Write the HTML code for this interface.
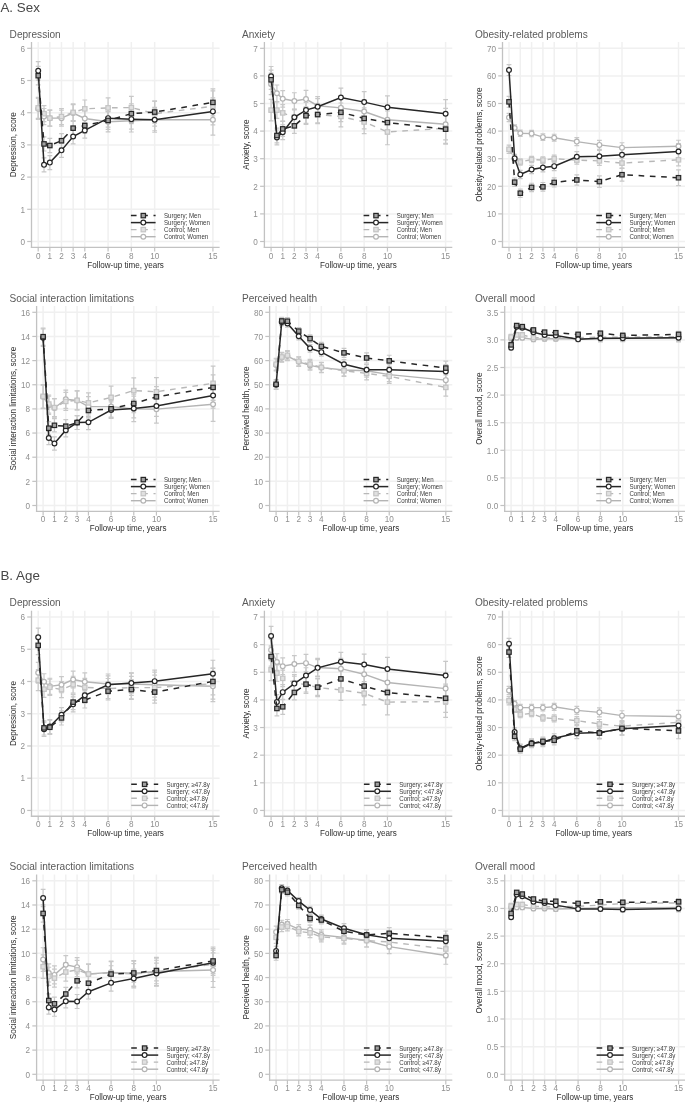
<!DOCTYPE html>
<html><head><meta charset="utf-8"><title>Figure</title>
<style>
html,body{margin:0;padding:0;background:#fff;}
body{width:685px;height:1104px;overflow:hidden;}
svg{display:block;font-family:"Liberation Sans", sans-serif;filter:grayscale(1);}
</style></head>
<body>
<svg width="685" height="1104" viewBox="0 0 685 1104">
<rect width="685" height="1104" fill="#fff"/>
<text transform="translate(0.4 11.7) scale(0.985 1)" fill="#474747" font-size="13.6">A. Sex</text>
<text transform="translate(0.4 580.3) scale(0.985 1)" fill="#474747" font-size="13.6">B. Age</text>
<line x1="31.5" y1="241.5" x2="219.6" y2="241.5" stroke="#eef0f0" stroke-width="1.5"/>
<line x1="31.5" y1="209.3" x2="219.6" y2="209.3" stroke="#eef0f0" stroke-width="1.5"/>
<line x1="31.5" y1="177.1" x2="219.6" y2="177.1" stroke="#eef0f0" stroke-width="1.5"/>
<line x1="31.5" y1="144.9" x2="219.6" y2="144.9" stroke="#eef0f0" stroke-width="1.5"/>
<line x1="31.5" y1="112.7" x2="219.6" y2="112.7" stroke="#eef0f0" stroke-width="1.5"/>
<line x1="31.5" y1="80.5" x2="219.6" y2="80.5" stroke="#eef0f0" stroke-width="1.5"/>
<line x1="31.5" y1="48.3" x2="219.6" y2="48.3" stroke="#eef0f0" stroke-width="1.5"/>
<line x1="38.2" y1="42" x2="38.2" y2="247.3" stroke="#eef0f0" stroke-width="1.5"/>
<line x1="49.84" y1="42" x2="49.84" y2="247.3" stroke="#eef0f0" stroke-width="1.5"/>
<line x1="61.49" y1="42" x2="61.49" y2="247.3" stroke="#eef0f0" stroke-width="1.5"/>
<line x1="73.14" y1="42" x2="73.14" y2="247.3" stroke="#eef0f0" stroke-width="1.5"/>
<line x1="84.79" y1="42" x2="84.79" y2="247.3" stroke="#eef0f0" stroke-width="1.5"/>
<line x1="108.08" y1="42" x2="108.08" y2="247.3" stroke="#eef0f0" stroke-width="1.5"/>
<line x1="131.37" y1="42" x2="131.37" y2="247.3" stroke="#eef0f0" stroke-width="1.5"/>
<line x1="154.67" y1="42" x2="154.67" y2="247.3" stroke="#eef0f0" stroke-width="1.5"/>
<line x1="212.9" y1="42" x2="212.9" y2="247.3" stroke="#eef0f0" stroke-width="1.5"/>
<line x1="31.5" y1="42" x2="31.5" y2="247.95" stroke="#c2c2c2" stroke-width="1.3"/>
<line x1="30.85" y1="247.3" x2="219.6" y2="247.3" stroke="#c2c2c2" stroke-width="1.3"/>
<line x1="27.2" y1="241.5" x2="31.5" y2="241.5" stroke="#c2c2c2" stroke-width="1.2"/>
<text transform="translate(25 244.7) scale(0.87 1)" text-anchor="end" fill="#8f8f8f" font-size="9.4">0</text>
<line x1="27.2" y1="209.3" x2="31.5" y2="209.3" stroke="#c2c2c2" stroke-width="1.2"/>
<text transform="translate(25 212.5) scale(0.87 1)" text-anchor="end" fill="#8f8f8f" font-size="9.4">1</text>
<line x1="27.2" y1="177.1" x2="31.5" y2="177.1" stroke="#c2c2c2" stroke-width="1.2"/>
<text transform="translate(25 180.3) scale(0.87 1)" text-anchor="end" fill="#8f8f8f" font-size="9.4">2</text>
<line x1="27.2" y1="144.9" x2="31.5" y2="144.9" stroke="#c2c2c2" stroke-width="1.2"/>
<text transform="translate(25 148.1) scale(0.87 1)" text-anchor="end" fill="#8f8f8f" font-size="9.4">3</text>
<line x1="27.2" y1="112.7" x2="31.5" y2="112.7" stroke="#c2c2c2" stroke-width="1.2"/>
<text transform="translate(25 115.9) scale(0.87 1)" text-anchor="end" fill="#8f8f8f" font-size="9.4">4</text>
<line x1="27.2" y1="80.5" x2="31.5" y2="80.5" stroke="#c2c2c2" stroke-width="1.2"/>
<text transform="translate(25 83.7) scale(0.87 1)" text-anchor="end" fill="#8f8f8f" font-size="9.4">5</text>
<line x1="27.2" y1="48.3" x2="31.5" y2="48.3" stroke="#c2c2c2" stroke-width="1.2"/>
<text transform="translate(25 51.5) scale(0.87 1)" text-anchor="end" fill="#8f8f8f" font-size="9.4">6</text>
<line x1="38.2" y1="247.3" x2="38.2" y2="251.6" stroke="#c2c2c2" stroke-width="1.2"/>
<text transform="translate(38.2 258.5) scale(0.87 1)" text-anchor="middle" fill="#8f8f8f" font-size="9.4">0</text>
<line x1="49.84" y1="247.3" x2="49.84" y2="251.6" stroke="#c2c2c2" stroke-width="1.2"/>
<text transform="translate(49.84 258.5) scale(0.87 1)" text-anchor="middle" fill="#8f8f8f" font-size="9.4">1</text>
<line x1="61.49" y1="247.3" x2="61.49" y2="251.6" stroke="#c2c2c2" stroke-width="1.2"/>
<text transform="translate(61.49 258.5) scale(0.87 1)" text-anchor="middle" fill="#8f8f8f" font-size="9.4">2</text>
<line x1="73.14" y1="247.3" x2="73.14" y2="251.6" stroke="#c2c2c2" stroke-width="1.2"/>
<text transform="translate(73.14 258.5) scale(0.87 1)" text-anchor="middle" fill="#8f8f8f" font-size="9.4">3</text>
<line x1="84.79" y1="247.3" x2="84.79" y2="251.6" stroke="#c2c2c2" stroke-width="1.2"/>
<text transform="translate(84.79 258.5) scale(0.87 1)" text-anchor="middle" fill="#8f8f8f" font-size="9.4">4</text>
<line x1="108.08" y1="247.3" x2="108.08" y2="251.6" stroke="#c2c2c2" stroke-width="1.2"/>
<text transform="translate(108.08 258.5) scale(0.87 1)" text-anchor="middle" fill="#8f8f8f" font-size="9.4">6</text>
<line x1="131.37" y1="247.3" x2="131.37" y2="251.6" stroke="#c2c2c2" stroke-width="1.2"/>
<text transform="translate(131.37 258.5) scale(0.87 1)" text-anchor="middle" fill="#8f8f8f" font-size="9.4">8</text>
<line x1="154.67" y1="247.3" x2="154.67" y2="251.6" stroke="#c2c2c2" stroke-width="1.2"/>
<text transform="translate(154.67 258.5) scale(0.87 1)" text-anchor="middle" fill="#8f8f8f" font-size="9.4">10</text>
<line x1="212.9" y1="247.3" x2="212.9" y2="251.6" stroke="#c2c2c2" stroke-width="1.2"/>
<text transform="translate(212.9 258.5) scale(0.87 1)" text-anchor="middle" fill="#8f8f8f" font-size="9.4">15</text>
<text transform="translate(9.6 37.6)" fill="#5a5a5a" font-size="10.1">Depression</text>
<text transform="translate(125.55 267.7) scale(0.94 1)" text-anchor="middle" fill="#2e2e2e" font-size="8.6">Follow-up time, years</text>
<text transform="translate(16.1 144.65) rotate(-90) scale(0.94 1)" text-anchor="middle" fill="#2e2e2e" font-size="8.6">Depression, score</text>
<path d="M38.2 98.37V119.3M35.8 98.37h4.8M35.8 119.3h4.8" stroke="#c8c8c8" stroke-width="1.2" fill="none"/>
<path d="M44.02 108.51V124.61M41.62 108.51h4.8M41.62 124.61h4.8" stroke="#c8c8c8" stroke-width="1.2" fill="none"/>
<path d="M49.84 110.12V126.22M47.44 110.12h4.8M47.44 126.22h4.8" stroke="#c8c8c8" stroke-width="1.2" fill="none"/>
<path d="M61.49 110.12V126.22M59.09 110.12h4.8M59.09 126.22h4.8" stroke="#c8c8c8" stroke-width="1.2" fill="none"/>
<path d="M73.14 104.57V121.47M70.74 104.57h4.8M70.74 121.47h4.8" stroke="#c8c8c8" stroke-width="1.2" fill="none"/>
<path d="M84.79 109.64V127.35M82.39 109.64h4.8M82.39 127.35h4.8" stroke="#c8c8c8" stroke-width="1.2" fill="none"/>
<path d="M108.08 111.65V131.78M105.68 111.65h4.8M105.68 131.78h4.8" stroke="#c8c8c8" stroke-width="1.2" fill="none"/>
<path d="M131.37 109.48V132.02M128.97 109.48h4.8M128.97 132.02h4.8" stroke="#c8c8c8" stroke-width="1.2" fill="none"/>
<path d="M154.67 107.31V132.26M152.27 107.31h4.8M152.27 132.26h4.8" stroke="#c8c8c8" stroke-width="1.2" fill="none"/>
<path d="M212.9 104.49V135.08M210.5 104.49h4.8M210.5 135.08h4.8" stroke="#c8c8c8" stroke-width="1.2" fill="none"/>
<path d="M38.2 97.41V118.34M35.8 97.41h4.8M35.8 118.34h4.8" stroke="#c8c8c8" stroke-width="1.2" fill="none"/>
<path d="M44.02 105.62V121.72M41.62 105.62h4.8M41.62 121.72h4.8" stroke="#c8c8c8" stroke-width="1.2" fill="none"/>
<path d="M49.84 110.12V126.22M47.44 110.12h4.8M47.44 126.22h4.8" stroke="#c8c8c8" stroke-width="1.2" fill="none"/>
<path d="M61.49 108.51V124.61M59.09 108.51h4.8M59.09 124.61h4.8" stroke="#c8c8c8" stroke-width="1.2" fill="none"/>
<path d="M73.14 103.93V120.83M70.74 103.93h4.8M70.74 120.83h4.8" stroke="#c8c8c8" stroke-width="1.2" fill="none"/>
<path d="M84.79 99.98V117.69M82.39 99.98h4.8M82.39 117.69h4.8" stroke="#c8c8c8" stroke-width="1.2" fill="none"/>
<path d="M108.08 97.81V117.93M105.68 97.81h4.8M105.68 117.93h4.8" stroke="#c8c8c8" stroke-width="1.2" fill="none"/>
<path d="M131.37 96.28V118.82M128.97 96.28h4.8M128.97 118.82h4.8" stroke="#c8c8c8" stroke-width="1.2" fill="none"/>
<path d="M154.67 101.19V126.14M152.27 101.19h4.8M152.27 126.14h4.8" stroke="#c8c8c8" stroke-width="1.2" fill="none"/>
<path d="M212.9 90.97V121.56M210.5 90.97h4.8M210.5 121.56h4.8" stroke="#c8c8c8" stroke-width="1.2" fill="none"/>
<path d="M38.2 61.63V80.05M35.8 61.63h4.8M35.8 80.05h4.8" stroke="#c8c8c8" stroke-width="1.2" fill="none"/>
<path d="M44.02 157.78V171.95M41.62 157.78h4.8M41.62 171.95h4.8" stroke="#c8c8c8" stroke-width="1.2" fill="none"/>
<path d="M49.84 155.53V169.69M47.44 155.53h4.8M47.44 169.69h4.8" stroke="#c8c8c8" stroke-width="1.2" fill="none"/>
<path d="M61.49 143.29V157.46M59.09 143.29h4.8M59.09 157.46h4.8" stroke="#c8c8c8" stroke-width="1.2" fill="none"/>
<path d="M73.14 129.09V143.97M70.74 129.09h4.8M70.74 143.97h4.8" stroke="#c8c8c8" stroke-width="1.2" fill="none"/>
<path d="M84.79 122.62V138.2M82.39 122.62h4.8M82.39 138.2h4.8" stroke="#c8c8c8" stroke-width="1.2" fill="none"/>
<path d="M108.08 109.32V127.03M105.68 109.32h4.8M105.68 127.03h4.8" stroke="#c8c8c8" stroke-width="1.2" fill="none"/>
<path d="M131.37 109.22V129.06M128.97 109.22h4.8M128.97 129.06h4.8" stroke="#c8c8c8" stroke-width="1.2" fill="none"/>
<path d="M154.67 108.8V130.76M152.27 108.8h4.8M152.27 130.76h4.8" stroke="#c8c8c8" stroke-width="1.2" fill="none"/>
<path d="M212.9 97.95V124.87M210.5 97.95h4.8M210.5 124.87h4.8" stroke="#c8c8c8" stroke-width="1.2" fill="none"/>
<path d="M38.2 66.46V84.88M35.8 66.46h4.8M35.8 84.88h4.8" stroke="#c8c8c8" stroke-width="1.2" fill="none"/>
<path d="M44.02 136.85V151.02M41.62 136.85h4.8M41.62 151.02h4.8" stroke="#c8c8c8" stroke-width="1.2" fill="none"/>
<path d="M49.84 138.46V152.63M47.44 138.46h4.8M47.44 152.63h4.8" stroke="#c8c8c8" stroke-width="1.2" fill="none"/>
<path d="M61.49 133.63V147.8M59.09 133.63h4.8M59.09 147.8h4.8" stroke="#c8c8c8" stroke-width="1.2" fill="none"/>
<path d="M73.14 120.72V135.59M70.74 120.72h4.8M70.74 135.59h4.8" stroke="#c8c8c8" stroke-width="1.2" fill="none"/>
<path d="M84.79 117.79V133.37M82.39 117.79h4.8M82.39 133.37h4.8" stroke="#c8c8c8" stroke-width="1.2" fill="none"/>
<path d="M108.08 111.57V129.28M105.68 111.57h4.8M105.68 129.28h4.8" stroke="#c8c8c8" stroke-width="1.2" fill="none"/>
<path d="M131.37 103.75V123.58M128.97 103.75h4.8M128.97 123.58h4.8" stroke="#c8c8c8" stroke-width="1.2" fill="none"/>
<path d="M154.67 101.08V123.04M152.27 101.08h4.8M152.27 123.04h4.8" stroke="#c8c8c8" stroke-width="1.2" fill="none"/>
<path d="M212.9 88.94V115.86M210.5 88.94h4.8M210.5 115.86h4.8" stroke="#c8c8c8" stroke-width="1.2" fill="none"/>
<polyline points="38.2,108.84 44.02,116.56 49.84,118.17 61.49,118.17 73.14,113.02 84.79,118.5 108.08,121.72 131.37,120.75 154.67,119.78 212.9,119.78" fill="none" stroke="#b4b4b4" stroke-width="1.4"/>
<circle cx="38.2" cy="108.84" r="2.4" fill="#ffffff" stroke="#b4b4b4" stroke-width="1.2"/>
<circle cx="44.02" cy="116.56" r="2.4" fill="#ffffff" stroke="#b4b4b4" stroke-width="1.2"/>
<circle cx="49.84" cy="118.17" r="2.4" fill="#ffffff" stroke="#b4b4b4" stroke-width="1.2"/>
<circle cx="61.49" cy="118.17" r="2.4" fill="#ffffff" stroke="#b4b4b4" stroke-width="1.2"/>
<circle cx="73.14" cy="113.02" r="2.4" fill="#ffffff" stroke="#b4b4b4" stroke-width="1.2"/>
<circle cx="84.79" cy="118.5" r="2.4" fill="#ffffff" stroke="#b4b4b4" stroke-width="1.2"/>
<circle cx="108.08" cy="121.72" r="2.4" fill="#ffffff" stroke="#b4b4b4" stroke-width="1.2"/>
<circle cx="131.37" cy="120.75" r="2.4" fill="#ffffff" stroke="#b4b4b4" stroke-width="1.2"/>
<circle cx="154.67" cy="119.78" r="2.4" fill="#ffffff" stroke="#b4b4b4" stroke-width="1.2"/>
<circle cx="212.9" cy="119.78" r="2.4" fill="#ffffff" stroke="#b4b4b4" stroke-width="1.2"/>
<polyline points="38.2,107.87 44.02,113.67 49.84,118.17 61.49,116.56 73.14,112.38 84.79,108.84 108.08,107.87 131.37,107.55 154.67,113.67 212.9,106.26" fill="none" stroke="#b8b8b8" stroke-width="1.4" stroke-dasharray="5.65 5.65"/>
<rect x="36" y="105.67" width="4.4" height="4.4" fill="#e0e0e0" stroke="#c4c4c4" stroke-width="1.2"/>
<rect x="41.82" y="111.47" width="4.4" height="4.4" fill="#e0e0e0" stroke="#c4c4c4" stroke-width="1.2"/>
<rect x="47.64" y="115.97" width="4.4" height="4.4" fill="#e0e0e0" stroke="#c4c4c4" stroke-width="1.2"/>
<rect x="59.29" y="114.36" width="4.4" height="4.4" fill="#e0e0e0" stroke="#c4c4c4" stroke-width="1.2"/>
<rect x="70.94" y="110.18" width="4.4" height="4.4" fill="#e0e0e0" stroke="#c4c4c4" stroke-width="1.2"/>
<rect x="82.59" y="106.64" width="4.4" height="4.4" fill="#e0e0e0" stroke="#c4c4c4" stroke-width="1.2"/>
<rect x="105.88" y="105.67" width="4.4" height="4.4" fill="#e0e0e0" stroke="#c4c4c4" stroke-width="1.2"/>
<rect x="129.17" y="105.35" width="4.4" height="4.4" fill="#e0e0e0" stroke="#c4c4c4" stroke-width="1.2"/>
<rect x="152.47" y="111.47" width="4.4" height="4.4" fill="#e0e0e0" stroke="#c4c4c4" stroke-width="1.2"/>
<rect x="210.7" y="104.06" width="4.4" height="4.4" fill="#e0e0e0" stroke="#c4c4c4" stroke-width="1.2"/>
<polyline points="38.2,70.84 44.02,164.86 49.84,162.61 61.49,150.37 73.14,136.53 84.79,130.41 108.08,118.17 131.37,119.14 154.67,119.78 212.9,111.41" fill="none" stroke="#262626" stroke-width="1.5"/>
<circle cx="38.2" cy="70.84" r="2.4" fill="#ffffff" stroke="#262626" stroke-width="1.2"/>
<circle cx="44.02" cy="164.86" r="2.4" fill="#ffffff" stroke="#262626" stroke-width="1.2"/>
<circle cx="49.84" cy="162.61" r="2.4" fill="#ffffff" stroke="#262626" stroke-width="1.2"/>
<circle cx="61.49" cy="150.37" r="2.4" fill="#ffffff" stroke="#262626" stroke-width="1.2"/>
<circle cx="73.14" cy="136.53" r="2.4" fill="#ffffff" stroke="#262626" stroke-width="1.2"/>
<circle cx="84.79" cy="130.41" r="2.4" fill="#ffffff" stroke="#262626" stroke-width="1.2"/>
<circle cx="108.08" cy="118.17" r="2.4" fill="#ffffff" stroke="#262626" stroke-width="1.2"/>
<circle cx="131.37" cy="119.14" r="2.4" fill="#ffffff" stroke="#262626" stroke-width="1.2"/>
<circle cx="154.67" cy="119.78" r="2.4" fill="#ffffff" stroke="#262626" stroke-width="1.2"/>
<circle cx="212.9" cy="111.41" r="2.4" fill="#ffffff" stroke="#262626" stroke-width="1.2"/>
<polyline points="38.2,75.67 44.02,143.93 49.84,145.54 61.49,140.71 73.14,128.16 84.79,125.58 108.08,120.43 131.37,113.67 154.67,112.06 212.9,102.4" fill="none" stroke="#262626" stroke-width="1.5" stroke-dasharray="5.65 5.65"/>
<rect x="36" y="73.47" width="4.4" height="4.4" fill="#a0a0a0" stroke="#262626" stroke-width="1.2"/>
<rect x="41.82" y="141.73" width="4.4" height="4.4" fill="#a0a0a0" stroke="#262626" stroke-width="1.2"/>
<rect x="47.64" y="143.34" width="4.4" height="4.4" fill="#a0a0a0" stroke="#262626" stroke-width="1.2"/>
<rect x="59.29" y="138.51" width="4.4" height="4.4" fill="#a0a0a0" stroke="#262626" stroke-width="1.2"/>
<rect x="70.94" y="125.96" width="4.4" height="4.4" fill="#a0a0a0" stroke="#262626" stroke-width="1.2"/>
<rect x="82.59" y="123.38" width="4.4" height="4.4" fill="#a0a0a0" stroke="#262626" stroke-width="1.2"/>
<rect x="105.88" y="118.23" width="4.4" height="4.4" fill="#a0a0a0" stroke="#262626" stroke-width="1.2"/>
<rect x="129.17" y="111.47" width="4.4" height="4.4" fill="#a0a0a0" stroke="#262626" stroke-width="1.2"/>
<rect x="152.47" y="109.86" width="4.4" height="4.4" fill="#a0a0a0" stroke="#262626" stroke-width="1.2"/>
<rect x="210.7" y="100.2" width="4.4" height="4.4" fill="#a0a0a0" stroke="#262626" stroke-width="1.2"/>
<line x1="130.9" y1="215.6" x2="155.6" y2="215.6" stroke="#262626" stroke-width="1.5" stroke-dasharray="5.65 5.65"/>
<rect x="141.1" y="213.4" width="4.4" height="4.4" fill="#a0a0a0" stroke="#262626" stroke-width="1.2"/>
<text transform="translate(164 218) scale(0.905 1)" fill="#3a3a3a" font-size="6.8">Surgery; Men</text>
<line x1="130.9" y1="222.6" x2="155.6" y2="222.6" stroke="#262626" stroke-width="1.5"/>
<circle cx="143.3" cy="222.6" r="2.4" fill="#ffffff" stroke="#262626" stroke-width="1.2"/>
<text transform="translate(164 225) scale(0.905 1)" fill="#3a3a3a" font-size="6.8">Surgery; Women</text>
<line x1="130.9" y1="229.6" x2="155.6" y2="229.6" stroke="#b8b8b8" stroke-width="1.4" stroke-dasharray="5.65 5.65"/>
<rect x="141.1" y="227.4" width="4.4" height="4.4" fill="#e0e0e0" stroke="#c4c4c4" stroke-width="1.2"/>
<text transform="translate(164 232) scale(0.905 1)" fill="#3a3a3a" font-size="6.8">Control; Men</text>
<line x1="130.9" y1="236.7" x2="155.6" y2="236.7" stroke="#b4b4b4" stroke-width="1.4"/>
<circle cx="143.3" cy="236.7" r="2.4" fill="#ffffff" stroke="#b4b4b4" stroke-width="1.2"/>
<text transform="translate(164 239.1) scale(0.905 1)" fill="#3a3a3a" font-size="6.8">Control; Women</text>
<line x1="264.4" y1="241.5" x2="452.3" y2="241.5" stroke="#eef0f0" stroke-width="1.5"/>
<line x1="264.4" y1="213.9" x2="452.3" y2="213.9" stroke="#eef0f0" stroke-width="1.5"/>
<line x1="264.4" y1="186.3" x2="452.3" y2="186.3" stroke="#eef0f0" stroke-width="1.5"/>
<line x1="264.4" y1="158.7" x2="452.3" y2="158.7" stroke="#eef0f0" stroke-width="1.5"/>
<line x1="264.4" y1="131.1" x2="452.3" y2="131.1" stroke="#eef0f0" stroke-width="1.5"/>
<line x1="264.4" y1="103.5" x2="452.3" y2="103.5" stroke="#eef0f0" stroke-width="1.5"/>
<line x1="264.4" y1="75.9" x2="452.3" y2="75.9" stroke="#eef0f0" stroke-width="1.5"/>
<line x1="264.4" y1="48.3" x2="452.3" y2="48.3" stroke="#eef0f0" stroke-width="1.5"/>
<line x1="271.09" y1="42" x2="271.09" y2="247.3" stroke="#eef0f0" stroke-width="1.5"/>
<line x1="282.72" y1="42" x2="282.72" y2="247.3" stroke="#eef0f0" stroke-width="1.5"/>
<line x1="294.36" y1="42" x2="294.36" y2="247.3" stroke="#eef0f0" stroke-width="1.5"/>
<line x1="305.99" y1="42" x2="305.99" y2="247.3" stroke="#eef0f0" stroke-width="1.5"/>
<line x1="317.63" y1="42" x2="317.63" y2="247.3" stroke="#eef0f0" stroke-width="1.5"/>
<line x1="340.9" y1="42" x2="340.9" y2="247.3" stroke="#eef0f0" stroke-width="1.5"/>
<line x1="364.17" y1="42" x2="364.17" y2="247.3" stroke="#eef0f0" stroke-width="1.5"/>
<line x1="387.44" y1="42" x2="387.44" y2="247.3" stroke="#eef0f0" stroke-width="1.5"/>
<line x1="445.61" y1="42" x2="445.61" y2="247.3" stroke="#eef0f0" stroke-width="1.5"/>
<line x1="264.4" y1="42" x2="264.4" y2="247.95" stroke="#c2c2c2" stroke-width="1.3"/>
<line x1="263.75" y1="247.3" x2="452.3" y2="247.3" stroke="#c2c2c2" stroke-width="1.3"/>
<line x1="260.1" y1="241.5" x2="264.4" y2="241.5" stroke="#c2c2c2" stroke-width="1.2"/>
<text transform="translate(257.9 244.7) scale(0.87 1)" text-anchor="end" fill="#8f8f8f" font-size="9.4">0</text>
<line x1="260.1" y1="213.9" x2="264.4" y2="213.9" stroke="#c2c2c2" stroke-width="1.2"/>
<text transform="translate(257.9 217.1) scale(0.87 1)" text-anchor="end" fill="#8f8f8f" font-size="9.4">1</text>
<line x1="260.1" y1="186.3" x2="264.4" y2="186.3" stroke="#c2c2c2" stroke-width="1.2"/>
<text transform="translate(257.9 189.5) scale(0.87 1)" text-anchor="end" fill="#8f8f8f" font-size="9.4">2</text>
<line x1="260.1" y1="158.7" x2="264.4" y2="158.7" stroke="#c2c2c2" stroke-width="1.2"/>
<text transform="translate(257.9 161.9) scale(0.87 1)" text-anchor="end" fill="#8f8f8f" font-size="9.4">3</text>
<line x1="260.1" y1="131.1" x2="264.4" y2="131.1" stroke="#c2c2c2" stroke-width="1.2"/>
<text transform="translate(257.9 134.3) scale(0.87 1)" text-anchor="end" fill="#8f8f8f" font-size="9.4">4</text>
<line x1="260.1" y1="103.5" x2="264.4" y2="103.5" stroke="#c2c2c2" stroke-width="1.2"/>
<text transform="translate(257.9 106.7) scale(0.87 1)" text-anchor="end" fill="#8f8f8f" font-size="9.4">5</text>
<line x1="260.1" y1="75.9" x2="264.4" y2="75.9" stroke="#c2c2c2" stroke-width="1.2"/>
<text transform="translate(257.9 79.1) scale(0.87 1)" text-anchor="end" fill="#8f8f8f" font-size="9.4">6</text>
<line x1="260.1" y1="48.3" x2="264.4" y2="48.3" stroke="#c2c2c2" stroke-width="1.2"/>
<text transform="translate(257.9 51.5) scale(0.87 1)" text-anchor="end" fill="#8f8f8f" font-size="9.4">7</text>
<line x1="271.09" y1="247.3" x2="271.09" y2="251.6" stroke="#c2c2c2" stroke-width="1.2"/>
<text transform="translate(271.09 258.5) scale(0.87 1)" text-anchor="middle" fill="#8f8f8f" font-size="9.4">0</text>
<line x1="282.72" y1="247.3" x2="282.72" y2="251.6" stroke="#c2c2c2" stroke-width="1.2"/>
<text transform="translate(282.72 258.5) scale(0.87 1)" text-anchor="middle" fill="#8f8f8f" font-size="9.4">1</text>
<line x1="294.36" y1="247.3" x2="294.36" y2="251.6" stroke="#c2c2c2" stroke-width="1.2"/>
<text transform="translate(294.36 258.5) scale(0.87 1)" text-anchor="middle" fill="#8f8f8f" font-size="9.4">2</text>
<line x1="305.99" y1="247.3" x2="305.99" y2="251.6" stroke="#c2c2c2" stroke-width="1.2"/>
<text transform="translate(305.99 258.5) scale(0.87 1)" text-anchor="middle" fill="#8f8f8f" font-size="9.4">3</text>
<line x1="317.63" y1="247.3" x2="317.63" y2="251.6" stroke="#c2c2c2" stroke-width="1.2"/>
<text transform="translate(317.63 258.5) scale(0.87 1)" text-anchor="middle" fill="#8f8f8f" font-size="9.4">4</text>
<line x1="340.9" y1="247.3" x2="340.9" y2="251.6" stroke="#c2c2c2" stroke-width="1.2"/>
<text transform="translate(340.9 258.5) scale(0.87 1)" text-anchor="middle" fill="#8f8f8f" font-size="9.4">6</text>
<line x1="364.17" y1="247.3" x2="364.17" y2="251.6" stroke="#c2c2c2" stroke-width="1.2"/>
<text transform="translate(364.17 258.5) scale(0.87 1)" text-anchor="middle" fill="#8f8f8f" font-size="9.4">8</text>
<line x1="387.44" y1="247.3" x2="387.44" y2="251.6" stroke="#c2c2c2" stroke-width="1.2"/>
<text transform="translate(387.44 258.5) scale(0.87 1)" text-anchor="middle" fill="#8f8f8f" font-size="9.4">10</text>
<line x1="445.61" y1="247.3" x2="445.61" y2="251.6" stroke="#c2c2c2" stroke-width="1.2"/>
<text transform="translate(445.61 258.5) scale(0.87 1)" text-anchor="middle" fill="#8f8f8f" font-size="9.4">15</text>
<text transform="translate(241.9 37.6)" fill="#5a5a5a" font-size="10.1">Anxiety</text>
<text transform="translate(358.35 267.7) scale(0.94 1)" text-anchor="middle" fill="#2e2e2e" font-size="8.6">Follow-up time, years</text>
<text transform="translate(248.8 144.65) rotate(-90) scale(0.94 1)" text-anchor="middle" fill="#2e2e2e" font-size="8.6">Anxiety, score</text>
<path d="M271.09 73.14V94.67M268.69 73.14h4.8M268.69 94.67h4.8" stroke="#c8c8c8" stroke-width="1.2" fill="none"/>
<path d="M276.91 85.01V101.57M274.51 85.01h4.8M274.51 101.57h4.8" stroke="#c8c8c8" stroke-width="1.2" fill="none"/>
<path d="M282.72 90.53V107.09M280.32 90.53h4.8M280.32 107.09h4.8" stroke="#c8c8c8" stroke-width="1.2" fill="none"/>
<path d="M294.36 92.74V109.3M291.96 92.74h4.8M291.96 109.3h4.8" stroke="#c8c8c8" stroke-width="1.2" fill="none"/>
<path d="M305.99 90.39V107.78M303.59 90.39h4.8M303.59 107.78h4.8" stroke="#c8c8c8" stroke-width="1.2" fill="none"/>
<path d="M317.63 96.6V114.82M315.23 96.6h4.8M315.23 114.82h4.8" stroke="#c8c8c8" stroke-width="1.2" fill="none"/>
<path d="M340.9 97.57V118.27M338.5 97.57h4.8M338.5 118.27h4.8" stroke="#c8c8c8" stroke-width="1.2" fill="none"/>
<path d="M364.17 99.91V123.1M361.77 99.91h4.8M361.77 123.1h4.8" stroke="#c8c8c8" stroke-width="1.2" fill="none"/>
<path d="M387.44 106.95V132.62M385.04 106.95h4.8M385.04 132.62h4.8" stroke="#c8c8c8" stroke-width="1.2" fill="none"/>
<path d="M445.61 108.47V139.93M443.21 108.47h4.8M443.21 139.93h4.8" stroke="#c8c8c8" stroke-width="1.2" fill="none"/>
<path d="M271.09 99.36V120.89M268.69 99.36h4.8M268.69 120.89h4.8" stroke="#c8c8c8" stroke-width="1.2" fill="none"/>
<path d="M276.91 101.84V118.4M274.51 101.84h4.8M274.51 118.4h4.8" stroke="#c8c8c8" stroke-width="1.2" fill="none"/>
<path d="M282.72 104.6V121.16M280.32 104.6h4.8M280.32 121.16h4.8" stroke="#c8c8c8" stroke-width="1.2" fill="none"/>
<path d="M294.36 109.02V125.58M291.96 109.02h4.8M291.96 125.58h4.8" stroke="#c8c8c8" stroke-width="1.2" fill="none"/>
<path d="M305.99 106.95V124.34M303.59 106.95h4.8M303.59 124.34h4.8" stroke="#c8c8c8" stroke-width="1.2" fill="none"/>
<path d="M317.63 105.43V123.65M315.23 105.43h4.8M315.23 123.65h4.8" stroke="#c8c8c8" stroke-width="1.2" fill="none"/>
<path d="M340.9 106.12V126.82M338.5 106.12h4.8M338.5 126.82h4.8" stroke="#c8c8c8" stroke-width="1.2" fill="none"/>
<path d="M364.17 110.4V133.58M361.77 110.4h4.8M361.77 133.58h4.8" stroke="#c8c8c8" stroke-width="1.2" fill="none"/>
<path d="M387.44 119.09V144.76M385.04 119.09h4.8M385.04 144.76h4.8" stroke="#c8c8c8" stroke-width="1.2" fill="none"/>
<path d="M445.61 112.61V144.07M443.21 112.61h4.8M443.21 144.07h4.8" stroke="#c8c8c8" stroke-width="1.2" fill="none"/>
<path d="M271.09 66.49V85.86M268.69 66.49h4.8M268.69 85.86h4.8" stroke="#c8c8c8" stroke-width="1.2" fill="none"/>
<path d="M276.91 130V144.9M274.51 130h4.8M274.51 144.9h4.8" stroke="#c8c8c8" stroke-width="1.2" fill="none"/>
<path d="M282.72 124.75V139.66M280.32 124.75h4.8M280.32 139.66h4.8" stroke="#c8c8c8" stroke-width="1.2" fill="none"/>
<path d="M294.36 109.85V124.75M291.96 109.85h4.8M291.96 124.75h4.8" stroke="#c8c8c8" stroke-width="1.2" fill="none"/>
<path d="M305.99 102.3V117.95M303.59 102.3h4.8M303.59 117.95h4.8" stroke="#c8c8c8" stroke-width="1.2" fill="none"/>
<path d="M317.63 98.61V115.01M315.23 98.61h4.8M315.23 115.01h4.8" stroke="#c8c8c8" stroke-width="1.2" fill="none"/>
<path d="M340.9 88.11V106.74M338.5 88.11h4.8M338.5 106.74h4.8" stroke="#c8c8c8" stroke-width="1.2" fill="none"/>
<path d="M364.17 91.69V112.55M361.77 91.69h4.8M361.77 112.55h4.8" stroke="#c8c8c8" stroke-width="1.2" fill="none"/>
<path d="M387.44 95.81V118.91M385.04 95.81h4.8M385.04 118.91h4.8" stroke="#c8c8c8" stroke-width="1.2" fill="none"/>
<path d="M445.61 99.55V127.87M443.21 99.55h4.8M443.21 127.87h4.8" stroke="#c8c8c8" stroke-width="1.2" fill="none"/>
<path d="M271.09 70.08V89.45M268.69 70.08h4.8M268.69 89.45h4.8" stroke="#c8c8c8" stroke-width="1.2" fill="none"/>
<path d="M276.91 128.06V142.97M274.51 128.06h4.8M274.51 142.97h4.8" stroke="#c8c8c8" stroke-width="1.2" fill="none"/>
<path d="M282.72 121.44V136.34M280.32 121.44h4.8M280.32 136.34h4.8" stroke="#c8c8c8" stroke-width="1.2" fill="none"/>
<path d="M294.36 118.4V133.31M291.96 118.4h4.8M291.96 133.31h4.8" stroke="#c8c8c8" stroke-width="1.2" fill="none"/>
<path d="M305.99 107.82V123.47M303.59 107.82h4.8M303.59 123.47h4.8" stroke="#c8c8c8" stroke-width="1.2" fill="none"/>
<path d="M317.63 106.34V122.74M315.23 106.34h4.8M315.23 122.74h4.8" stroke="#c8c8c8" stroke-width="1.2" fill="none"/>
<path d="M340.9 103.02V121.65M338.5 103.02h4.8M338.5 121.65h4.8" stroke="#c8c8c8" stroke-width="1.2" fill="none"/>
<path d="M364.17 107.97V128.84M361.77 107.97h4.8M361.77 128.84h4.8" stroke="#c8c8c8" stroke-width="1.2" fill="none"/>
<path d="M387.44 110.99V134.09M385.04 110.99h4.8M385.04 134.09h4.8" stroke="#c8c8c8" stroke-width="1.2" fill="none"/>
<path d="M445.61 115.01V143.33M443.21 115.01h4.8M443.21 143.33h4.8" stroke="#c8c8c8" stroke-width="1.2" fill="none"/>
<polyline points="271.09,83.9 276.91,93.29 282.72,98.81 294.36,101.02 305.99,99.08 317.63,105.71 340.9,107.92 364.17,111.5 387.44,119.78 445.61,124.2" fill="none" stroke="#b4b4b4" stroke-width="1.4"/>
<circle cx="271.09" cy="83.9" r="2.4" fill="#ffffff" stroke="#b4b4b4" stroke-width="1.2"/>
<circle cx="276.91" cy="93.29" r="2.4" fill="#ffffff" stroke="#b4b4b4" stroke-width="1.2"/>
<circle cx="282.72" cy="98.81" r="2.4" fill="#ffffff" stroke="#b4b4b4" stroke-width="1.2"/>
<circle cx="294.36" cy="101.02" r="2.4" fill="#ffffff" stroke="#b4b4b4" stroke-width="1.2"/>
<circle cx="305.99" cy="99.08" r="2.4" fill="#ffffff" stroke="#b4b4b4" stroke-width="1.2"/>
<circle cx="317.63" cy="105.71" r="2.4" fill="#ffffff" stroke="#b4b4b4" stroke-width="1.2"/>
<circle cx="340.9" cy="107.92" r="2.4" fill="#ffffff" stroke="#b4b4b4" stroke-width="1.2"/>
<circle cx="364.17" cy="111.5" r="2.4" fill="#ffffff" stroke="#b4b4b4" stroke-width="1.2"/>
<circle cx="387.44" cy="119.78" r="2.4" fill="#ffffff" stroke="#b4b4b4" stroke-width="1.2"/>
<circle cx="445.61" cy="124.2" r="2.4" fill="#ffffff" stroke="#b4b4b4" stroke-width="1.2"/>
<polyline points="271.09,110.12 276.91,110.12 282.72,112.88 294.36,117.3 305.99,115.64 317.63,114.54 340.9,116.47 364.17,121.99 387.44,131.93 445.61,128.34" fill="none" stroke="#b8b8b8" stroke-width="1.4" stroke-dasharray="5.65 5.65"/>
<rect x="268.89" y="107.92" width="4.4" height="4.4" fill="#e0e0e0" stroke="#c4c4c4" stroke-width="1.2"/>
<rect x="274.71" y="107.92" width="4.4" height="4.4" fill="#e0e0e0" stroke="#c4c4c4" stroke-width="1.2"/>
<rect x="280.52" y="110.68" width="4.4" height="4.4" fill="#e0e0e0" stroke="#c4c4c4" stroke-width="1.2"/>
<rect x="292.16" y="115.1" width="4.4" height="4.4" fill="#e0e0e0" stroke="#c4c4c4" stroke-width="1.2"/>
<rect x="303.79" y="113.44" width="4.4" height="4.4" fill="#e0e0e0" stroke="#c4c4c4" stroke-width="1.2"/>
<rect x="315.43" y="112.34" width="4.4" height="4.4" fill="#e0e0e0" stroke="#c4c4c4" stroke-width="1.2"/>
<rect x="338.7" y="114.27" width="4.4" height="4.4" fill="#e0e0e0" stroke="#c4c4c4" stroke-width="1.2"/>
<rect x="361.97" y="119.79" width="4.4" height="4.4" fill="#e0e0e0" stroke="#c4c4c4" stroke-width="1.2"/>
<rect x="385.24" y="129.73" width="4.4" height="4.4" fill="#e0e0e0" stroke="#c4c4c4" stroke-width="1.2"/>
<rect x="443.41" y="126.14" width="4.4" height="4.4" fill="#e0e0e0" stroke="#c4c4c4" stroke-width="1.2"/>
<polyline points="271.09,76.18 276.91,137.45 282.72,132.2 294.36,117.3 305.99,110.12 317.63,106.81 340.9,97.43 364.17,102.12 387.44,107.36 445.61,113.71" fill="none" stroke="#262626" stroke-width="1.5"/>
<circle cx="271.09" cy="76.18" r="2.4" fill="#ffffff" stroke="#262626" stroke-width="1.2"/>
<circle cx="276.91" cy="137.45" r="2.4" fill="#ffffff" stroke="#262626" stroke-width="1.2"/>
<circle cx="282.72" cy="132.2" r="2.4" fill="#ffffff" stroke="#262626" stroke-width="1.2"/>
<circle cx="294.36" cy="117.3" r="2.4" fill="#ffffff" stroke="#262626" stroke-width="1.2"/>
<circle cx="305.99" cy="110.12" r="2.4" fill="#ffffff" stroke="#262626" stroke-width="1.2"/>
<circle cx="317.63" cy="106.81" r="2.4" fill="#ffffff" stroke="#262626" stroke-width="1.2"/>
<circle cx="340.9" cy="97.43" r="2.4" fill="#ffffff" stroke="#262626" stroke-width="1.2"/>
<circle cx="364.17" cy="102.12" r="2.4" fill="#ffffff" stroke="#262626" stroke-width="1.2"/>
<circle cx="387.44" cy="107.36" r="2.4" fill="#ffffff" stroke="#262626" stroke-width="1.2"/>
<circle cx="445.61" cy="113.71" r="2.4" fill="#ffffff" stroke="#262626" stroke-width="1.2"/>
<polyline points="271.09,79.76 276.91,135.52 282.72,128.89 294.36,125.86 305.99,115.64 317.63,114.54 340.9,112.33 364.17,118.4 387.44,122.54 445.61,129.17" fill="none" stroke="#262626" stroke-width="1.5" stroke-dasharray="5.65 5.65"/>
<rect x="268.89" y="77.56" width="4.4" height="4.4" fill="#a0a0a0" stroke="#262626" stroke-width="1.2"/>
<rect x="274.71" y="133.32" width="4.4" height="4.4" fill="#a0a0a0" stroke="#262626" stroke-width="1.2"/>
<rect x="280.52" y="126.69" width="4.4" height="4.4" fill="#a0a0a0" stroke="#262626" stroke-width="1.2"/>
<rect x="292.16" y="123.66" width="4.4" height="4.4" fill="#a0a0a0" stroke="#262626" stroke-width="1.2"/>
<rect x="303.79" y="113.44" width="4.4" height="4.4" fill="#a0a0a0" stroke="#262626" stroke-width="1.2"/>
<rect x="315.43" y="112.34" width="4.4" height="4.4" fill="#a0a0a0" stroke="#262626" stroke-width="1.2"/>
<rect x="338.7" y="110.13" width="4.4" height="4.4" fill="#a0a0a0" stroke="#262626" stroke-width="1.2"/>
<rect x="361.97" y="116.2" width="4.4" height="4.4" fill="#a0a0a0" stroke="#262626" stroke-width="1.2"/>
<rect x="385.24" y="120.34" width="4.4" height="4.4" fill="#a0a0a0" stroke="#262626" stroke-width="1.2"/>
<rect x="443.41" y="126.97" width="4.4" height="4.4" fill="#a0a0a0" stroke="#262626" stroke-width="1.2"/>
<line x1="363.6" y1="215.6" x2="388.3" y2="215.6" stroke="#262626" stroke-width="1.5" stroke-dasharray="5.65 5.65"/>
<rect x="373.8" y="213.4" width="4.4" height="4.4" fill="#a0a0a0" stroke="#262626" stroke-width="1.2"/>
<text transform="translate(396.7 218) scale(0.905 1)" fill="#3a3a3a" font-size="6.8">Surgery; Men</text>
<line x1="363.6" y1="222.6" x2="388.3" y2="222.6" stroke="#262626" stroke-width="1.5"/>
<circle cx="376" cy="222.6" r="2.4" fill="#ffffff" stroke="#262626" stroke-width="1.2"/>
<text transform="translate(396.7 225) scale(0.905 1)" fill="#3a3a3a" font-size="6.8">Surgery; Women</text>
<line x1="363.6" y1="229.6" x2="388.3" y2="229.6" stroke="#b8b8b8" stroke-width="1.4" stroke-dasharray="5.65 5.65"/>
<rect x="373.8" y="227.4" width="4.4" height="4.4" fill="#e0e0e0" stroke="#c4c4c4" stroke-width="1.2"/>
<text transform="translate(396.7 232) scale(0.905 1)" fill="#3a3a3a" font-size="6.8">Control; Men</text>
<line x1="363.6" y1="236.7" x2="388.3" y2="236.7" stroke="#b4b4b4" stroke-width="1.4"/>
<circle cx="376" cy="236.7" r="2.4" fill="#ffffff" stroke="#b4b4b4" stroke-width="1.2"/>
<text transform="translate(396.7 239.1) scale(0.905 1)" fill="#3a3a3a" font-size="6.8">Control; Women</text>
<line x1="502.5" y1="241.5" x2="685" y2="241.5" stroke="#eef0f0" stroke-width="1.5"/>
<line x1="502.5" y1="213.9" x2="685" y2="213.9" stroke="#eef0f0" stroke-width="1.5"/>
<line x1="502.5" y1="186.3" x2="685" y2="186.3" stroke="#eef0f0" stroke-width="1.5"/>
<line x1="502.5" y1="158.7" x2="685" y2="158.7" stroke="#eef0f0" stroke-width="1.5"/>
<line x1="502.5" y1="131.1" x2="685" y2="131.1" stroke="#eef0f0" stroke-width="1.5"/>
<line x1="502.5" y1="103.5" x2="685" y2="103.5" stroke="#eef0f0" stroke-width="1.5"/>
<line x1="502.5" y1="75.9" x2="685" y2="75.9" stroke="#eef0f0" stroke-width="1.5"/>
<line x1="502.5" y1="48.3" x2="685" y2="48.3" stroke="#eef0f0" stroke-width="1.5"/>
<line x1="509" y1="42" x2="509" y2="247.3" stroke="#eef0f0" stroke-width="1.5"/>
<line x1="520.3" y1="42" x2="520.3" y2="247.3" stroke="#eef0f0" stroke-width="1.5"/>
<line x1="531.6" y1="42" x2="531.6" y2="247.3" stroke="#eef0f0" stroke-width="1.5"/>
<line x1="542.9" y1="42" x2="542.9" y2="247.3" stroke="#eef0f0" stroke-width="1.5"/>
<line x1="554.2" y1="42" x2="554.2" y2="247.3" stroke="#eef0f0" stroke-width="1.5"/>
<line x1="576.8" y1="42" x2="576.8" y2="247.3" stroke="#eef0f0" stroke-width="1.5"/>
<line x1="599.4" y1="42" x2="599.4" y2="247.3" stroke="#eef0f0" stroke-width="1.5"/>
<line x1="622" y1="42" x2="622" y2="247.3" stroke="#eef0f0" stroke-width="1.5"/>
<line x1="678.5" y1="42" x2="678.5" y2="247.3" stroke="#eef0f0" stroke-width="1.5"/>
<line x1="502.5" y1="42" x2="502.5" y2="247.95" stroke="#c2c2c2" stroke-width="1.3"/>
<line x1="501.85" y1="247.3" x2="685" y2="247.3" stroke="#c2c2c2" stroke-width="1.3"/>
<line x1="498.2" y1="241.5" x2="502.5" y2="241.5" stroke="#c2c2c2" stroke-width="1.2"/>
<text transform="translate(496 244.7) scale(0.87 1)" text-anchor="end" fill="#8f8f8f" font-size="9.4">0</text>
<line x1="498.2" y1="213.9" x2="502.5" y2="213.9" stroke="#c2c2c2" stroke-width="1.2"/>
<text transform="translate(496 217.1) scale(0.87 1)" text-anchor="end" fill="#8f8f8f" font-size="9.4">10</text>
<line x1="498.2" y1="186.3" x2="502.5" y2="186.3" stroke="#c2c2c2" stroke-width="1.2"/>
<text transform="translate(496 189.5) scale(0.87 1)" text-anchor="end" fill="#8f8f8f" font-size="9.4">20</text>
<line x1="498.2" y1="158.7" x2="502.5" y2="158.7" stroke="#c2c2c2" stroke-width="1.2"/>
<text transform="translate(496 161.9) scale(0.87 1)" text-anchor="end" fill="#8f8f8f" font-size="9.4">30</text>
<line x1="498.2" y1="131.1" x2="502.5" y2="131.1" stroke="#c2c2c2" stroke-width="1.2"/>
<text transform="translate(496 134.3) scale(0.87 1)" text-anchor="end" fill="#8f8f8f" font-size="9.4">40</text>
<line x1="498.2" y1="103.5" x2="502.5" y2="103.5" stroke="#c2c2c2" stroke-width="1.2"/>
<text transform="translate(496 106.7) scale(0.87 1)" text-anchor="end" fill="#8f8f8f" font-size="9.4">50</text>
<line x1="498.2" y1="75.9" x2="502.5" y2="75.9" stroke="#c2c2c2" stroke-width="1.2"/>
<text transform="translate(496 79.1) scale(0.87 1)" text-anchor="end" fill="#8f8f8f" font-size="9.4">60</text>
<line x1="498.2" y1="48.3" x2="502.5" y2="48.3" stroke="#c2c2c2" stroke-width="1.2"/>
<text transform="translate(496 51.5) scale(0.87 1)" text-anchor="end" fill="#8f8f8f" font-size="9.4">70</text>
<line x1="509" y1="247.3" x2="509" y2="251.6" stroke="#c2c2c2" stroke-width="1.2"/>
<text transform="translate(509 258.5) scale(0.87 1)" text-anchor="middle" fill="#8f8f8f" font-size="9.4">0</text>
<line x1="520.3" y1="247.3" x2="520.3" y2="251.6" stroke="#c2c2c2" stroke-width="1.2"/>
<text transform="translate(520.3 258.5) scale(0.87 1)" text-anchor="middle" fill="#8f8f8f" font-size="9.4">1</text>
<line x1="531.6" y1="247.3" x2="531.6" y2="251.6" stroke="#c2c2c2" stroke-width="1.2"/>
<text transform="translate(531.6 258.5) scale(0.87 1)" text-anchor="middle" fill="#8f8f8f" font-size="9.4">2</text>
<line x1="542.9" y1="247.3" x2="542.9" y2="251.6" stroke="#c2c2c2" stroke-width="1.2"/>
<text transform="translate(542.9 258.5) scale(0.87 1)" text-anchor="middle" fill="#8f8f8f" font-size="9.4">3</text>
<line x1="554.2" y1="247.3" x2="554.2" y2="251.6" stroke="#c2c2c2" stroke-width="1.2"/>
<text transform="translate(554.2 258.5) scale(0.87 1)" text-anchor="middle" fill="#8f8f8f" font-size="9.4">4</text>
<line x1="576.8" y1="247.3" x2="576.8" y2="251.6" stroke="#c2c2c2" stroke-width="1.2"/>
<text transform="translate(576.8 258.5) scale(0.87 1)" text-anchor="middle" fill="#8f8f8f" font-size="9.4">6</text>
<line x1="599.4" y1="247.3" x2="599.4" y2="251.6" stroke="#c2c2c2" stroke-width="1.2"/>
<text transform="translate(599.4 258.5) scale(0.87 1)" text-anchor="middle" fill="#8f8f8f" font-size="9.4">8</text>
<line x1="622" y1="247.3" x2="622" y2="251.6" stroke="#c2c2c2" stroke-width="1.2"/>
<text transform="translate(622 258.5) scale(0.87 1)" text-anchor="middle" fill="#8f8f8f" font-size="9.4">10</text>
<line x1="678.5" y1="247.3" x2="678.5" y2="251.6" stroke="#c2c2c2" stroke-width="1.2"/>
<text transform="translate(678.5 258.5) scale(0.87 1)" text-anchor="middle" fill="#8f8f8f" font-size="9.4">15</text>
<text transform="translate(475 37.6)" fill="#5a5a5a" font-size="10.1">Obesity-related problems</text>
<text transform="translate(593.75 267.7) scale(0.94 1)" text-anchor="middle" fill="#2e2e2e" font-size="8.6">Follow-up time, years</text>
<text transform="translate(481.5 144.65) rotate(-90) scale(0.94 1)" text-anchor="middle" fill="#2e2e2e" font-size="8.6">Obesity-related problems, score</text>
<path d="M509 113.45V121.7M506.6 113.45h4.8M506.6 121.7h4.8" stroke="#c8c8c8" stroke-width="1.2" fill="none"/>
<path d="M514.65 124.89V131.24M512.25 124.89h4.8M512.25 131.24h4.8" stroke="#c8c8c8" stroke-width="1.2" fill="none"/>
<path d="M520.3 130.13V136.48M517.9 130.13h4.8M517.9 136.48h4.8" stroke="#c8c8c8" stroke-width="1.2" fill="none"/>
<path d="M531.6 130.41V136.76M529.2 130.41h4.8M529.2 136.76h4.8" stroke="#c8c8c8" stroke-width="1.2" fill="none"/>
<path d="M542.9 133.84V140.5M540.5 133.84h4.8M540.5 140.5h4.8" stroke="#c8c8c8" stroke-width="1.2" fill="none"/>
<path d="M554.2 134.23V141.22M551.8 134.23h4.8M551.8 141.22h4.8" stroke="#c8c8c8" stroke-width="1.2" fill="none"/>
<path d="M576.8 137.62V145.56M574.4 137.62h4.8M574.4 145.56h4.8" stroke="#c8c8c8" stroke-width="1.2" fill="none"/>
<path d="M599.4 140.46V149.34M597 140.46h4.8M597 149.34h4.8" stroke="#c8c8c8" stroke-width="1.2" fill="none"/>
<path d="M622 142.74V152.58M619.6 142.74h4.8M619.6 152.58h4.8" stroke="#c8c8c8" stroke-width="1.2" fill="none"/>
<path d="M678.5 140.25V152.31M676.1 140.25h4.8M676.1 152.31h4.8" stroke="#c8c8c8" stroke-width="1.2" fill="none"/>
<path d="M509 145.19V153.44M506.6 145.19h4.8M506.6 153.44h4.8" stroke="#c8c8c8" stroke-width="1.2" fill="none"/>
<path d="M514.65 155.53V161.87M512.25 155.53h4.8M512.25 161.87h4.8" stroke="#c8c8c8" stroke-width="1.2" fill="none"/>
<path d="M520.3 158.84V165.19M517.9 158.84h4.8M517.9 165.19h4.8" stroke="#c8c8c8" stroke-width="1.2" fill="none"/>
<path d="M531.6 156.35V162.7M529.2 156.35h4.8M529.2 162.7h4.8" stroke="#c8c8c8" stroke-width="1.2" fill="none"/>
<path d="M542.9 156.75V163.41M540.5 156.75h4.8M540.5 163.41h4.8" stroke="#c8c8c8" stroke-width="1.2" fill="none"/>
<path d="M554.2 155.21V162.19M551.8 155.21h4.8M551.8 162.19h4.8" stroke="#c8c8c8" stroke-width="1.2" fill="none"/>
<path d="M576.8 156.11V164.05M574.4 156.11h4.8M574.4 164.05h4.8" stroke="#c8c8c8" stroke-width="1.2" fill="none"/>
<path d="M599.4 156.46V165.35M597 156.46h4.8M597 165.35h4.8" stroke="#c8c8c8" stroke-width="1.2" fill="none"/>
<path d="M622 158.2V168.04M619.6 158.2h4.8M619.6 168.04h4.8" stroke="#c8c8c8" stroke-width="1.2" fill="none"/>
<path d="M678.5 153.77V165.83M676.1 153.77h4.8M676.1 165.83h4.8" stroke="#c8c8c8" stroke-width="1.2" fill="none"/>
<path d="M509 64.72V75.49M506.6 64.72h4.8M506.6 75.49h4.8" stroke="#c8c8c8" stroke-width="1.2" fill="none"/>
<path d="M514.65 154.28V162.56M512.25 154.28h4.8M512.25 162.56h4.8" stroke="#c8c8c8" stroke-width="1.2" fill="none"/>
<path d="M520.3 170.29V178.57M517.9 170.29h4.8M517.9 178.57h4.8" stroke="#c8c8c8" stroke-width="1.2" fill="none"/>
<path d="M531.6 165.32V173.6M529.2 165.32h4.8M529.2 173.6h4.8" stroke="#c8c8c8" stroke-width="1.2" fill="none"/>
<path d="M542.9 163.19V171.88M540.5 163.19h4.8M540.5 171.88h4.8" stroke="#c8c8c8" stroke-width="1.2" fill="none"/>
<path d="M554.2 161.6V170.71M551.8 161.6h4.8M551.8 170.71h4.8" stroke="#c8c8c8" stroke-width="1.2" fill="none"/>
<path d="M576.8 151.59V161.94M574.4 151.59h4.8M574.4 161.94h4.8" stroke="#c8c8c8" stroke-width="1.2" fill="none"/>
<path d="M599.4 150.42V162.01M597 150.42h4.8M597 162.01h4.8" stroke="#c8c8c8" stroke-width="1.2" fill="none"/>
<path d="M622 148.42V161.25M619.6 148.42h4.8M619.6 161.25h4.8" stroke="#c8c8c8" stroke-width="1.2" fill="none"/>
<path d="M678.5 143.66V159.39M676.1 143.66h4.8M676.1 159.39h4.8" stroke="#c8c8c8" stroke-width="1.2" fill="none"/>
<path d="M509 96.46V107.23M506.6 96.46h4.8M506.6 107.23h4.8" stroke="#c8c8c8" stroke-width="1.2" fill="none"/>
<path d="M514.65 178.02V186.3M512.25 178.02h4.8M512.25 186.3h4.8" stroke="#c8c8c8" stroke-width="1.2" fill="none"/>
<path d="M520.3 189.06V197.34M517.9 189.06h4.8M517.9 197.34h4.8" stroke="#c8c8c8" stroke-width="1.2" fill="none"/>
<path d="M531.6 183.26V191.54M529.2 183.26h4.8M529.2 191.54h4.8" stroke="#c8c8c8" stroke-width="1.2" fill="none"/>
<path d="M542.9 182.5V191.2M540.5 182.5h4.8M540.5 191.2h4.8" stroke="#c8c8c8" stroke-width="1.2" fill="none"/>
<path d="M554.2 177.88V186.99M551.8 177.88h4.8M551.8 186.99h4.8" stroke="#c8c8c8" stroke-width="1.2" fill="none"/>
<path d="M576.8 174.78V185.13M574.4 174.78h4.8M574.4 185.13h4.8" stroke="#c8c8c8" stroke-width="1.2" fill="none"/>
<path d="M599.4 175.81V187.4M597 175.81h4.8M597 187.4h4.8" stroke="#c8c8c8" stroke-width="1.2" fill="none"/>
<path d="M622 168.29V181.12M619.6 168.29h4.8M619.6 181.12h4.8" stroke="#c8c8c8" stroke-width="1.2" fill="none"/>
<path d="M678.5 169.88V185.61M676.1 169.88h4.8M676.1 185.61h4.8" stroke="#c8c8c8" stroke-width="1.2" fill="none"/>
<polyline points="509,117.58 514.65,128.06 520.3,133.31 531.6,133.58 542.9,137.17 554.2,137.72 576.8,141.59 599.4,144.9 622,147.66 678.5,146.28" fill="none" stroke="#b4b4b4" stroke-width="1.4"/>
<circle cx="509" cy="117.58" r="2.4" fill="#ffffff" stroke="#b4b4b4" stroke-width="1.2"/>
<circle cx="514.65" cy="128.06" r="2.4" fill="#ffffff" stroke="#b4b4b4" stroke-width="1.2"/>
<circle cx="520.3" cy="133.31" r="2.4" fill="#ffffff" stroke="#b4b4b4" stroke-width="1.2"/>
<circle cx="531.6" cy="133.58" r="2.4" fill="#ffffff" stroke="#b4b4b4" stroke-width="1.2"/>
<circle cx="542.9" cy="137.17" r="2.4" fill="#ffffff" stroke="#b4b4b4" stroke-width="1.2"/>
<circle cx="554.2" cy="137.72" r="2.4" fill="#ffffff" stroke="#b4b4b4" stroke-width="1.2"/>
<circle cx="576.8" cy="141.59" r="2.4" fill="#ffffff" stroke="#b4b4b4" stroke-width="1.2"/>
<circle cx="599.4" cy="144.9" r="2.4" fill="#ffffff" stroke="#b4b4b4" stroke-width="1.2"/>
<circle cx="622" cy="147.66" r="2.4" fill="#ffffff" stroke="#b4b4b4" stroke-width="1.2"/>
<circle cx="678.5" cy="146.28" r="2.4" fill="#ffffff" stroke="#b4b4b4" stroke-width="1.2"/>
<polyline points="509,149.32 514.65,158.7 520.3,162.01 531.6,159.53 542.9,160.08 554.2,158.7 576.8,160.08 599.4,160.91 622,163.12 678.5,159.8" fill="none" stroke="#b8b8b8" stroke-width="1.4" stroke-dasharray="5.65 5.65"/>
<rect x="506.8" y="147.12" width="4.4" height="4.4" fill="#e0e0e0" stroke="#c4c4c4" stroke-width="1.2"/>
<rect x="512.45" y="156.5" width="4.4" height="4.4" fill="#e0e0e0" stroke="#c4c4c4" stroke-width="1.2"/>
<rect x="518.1" y="159.81" width="4.4" height="4.4" fill="#e0e0e0" stroke="#c4c4c4" stroke-width="1.2"/>
<rect x="529.4" y="157.33" width="4.4" height="4.4" fill="#e0e0e0" stroke="#c4c4c4" stroke-width="1.2"/>
<rect x="540.7" y="157.88" width="4.4" height="4.4" fill="#e0e0e0" stroke="#c4c4c4" stroke-width="1.2"/>
<rect x="552" y="156.5" width="4.4" height="4.4" fill="#e0e0e0" stroke="#c4c4c4" stroke-width="1.2"/>
<rect x="574.6" y="157.88" width="4.4" height="4.4" fill="#e0e0e0" stroke="#c4c4c4" stroke-width="1.2"/>
<rect x="597.2" y="158.71" width="4.4" height="4.4" fill="#e0e0e0" stroke="#c4c4c4" stroke-width="1.2"/>
<rect x="619.8" y="160.92" width="4.4" height="4.4" fill="#e0e0e0" stroke="#c4c4c4" stroke-width="1.2"/>
<rect x="676.3" y="157.6" width="4.4" height="4.4" fill="#e0e0e0" stroke="#c4c4c4" stroke-width="1.2"/>
<polyline points="509,70.1 514.65,158.42 520.3,174.43 531.6,169.46 542.9,167.53 554.2,166.15 576.8,156.77 599.4,156.22 622,154.84 678.5,151.52" fill="none" stroke="#262626" stroke-width="1.5"/>
<circle cx="509" cy="70.1" r="2.4" fill="#ffffff" stroke="#262626" stroke-width="1.2"/>
<circle cx="514.65" cy="158.42" r="2.4" fill="#ffffff" stroke="#262626" stroke-width="1.2"/>
<circle cx="520.3" cy="174.43" r="2.4" fill="#ffffff" stroke="#262626" stroke-width="1.2"/>
<circle cx="531.6" cy="169.46" r="2.4" fill="#ffffff" stroke="#262626" stroke-width="1.2"/>
<circle cx="542.9" cy="167.53" r="2.4" fill="#ffffff" stroke="#262626" stroke-width="1.2"/>
<circle cx="554.2" cy="166.15" r="2.4" fill="#ffffff" stroke="#262626" stroke-width="1.2"/>
<circle cx="576.8" cy="156.77" r="2.4" fill="#ffffff" stroke="#262626" stroke-width="1.2"/>
<circle cx="599.4" cy="156.22" r="2.4" fill="#ffffff" stroke="#262626" stroke-width="1.2"/>
<circle cx="622" cy="154.84" r="2.4" fill="#ffffff" stroke="#262626" stroke-width="1.2"/>
<circle cx="678.5" cy="151.52" r="2.4" fill="#ffffff" stroke="#262626" stroke-width="1.2"/>
<polyline points="509,101.84 514.65,182.16 520.3,193.2 531.6,187.4 542.9,186.85 554.2,182.44 576.8,179.95 599.4,181.61 622,174.71 678.5,177.74" fill="none" stroke="#262626" stroke-width="1.5" stroke-dasharray="5.65 5.65"/>
<rect x="506.8" y="99.64" width="4.4" height="4.4" fill="#a0a0a0" stroke="#262626" stroke-width="1.2"/>
<rect x="512.45" y="179.96" width="4.4" height="4.4" fill="#a0a0a0" stroke="#262626" stroke-width="1.2"/>
<rect x="518.1" y="191" width="4.4" height="4.4" fill="#a0a0a0" stroke="#262626" stroke-width="1.2"/>
<rect x="529.4" y="185.2" width="4.4" height="4.4" fill="#a0a0a0" stroke="#262626" stroke-width="1.2"/>
<rect x="540.7" y="184.65" width="4.4" height="4.4" fill="#a0a0a0" stroke="#262626" stroke-width="1.2"/>
<rect x="552" y="180.24" width="4.4" height="4.4" fill="#a0a0a0" stroke="#262626" stroke-width="1.2"/>
<rect x="574.6" y="177.75" width="4.4" height="4.4" fill="#a0a0a0" stroke="#262626" stroke-width="1.2"/>
<rect x="597.2" y="179.41" width="4.4" height="4.4" fill="#a0a0a0" stroke="#262626" stroke-width="1.2"/>
<rect x="619.8" y="172.51" width="4.4" height="4.4" fill="#a0a0a0" stroke="#262626" stroke-width="1.2"/>
<rect x="676.3" y="175.54" width="4.4" height="4.4" fill="#a0a0a0" stroke="#262626" stroke-width="1.2"/>
<line x1="596.3" y1="215.6" x2="621" y2="215.6" stroke="#262626" stroke-width="1.5" stroke-dasharray="5.65 5.65"/>
<rect x="606.5" y="213.4" width="4.4" height="4.4" fill="#a0a0a0" stroke="#262626" stroke-width="1.2"/>
<text transform="translate(629.4 218) scale(0.905 1)" fill="#3a3a3a" font-size="6.8">Surgery; Men</text>
<line x1="596.3" y1="222.6" x2="621" y2="222.6" stroke="#262626" stroke-width="1.5"/>
<circle cx="608.7" cy="222.6" r="2.4" fill="#ffffff" stroke="#262626" stroke-width="1.2"/>
<text transform="translate(629.4 225) scale(0.905 1)" fill="#3a3a3a" font-size="6.8">Surgery; Women</text>
<line x1="596.3" y1="229.6" x2="621" y2="229.6" stroke="#b8b8b8" stroke-width="1.4" stroke-dasharray="5.65 5.65"/>
<rect x="606.5" y="227.4" width="4.4" height="4.4" fill="#e0e0e0" stroke="#c4c4c4" stroke-width="1.2"/>
<text transform="translate(629.4 232) scale(0.905 1)" fill="#3a3a3a" font-size="6.8">Control; Men</text>
<line x1="596.3" y1="236.7" x2="621" y2="236.7" stroke="#b4b4b4" stroke-width="1.4"/>
<circle cx="608.7" cy="236.7" r="2.4" fill="#ffffff" stroke="#b4b4b4" stroke-width="1.2"/>
<text transform="translate(629.4 239.1) scale(0.905 1)" fill="#3a3a3a" font-size="6.8">Control; Women</text>
<line x1="36.6" y1="505.5" x2="219.6" y2="505.5" stroke="#eef0f0" stroke-width="1.5"/>
<line x1="36.6" y1="481.35" x2="219.6" y2="481.35" stroke="#eef0f0" stroke-width="1.5"/>
<line x1="36.6" y1="457.2" x2="219.6" y2="457.2" stroke="#eef0f0" stroke-width="1.5"/>
<line x1="36.6" y1="433.05" x2="219.6" y2="433.05" stroke="#eef0f0" stroke-width="1.5"/>
<line x1="36.6" y1="408.9" x2="219.6" y2="408.9" stroke="#eef0f0" stroke-width="1.5"/>
<line x1="36.6" y1="384.75" x2="219.6" y2="384.75" stroke="#eef0f0" stroke-width="1.5"/>
<line x1="36.6" y1="360.6" x2="219.6" y2="360.6" stroke="#eef0f0" stroke-width="1.5"/>
<line x1="36.6" y1="336.45" x2="219.6" y2="336.45" stroke="#eef0f0" stroke-width="1.5"/>
<line x1="36.6" y1="312.3" x2="219.6" y2="312.3" stroke="#eef0f0" stroke-width="1.5"/>
<line x1="43.12" y1="306" x2="43.12" y2="511.3" stroke="#eef0f0" stroke-width="1.5"/>
<line x1="54.45" y1="306" x2="54.45" y2="511.3" stroke="#eef0f0" stroke-width="1.5"/>
<line x1="65.78" y1="306" x2="65.78" y2="511.3" stroke="#eef0f0" stroke-width="1.5"/>
<line x1="77.11" y1="306" x2="77.11" y2="511.3" stroke="#eef0f0" stroke-width="1.5"/>
<line x1="88.44" y1="306" x2="88.44" y2="511.3" stroke="#eef0f0" stroke-width="1.5"/>
<line x1="111.1" y1="306" x2="111.1" y2="511.3" stroke="#eef0f0" stroke-width="1.5"/>
<line x1="133.77" y1="306" x2="133.77" y2="511.3" stroke="#eef0f0" stroke-width="1.5"/>
<line x1="156.43" y1="306" x2="156.43" y2="511.3" stroke="#eef0f0" stroke-width="1.5"/>
<line x1="213.08" y1="306" x2="213.08" y2="511.3" stroke="#eef0f0" stroke-width="1.5"/>
<line x1="36.6" y1="306" x2="36.6" y2="511.95" stroke="#c2c2c2" stroke-width="1.3"/>
<line x1="35.95" y1="511.3" x2="219.6" y2="511.3" stroke="#c2c2c2" stroke-width="1.3"/>
<line x1="32.3" y1="505.5" x2="36.6" y2="505.5" stroke="#c2c2c2" stroke-width="1.2"/>
<text transform="translate(30.1 508.7) scale(0.87 1)" text-anchor="end" fill="#8f8f8f" font-size="9.4">0</text>
<line x1="32.3" y1="481.35" x2="36.6" y2="481.35" stroke="#c2c2c2" stroke-width="1.2"/>
<text transform="translate(30.1 484.55) scale(0.87 1)" text-anchor="end" fill="#8f8f8f" font-size="9.4">2</text>
<line x1="32.3" y1="457.2" x2="36.6" y2="457.2" stroke="#c2c2c2" stroke-width="1.2"/>
<text transform="translate(30.1 460.4) scale(0.87 1)" text-anchor="end" fill="#8f8f8f" font-size="9.4">4</text>
<line x1="32.3" y1="433.05" x2="36.6" y2="433.05" stroke="#c2c2c2" stroke-width="1.2"/>
<text transform="translate(30.1 436.25) scale(0.87 1)" text-anchor="end" fill="#8f8f8f" font-size="9.4">6</text>
<line x1="32.3" y1="408.9" x2="36.6" y2="408.9" stroke="#c2c2c2" stroke-width="1.2"/>
<text transform="translate(30.1 412.1) scale(0.87 1)" text-anchor="end" fill="#8f8f8f" font-size="9.4">8</text>
<line x1="32.3" y1="384.75" x2="36.6" y2="384.75" stroke="#c2c2c2" stroke-width="1.2"/>
<text transform="translate(30.1 387.95) scale(0.87 1)" text-anchor="end" fill="#8f8f8f" font-size="9.4">10</text>
<line x1="32.3" y1="360.6" x2="36.6" y2="360.6" stroke="#c2c2c2" stroke-width="1.2"/>
<text transform="translate(30.1 363.8) scale(0.87 1)" text-anchor="end" fill="#8f8f8f" font-size="9.4">12</text>
<line x1="32.3" y1="336.45" x2="36.6" y2="336.45" stroke="#c2c2c2" stroke-width="1.2"/>
<text transform="translate(30.1 339.65) scale(0.87 1)" text-anchor="end" fill="#8f8f8f" font-size="9.4">14</text>
<line x1="32.3" y1="312.3" x2="36.6" y2="312.3" stroke="#c2c2c2" stroke-width="1.2"/>
<text transform="translate(30.1 315.5) scale(0.87 1)" text-anchor="end" fill="#8f8f8f" font-size="9.4">16</text>
<line x1="43.12" y1="511.3" x2="43.12" y2="515.6" stroke="#c2c2c2" stroke-width="1.2"/>
<text transform="translate(43.12 521.7) scale(0.87 1)" text-anchor="middle" fill="#8f8f8f" font-size="9.4">0</text>
<line x1="54.45" y1="511.3" x2="54.45" y2="515.6" stroke="#c2c2c2" stroke-width="1.2"/>
<text transform="translate(54.45 521.7) scale(0.87 1)" text-anchor="middle" fill="#8f8f8f" font-size="9.4">1</text>
<line x1="65.78" y1="511.3" x2="65.78" y2="515.6" stroke="#c2c2c2" stroke-width="1.2"/>
<text transform="translate(65.78 521.7) scale(0.87 1)" text-anchor="middle" fill="#8f8f8f" font-size="9.4">2</text>
<line x1="77.11" y1="511.3" x2="77.11" y2="515.6" stroke="#c2c2c2" stroke-width="1.2"/>
<text transform="translate(77.11 521.7) scale(0.87 1)" text-anchor="middle" fill="#8f8f8f" font-size="9.4">3</text>
<line x1="88.44" y1="511.3" x2="88.44" y2="515.6" stroke="#c2c2c2" stroke-width="1.2"/>
<text transform="translate(88.44 521.7) scale(0.87 1)" text-anchor="middle" fill="#8f8f8f" font-size="9.4">4</text>
<line x1="111.1" y1="511.3" x2="111.1" y2="515.6" stroke="#c2c2c2" stroke-width="1.2"/>
<text transform="translate(111.1 521.7) scale(0.87 1)" text-anchor="middle" fill="#8f8f8f" font-size="9.4">6</text>
<line x1="133.77" y1="511.3" x2="133.77" y2="515.6" stroke="#c2c2c2" stroke-width="1.2"/>
<text transform="translate(133.77 521.7) scale(0.87 1)" text-anchor="middle" fill="#8f8f8f" font-size="9.4">8</text>
<line x1="156.43" y1="511.3" x2="156.43" y2="515.6" stroke="#c2c2c2" stroke-width="1.2"/>
<text transform="translate(156.43 521.7) scale(0.87 1)" text-anchor="middle" fill="#8f8f8f" font-size="9.4">10</text>
<line x1="213.08" y1="511.3" x2="213.08" y2="515.6" stroke="#c2c2c2" stroke-width="1.2"/>
<text transform="translate(213.08 521.7) scale(0.87 1)" text-anchor="middle" fill="#8f8f8f" font-size="9.4">15</text>
<text transform="translate(9.6 301.6)" fill="#5a5a5a" font-size="10.1">Social interaction limitations</text>
<text transform="translate(128.1 531.1) scale(0.94 1)" text-anchor="middle" fill="#2e2e2e" font-size="8.6">Follow-up time, years</text>
<text transform="translate(16.1 408.65) rotate(-90) scale(0.94 1)" text-anchor="middle" fill="#2e2e2e" font-size="8.6">Social interaction limitations, score</text>
<path d="M43.12 385.05V408.6M40.72 385.05h4.8M40.72 408.6h4.8" stroke="#c8c8c8" stroke-width="1.2" fill="none"/>
<path d="M48.78 396.22V414.33M46.38 396.22h4.8M46.38 414.33h4.8" stroke="#c8c8c8" stroke-width="1.2" fill="none"/>
<path d="M54.45 399V417.11M52.05 399h4.8M52.05 417.11h4.8" stroke="#c8c8c8" stroke-width="1.2" fill="none"/>
<path d="M65.78 390.18V408.3M63.38 390.18h4.8M63.38 408.3h4.8" stroke="#c8c8c8" stroke-width="1.2" fill="none"/>
<path d="M77.11 390.94V409.96M74.71 390.94h4.8M74.71 409.96h4.8" stroke="#c8c8c8" stroke-width="1.2" fill="none"/>
<path d="M88.44 396.64V416.57M86.04 396.64h4.8M86.04 416.57h4.8" stroke="#c8c8c8" stroke-width="1.2" fill="none"/>
<path d="M111.1 395.29V417.93M108.7 395.29h4.8M108.7 417.93h4.8" stroke="#c8c8c8" stroke-width="1.2" fill="none"/>
<path d="M133.77 396.22V421.58M131.37 396.22h4.8M131.37 421.58h4.8" stroke="#c8c8c8" stroke-width="1.2" fill="none"/>
<path d="M156.43 395.1V423.18M154.03 395.1h4.8M154.03 423.18h4.8" stroke="#c8c8c8" stroke-width="1.2" fill="none"/>
<path d="M213.08 386.98V421.4M210.68 386.98h4.8M210.68 421.4h4.8" stroke="#c8c8c8" stroke-width="1.2" fill="none"/>
<path d="M43.12 384.57V408.12M40.72 384.57h4.8M40.72 408.12h4.8" stroke="#c8c8c8" stroke-width="1.2" fill="none"/>
<path d="M48.78 395.01V413.13M46.38 395.01h4.8M46.38 413.13h4.8" stroke="#c8c8c8" stroke-width="1.2" fill="none"/>
<path d="M54.45 398.52V416.63M52.05 398.52h4.8M52.05 416.63h4.8" stroke="#c8c8c8" stroke-width="1.2" fill="none"/>
<path d="M65.78 392.36V410.47M63.38 392.36h4.8M63.38 410.47h4.8" stroke="#c8c8c8" stroke-width="1.2" fill="none"/>
<path d="M77.11 390.82V409.84M74.71 390.82h4.8M74.71 409.84h4.8" stroke="#c8c8c8" stroke-width="1.2" fill="none"/>
<path d="M88.44 392.9V412.82M86.04 392.9h4.8M86.04 412.82h4.8" stroke="#c8c8c8" stroke-width="1.2" fill="none"/>
<path d="M111.1 386.11V408.75M108.7 386.11h4.8M108.7 408.75h4.8" stroke="#c8c8c8" stroke-width="1.2" fill="none"/>
<path d="M133.77 377.87V403.22M131.37 377.87h4.8M131.37 403.22h4.8" stroke="#c8c8c8" stroke-width="1.2" fill="none"/>
<path d="M156.43 377.72V405.79M154.03 377.72h4.8M154.03 405.79h4.8" stroke="#c8c8c8" stroke-width="1.2" fill="none"/>
<path d="M213.08 366.09V400.51M210.68 366.09h4.8M210.68 400.51h4.8" stroke="#c8c8c8" stroke-width="1.2" fill="none"/>
<path d="M43.12 329.02V346.29M40.72 329.02h4.8M40.72 346.29h4.8" stroke="#c8c8c8" stroke-width="1.2" fill="none"/>
<path d="M48.78 431.36V444.64M46.38 431.36h4.8M46.38 444.64h4.8" stroke="#c8c8c8" stroke-width="1.2" fill="none"/>
<path d="M54.45 436.79V450.08M52.05 436.79h4.8M52.05 450.08h4.8" stroke="#c8c8c8" stroke-width="1.2" fill="none"/>
<path d="M65.78 423.51V436.79M63.38 423.51h4.8M63.38 436.79h4.8" stroke="#c8c8c8" stroke-width="1.2" fill="none"/>
<path d="M77.11 415.57V429.52M74.71 415.57h4.8M74.71 429.52h4.8" stroke="#c8c8c8" stroke-width="1.2" fill="none"/>
<path d="M88.44 415V429.61M86.04 415h4.8M86.04 429.61h4.8" stroke="#c8c8c8" stroke-width="1.2" fill="none"/>
<path d="M111.1 401.81V418.41M108.7 401.81h4.8M108.7 418.41h4.8" stroke="#c8c8c8" stroke-width="1.2" fill="none"/>
<path d="M133.77 399.24V417.84M131.37 399.24h4.8M131.37 417.84h4.8" stroke="#c8c8c8" stroke-width="1.2" fill="none"/>
<path d="M156.43 395.71V416.3M154.03 395.71h4.8M154.03 416.3h4.8" stroke="#c8c8c8" stroke-width="1.2" fill="none"/>
<path d="M213.08 382.88V408.12M210.68 382.88h4.8M210.68 408.12h4.8" stroke="#c8c8c8" stroke-width="1.2" fill="none"/>
<path d="M43.12 328.06V345.33M40.72 328.06h4.8M40.72 345.33h4.8" stroke="#c8c8c8" stroke-width="1.2" fill="none"/>
<path d="M48.78 421.58V434.86M46.38 421.58h4.8M46.38 434.86h4.8" stroke="#c8c8c8" stroke-width="1.2" fill="none"/>
<path d="M54.45 418.68V431.96M52.05 418.68h4.8M52.05 431.96h4.8" stroke="#c8c8c8" stroke-width="1.2" fill="none"/>
<path d="M65.78 419.65V432.93M63.38 419.65h4.8M63.38 432.93h4.8" stroke="#c8c8c8" stroke-width="1.2" fill="none"/>
<path d="M77.11 415.57V429.52M74.71 415.57h4.8M74.71 429.52h4.8" stroke="#c8c8c8" stroke-width="1.2" fill="none"/>
<path d="M88.44 403.16V417.78M86.04 403.16h4.8M86.04 417.78h4.8" stroke="#c8c8c8" stroke-width="1.2" fill="none"/>
<path d="M111.1 400.48V417.08M108.7 400.48h4.8M108.7 417.08h4.8" stroke="#c8c8c8" stroke-width="1.2" fill="none"/>
<path d="M133.77 394.17V412.76M131.37 394.17h4.8M131.37 412.76h4.8" stroke="#c8c8c8" stroke-width="1.2" fill="none"/>
<path d="M156.43 386.53V407.12M154.03 386.53h4.8M154.03 407.12h4.8" stroke="#c8c8c8" stroke-width="1.2" fill="none"/>
<path d="M213.08 374.79V400.02M210.68 374.79h4.8M210.68 400.02h4.8" stroke="#c8c8c8" stroke-width="1.2" fill="none"/>
<polyline points="43.12,396.82 48.78,405.28 54.45,408.05 65.78,399.24 77.11,400.45 88.44,406.61 111.1,406.61 133.77,408.9 156.43,409.14 213.08,404.19" fill="none" stroke="#b4b4b4" stroke-width="1.4"/>
<circle cx="43.12" cy="396.82" r="2.4" fill="#ffffff" stroke="#b4b4b4" stroke-width="1.2"/>
<circle cx="48.78" cy="405.28" r="2.4" fill="#ffffff" stroke="#b4b4b4" stroke-width="1.2"/>
<circle cx="54.45" cy="408.05" r="2.4" fill="#ffffff" stroke="#b4b4b4" stroke-width="1.2"/>
<circle cx="65.78" cy="399.24" r="2.4" fill="#ffffff" stroke="#b4b4b4" stroke-width="1.2"/>
<circle cx="77.11" cy="400.45" r="2.4" fill="#ffffff" stroke="#b4b4b4" stroke-width="1.2"/>
<circle cx="88.44" cy="406.61" r="2.4" fill="#ffffff" stroke="#b4b4b4" stroke-width="1.2"/>
<circle cx="111.1" cy="406.61" r="2.4" fill="#ffffff" stroke="#b4b4b4" stroke-width="1.2"/>
<circle cx="133.77" cy="408.9" r="2.4" fill="#ffffff" stroke="#b4b4b4" stroke-width="1.2"/>
<circle cx="156.43" cy="409.14" r="2.4" fill="#ffffff" stroke="#b4b4b4" stroke-width="1.2"/>
<circle cx="213.08" cy="404.19" r="2.4" fill="#ffffff" stroke="#b4b4b4" stroke-width="1.2"/>
<polyline points="43.12,396.34 48.78,404.07 54.45,407.57 65.78,401.41 77.11,400.33 88.44,402.86 111.1,397.43 133.77,390.55 156.43,391.75 213.08,383.3" fill="none" stroke="#b8b8b8" stroke-width="1.4" stroke-dasharray="5.65 5.65"/>
<rect x="40.92" y="394.14" width="4.4" height="4.4" fill="#e0e0e0" stroke="#c4c4c4" stroke-width="1.2"/>
<rect x="46.58" y="401.87" width="4.4" height="4.4" fill="#e0e0e0" stroke="#c4c4c4" stroke-width="1.2"/>
<rect x="52.25" y="405.37" width="4.4" height="4.4" fill="#e0e0e0" stroke="#c4c4c4" stroke-width="1.2"/>
<rect x="63.58" y="399.21" width="4.4" height="4.4" fill="#e0e0e0" stroke="#c4c4c4" stroke-width="1.2"/>
<rect x="74.91" y="398.13" width="4.4" height="4.4" fill="#e0e0e0" stroke="#c4c4c4" stroke-width="1.2"/>
<rect x="86.24" y="400.66" width="4.4" height="4.4" fill="#e0e0e0" stroke="#c4c4c4" stroke-width="1.2"/>
<rect x="108.9" y="395.23" width="4.4" height="4.4" fill="#e0e0e0" stroke="#c4c4c4" stroke-width="1.2"/>
<rect x="131.57" y="388.35" width="4.4" height="4.4" fill="#e0e0e0" stroke="#c4c4c4" stroke-width="1.2"/>
<rect x="154.23" y="389.55" width="4.4" height="4.4" fill="#e0e0e0" stroke="#c4c4c4" stroke-width="1.2"/>
<rect x="210.88" y="381.1" width="4.4" height="4.4" fill="#e0e0e0" stroke="#c4c4c4" stroke-width="1.2"/>
<polyline points="43.12,337.66 48.78,438 54.45,443.43 65.78,430.15 77.11,422.54 88.44,422.3 111.1,410.11 133.77,408.54 156.43,406 213.08,395.5" fill="none" stroke="#262626" stroke-width="1.5"/>
<circle cx="43.12" cy="337.66" r="2.4" fill="#ffffff" stroke="#262626" stroke-width="1.2"/>
<circle cx="48.78" cy="438" r="2.4" fill="#ffffff" stroke="#262626" stroke-width="1.2"/>
<circle cx="54.45" cy="443.43" r="2.4" fill="#ffffff" stroke="#262626" stroke-width="1.2"/>
<circle cx="65.78" cy="430.15" r="2.4" fill="#ffffff" stroke="#262626" stroke-width="1.2"/>
<circle cx="77.11" cy="422.54" r="2.4" fill="#ffffff" stroke="#262626" stroke-width="1.2"/>
<circle cx="88.44" cy="422.3" r="2.4" fill="#ffffff" stroke="#262626" stroke-width="1.2"/>
<circle cx="111.1" cy="410.11" r="2.4" fill="#ffffff" stroke="#262626" stroke-width="1.2"/>
<circle cx="133.77" cy="408.54" r="2.4" fill="#ffffff" stroke="#262626" stroke-width="1.2"/>
<circle cx="156.43" cy="406" r="2.4" fill="#ffffff" stroke="#262626" stroke-width="1.2"/>
<circle cx="213.08" cy="395.5" r="2.4" fill="#ffffff" stroke="#262626" stroke-width="1.2"/>
<polyline points="43.12,336.69 48.78,428.22 54.45,425.32 65.78,426.29 77.11,422.54 88.44,410.47 111.1,408.78 133.77,403.47 156.43,396.82 213.08,387.41" fill="none" stroke="#262626" stroke-width="1.5" stroke-dasharray="5.65 5.65"/>
<rect x="40.92" y="334.49" width="4.4" height="4.4" fill="#a0a0a0" stroke="#262626" stroke-width="1.2"/>
<rect x="46.58" y="426.02" width="4.4" height="4.4" fill="#a0a0a0" stroke="#262626" stroke-width="1.2"/>
<rect x="52.25" y="423.12" width="4.4" height="4.4" fill="#a0a0a0" stroke="#262626" stroke-width="1.2"/>
<rect x="63.58" y="424.09" width="4.4" height="4.4" fill="#a0a0a0" stroke="#262626" stroke-width="1.2"/>
<rect x="74.91" y="420.34" width="4.4" height="4.4" fill="#a0a0a0" stroke="#262626" stroke-width="1.2"/>
<rect x="86.24" y="408.27" width="4.4" height="4.4" fill="#a0a0a0" stroke="#262626" stroke-width="1.2"/>
<rect x="108.9" y="406.58" width="4.4" height="4.4" fill="#a0a0a0" stroke="#262626" stroke-width="1.2"/>
<rect x="131.57" y="401.27" width="4.4" height="4.4" fill="#a0a0a0" stroke="#262626" stroke-width="1.2"/>
<rect x="154.23" y="394.62" width="4.4" height="4.4" fill="#a0a0a0" stroke="#262626" stroke-width="1.2"/>
<rect x="210.88" y="385.21" width="4.4" height="4.4" fill="#a0a0a0" stroke="#262626" stroke-width="1.2"/>
<line x1="130.9" y1="479.6" x2="155.6" y2="479.6" stroke="#262626" stroke-width="1.5" stroke-dasharray="5.65 5.65"/>
<rect x="141.1" y="477.4" width="4.4" height="4.4" fill="#a0a0a0" stroke="#262626" stroke-width="1.2"/>
<text transform="translate(164 482) scale(0.905 1)" fill="#3a3a3a" font-size="6.8">Surgery; Men</text>
<line x1="130.9" y1="486.6" x2="155.6" y2="486.6" stroke="#262626" stroke-width="1.5"/>
<circle cx="143.3" cy="486.6" r="2.4" fill="#ffffff" stroke="#262626" stroke-width="1.2"/>
<text transform="translate(164 489) scale(0.905 1)" fill="#3a3a3a" font-size="6.8">Surgery; Women</text>
<line x1="130.9" y1="493.6" x2="155.6" y2="493.6" stroke="#b8b8b8" stroke-width="1.4" stroke-dasharray="5.65 5.65"/>
<rect x="141.1" y="491.4" width="4.4" height="4.4" fill="#e0e0e0" stroke="#c4c4c4" stroke-width="1.2"/>
<text transform="translate(164 496) scale(0.905 1)" fill="#3a3a3a" font-size="6.8">Control; Men</text>
<line x1="130.9" y1="500.7" x2="155.6" y2="500.7" stroke="#b4b4b4" stroke-width="1.4"/>
<circle cx="143.3" cy="500.7" r="2.4" fill="#ffffff" stroke="#b4b4b4" stroke-width="1.2"/>
<text transform="translate(164 503.1) scale(0.905 1)" fill="#3a3a3a" font-size="6.8">Control; Women</text>
<line x1="269.6" y1="505.5" x2="452.3" y2="505.5" stroke="#eef0f0" stroke-width="1.5"/>
<line x1="269.6" y1="481.35" x2="452.3" y2="481.35" stroke="#eef0f0" stroke-width="1.5"/>
<line x1="269.6" y1="457.2" x2="452.3" y2="457.2" stroke="#eef0f0" stroke-width="1.5"/>
<line x1="269.6" y1="433.05" x2="452.3" y2="433.05" stroke="#eef0f0" stroke-width="1.5"/>
<line x1="269.6" y1="408.9" x2="452.3" y2="408.9" stroke="#eef0f0" stroke-width="1.5"/>
<line x1="269.6" y1="384.75" x2="452.3" y2="384.75" stroke="#eef0f0" stroke-width="1.5"/>
<line x1="269.6" y1="360.6" x2="452.3" y2="360.6" stroke="#eef0f0" stroke-width="1.5"/>
<line x1="269.6" y1="336.45" x2="452.3" y2="336.45" stroke="#eef0f0" stroke-width="1.5"/>
<line x1="269.6" y1="312.3" x2="452.3" y2="312.3" stroke="#eef0f0" stroke-width="1.5"/>
<line x1="276.1" y1="306" x2="276.1" y2="511.3" stroke="#eef0f0" stroke-width="1.5"/>
<line x1="287.42" y1="306" x2="287.42" y2="511.3" stroke="#eef0f0" stroke-width="1.5"/>
<line x1="298.73" y1="306" x2="298.73" y2="511.3" stroke="#eef0f0" stroke-width="1.5"/>
<line x1="310.04" y1="306" x2="310.04" y2="511.3" stroke="#eef0f0" stroke-width="1.5"/>
<line x1="321.36" y1="306" x2="321.36" y2="511.3" stroke="#eef0f0" stroke-width="1.5"/>
<line x1="343.98" y1="306" x2="343.98" y2="511.3" stroke="#eef0f0" stroke-width="1.5"/>
<line x1="366.61" y1="306" x2="366.61" y2="511.3" stroke="#eef0f0" stroke-width="1.5"/>
<line x1="389.23" y1="306" x2="389.23" y2="511.3" stroke="#eef0f0" stroke-width="1.5"/>
<line x1="445.8" y1="306" x2="445.8" y2="511.3" stroke="#eef0f0" stroke-width="1.5"/>
<line x1="269.6" y1="306" x2="269.6" y2="511.95" stroke="#c2c2c2" stroke-width="1.3"/>
<line x1="268.95" y1="511.3" x2="452.3" y2="511.3" stroke="#c2c2c2" stroke-width="1.3"/>
<line x1="265.3" y1="505.5" x2="269.6" y2="505.5" stroke="#c2c2c2" stroke-width="1.2"/>
<text transform="translate(263.1 508.7) scale(0.87 1)" text-anchor="end" fill="#8f8f8f" font-size="9.4">0</text>
<line x1="265.3" y1="481.35" x2="269.6" y2="481.35" stroke="#c2c2c2" stroke-width="1.2"/>
<text transform="translate(263.1 484.55) scale(0.87 1)" text-anchor="end" fill="#8f8f8f" font-size="9.4">10</text>
<line x1="265.3" y1="457.2" x2="269.6" y2="457.2" stroke="#c2c2c2" stroke-width="1.2"/>
<text transform="translate(263.1 460.4) scale(0.87 1)" text-anchor="end" fill="#8f8f8f" font-size="9.4">20</text>
<line x1="265.3" y1="433.05" x2="269.6" y2="433.05" stroke="#c2c2c2" stroke-width="1.2"/>
<text transform="translate(263.1 436.25) scale(0.87 1)" text-anchor="end" fill="#8f8f8f" font-size="9.4">30</text>
<line x1="265.3" y1="408.9" x2="269.6" y2="408.9" stroke="#c2c2c2" stroke-width="1.2"/>
<text transform="translate(263.1 412.1) scale(0.87 1)" text-anchor="end" fill="#8f8f8f" font-size="9.4">40</text>
<line x1="265.3" y1="384.75" x2="269.6" y2="384.75" stroke="#c2c2c2" stroke-width="1.2"/>
<text transform="translate(263.1 387.95) scale(0.87 1)" text-anchor="end" fill="#8f8f8f" font-size="9.4">50</text>
<line x1="265.3" y1="360.6" x2="269.6" y2="360.6" stroke="#c2c2c2" stroke-width="1.2"/>
<text transform="translate(263.1 363.8) scale(0.87 1)" text-anchor="end" fill="#8f8f8f" font-size="9.4">60</text>
<line x1="265.3" y1="336.45" x2="269.6" y2="336.45" stroke="#c2c2c2" stroke-width="1.2"/>
<text transform="translate(263.1 339.65) scale(0.87 1)" text-anchor="end" fill="#8f8f8f" font-size="9.4">70</text>
<line x1="265.3" y1="312.3" x2="269.6" y2="312.3" stroke="#c2c2c2" stroke-width="1.2"/>
<text transform="translate(263.1 315.5) scale(0.87 1)" text-anchor="end" fill="#8f8f8f" font-size="9.4">80</text>
<line x1="276.1" y1="511.3" x2="276.1" y2="515.6" stroke="#c2c2c2" stroke-width="1.2"/>
<text transform="translate(276.1 521.7) scale(0.87 1)" text-anchor="middle" fill="#8f8f8f" font-size="9.4">0</text>
<line x1="287.42" y1="511.3" x2="287.42" y2="515.6" stroke="#c2c2c2" stroke-width="1.2"/>
<text transform="translate(287.42 521.7) scale(0.87 1)" text-anchor="middle" fill="#8f8f8f" font-size="9.4">1</text>
<line x1="298.73" y1="511.3" x2="298.73" y2="515.6" stroke="#c2c2c2" stroke-width="1.2"/>
<text transform="translate(298.73 521.7) scale(0.87 1)" text-anchor="middle" fill="#8f8f8f" font-size="9.4">2</text>
<line x1="310.04" y1="511.3" x2="310.04" y2="515.6" stroke="#c2c2c2" stroke-width="1.2"/>
<text transform="translate(310.04 521.7) scale(0.87 1)" text-anchor="middle" fill="#8f8f8f" font-size="9.4">3</text>
<line x1="321.36" y1="511.3" x2="321.36" y2="515.6" stroke="#c2c2c2" stroke-width="1.2"/>
<text transform="translate(321.36 521.7) scale(0.87 1)" text-anchor="middle" fill="#8f8f8f" font-size="9.4">4</text>
<line x1="343.98" y1="511.3" x2="343.98" y2="515.6" stroke="#c2c2c2" stroke-width="1.2"/>
<text transform="translate(343.98 521.7) scale(0.87 1)" text-anchor="middle" fill="#8f8f8f" font-size="9.4">6</text>
<line x1="366.61" y1="511.3" x2="366.61" y2="515.6" stroke="#c2c2c2" stroke-width="1.2"/>
<text transform="translate(366.61 521.7) scale(0.87 1)" text-anchor="middle" fill="#8f8f8f" font-size="9.4">8</text>
<line x1="389.23" y1="511.3" x2="389.23" y2="515.6" stroke="#c2c2c2" stroke-width="1.2"/>
<text transform="translate(389.23 521.7) scale(0.87 1)" text-anchor="middle" fill="#8f8f8f" font-size="9.4">10</text>
<line x1="445.8" y1="511.3" x2="445.8" y2="515.6" stroke="#c2c2c2" stroke-width="1.2"/>
<text transform="translate(445.8 521.7) scale(0.87 1)" text-anchor="middle" fill="#8f8f8f" font-size="9.4">15</text>
<text transform="translate(241.9 301.6)" fill="#5a5a5a" font-size="10.1">Perceived health</text>
<text transform="translate(360.95 531.1) scale(0.94 1)" text-anchor="middle" fill="#2e2e2e" font-size="8.6">Follow-up time, years</text>
<text transform="translate(248.8 408.65) rotate(-90) scale(0.94 1)" text-anchor="middle" fill="#2e2e2e" font-size="8.6">Perceived health, score</text>
<path d="M276.1 358.98V370.91M273.7 358.98h4.8M273.7 370.91h4.8" stroke="#c8c8c8" stroke-width="1.2" fill="none"/>
<path d="M281.76 352.87V362.05M279.36 352.87h4.8M279.36 362.05h4.8" stroke="#c8c8c8" stroke-width="1.2" fill="none"/>
<path d="M287.42 351.42V360.6M285.02 351.42h4.8M285.02 360.6h4.8" stroke="#c8c8c8" stroke-width="1.2" fill="none"/>
<path d="M298.73 357.22V366.4M296.33 357.22h4.8M296.33 366.4h4.8" stroke="#c8c8c8" stroke-width="1.2" fill="none"/>
<path d="M310.04 360.61V370.25M307.64 360.61h4.8M307.64 370.25h4.8" stroke="#c8c8c8" stroke-width="1.2" fill="none"/>
<path d="M321.36 362.56V372.65M318.96 362.56h4.8M318.96 372.65h4.8" stroke="#c8c8c8" stroke-width="1.2" fill="none"/>
<path d="M343.98 364.28V375.75M341.58 364.28h4.8M341.58 375.75h4.8" stroke="#c8c8c8" stroke-width="1.2" fill="none"/>
<path d="M366.61 364.32V377.17M364.21 364.32h4.8M364.21 377.17h4.8" stroke="#c8c8c8" stroke-width="1.2" fill="none"/>
<path d="M389.23 367.49V381.72M386.83 367.49h4.8M386.83 381.72h4.8" stroke="#c8c8c8" stroke-width="1.2" fill="none"/>
<path d="M445.8 371.44V388.88M443.4 371.44h4.8M443.4 388.88h4.8" stroke="#c8c8c8" stroke-width="1.2" fill="none"/>
<path d="M276.1 358.26V370.19M273.7 358.26h4.8M273.7 370.19h4.8" stroke="#c8c8c8" stroke-width="1.2" fill="none"/>
<path d="M281.76 352.39V361.57M279.36 352.39h4.8M279.36 361.57h4.8" stroke="#c8c8c8" stroke-width="1.2" fill="none"/>
<path d="M287.42 350.7V359.88M285.02 350.7h4.8M285.02 359.88h4.8" stroke="#c8c8c8" stroke-width="1.2" fill="none"/>
<path d="M298.73 356.74V365.91M296.33 356.74h4.8M296.33 365.91h4.8" stroke="#c8c8c8" stroke-width="1.2" fill="none"/>
<path d="M310.04 359.4V369.04M307.64 359.4h4.8M307.64 369.04h4.8" stroke="#c8c8c8" stroke-width="1.2" fill="none"/>
<path d="M321.36 362.31V372.41M318.96 362.31h4.8M318.96 372.41h4.8" stroke="#c8c8c8" stroke-width="1.2" fill="none"/>
<path d="M343.98 365.01V376.48M341.58 365.01h4.8M341.58 376.48h4.8" stroke="#c8c8c8" stroke-width="1.2" fill="none"/>
<path d="M366.61 366.98V379.82M364.21 366.98h4.8M364.21 379.82h4.8" stroke="#c8c8c8" stroke-width="1.2" fill="none"/>
<path d="M389.23 369.19V383.41M386.83 369.19h4.8M386.83 383.41h4.8" stroke="#c8c8c8" stroke-width="1.2" fill="none"/>
<path d="M445.8 378.69V396.12M443.4 378.69h4.8M443.4 396.12h4.8" stroke="#c8c8c8" stroke-width="1.2" fill="none"/>
<path d="M276.1 380.04V389.46M273.7 380.04h4.8M273.7 389.46h4.8" stroke="#c8c8c8" stroke-width="1.2" fill="none"/>
<path d="M281.76 318.34V325.58M279.36 318.34h4.8M279.36 325.58h4.8" stroke="#c8c8c8" stroke-width="1.2" fill="none"/>
<path d="M287.42 319.79V327.03M285.02 319.79h4.8M285.02 327.03h4.8" stroke="#c8c8c8" stroke-width="1.2" fill="none"/>
<path d="M298.73 332.59V339.83M296.33 332.59h4.8M296.33 339.83h4.8" stroke="#c8c8c8" stroke-width="1.2" fill="none"/>
<path d="M310.04 344.48V352.09M307.64 344.48h4.8M307.64 352.09h4.8" stroke="#c8c8c8" stroke-width="1.2" fill="none"/>
<path d="M321.36 348.16V356.13M318.96 348.16h4.8M318.96 356.13h4.8" stroke="#c8c8c8" stroke-width="1.2" fill="none"/>
<path d="M343.98 359.69V368.75M341.58 359.69h4.8M341.58 368.75h4.8" stroke="#c8c8c8" stroke-width="1.2" fill="none"/>
<path d="M366.61 364.71V374.85M364.21 364.71h4.8M364.21 374.85h4.8" stroke="#c8c8c8" stroke-width="1.2" fill="none"/>
<path d="M389.23 364.16V375.39M386.83 364.16h4.8M386.83 375.39h4.8" stroke="#c8c8c8" stroke-width="1.2" fill="none"/>
<path d="M445.8 364.58V378.35M443.4 364.58h4.8M443.4 378.35h4.8" stroke="#c8c8c8" stroke-width="1.2" fill="none"/>
<path d="M276.1 379.56V388.98M273.7 379.56h4.8M273.7 388.98h4.8" stroke="#c8c8c8" stroke-width="1.2" fill="none"/>
<path d="M281.76 317.37V324.62M279.36 317.37h4.8M279.36 324.62h4.8" stroke="#c8c8c8" stroke-width="1.2" fill="none"/>
<path d="M287.42 317.61V324.86M285.02 317.61h4.8M285.02 324.86h4.8" stroke="#c8c8c8" stroke-width="1.2" fill="none"/>
<path d="M298.73 327.51V334.76M296.33 327.51h4.8M296.33 334.76h4.8" stroke="#c8c8c8" stroke-width="1.2" fill="none"/>
<path d="M310.04 334.82V342.43M307.64 334.82h4.8M307.64 342.43h4.8" stroke="#c8c8c8" stroke-width="1.2" fill="none"/>
<path d="M321.36 342.37V350.34M318.96 342.37h4.8M318.96 350.34h4.8" stroke="#c8c8c8" stroke-width="1.2" fill="none"/>
<path d="M343.98 348.34V357.4M341.58 348.34h4.8M341.58 357.4h4.8" stroke="#c8c8c8" stroke-width="1.2" fill="none"/>
<path d="M366.61 352.87V363.01M364.21 352.87h4.8M364.21 363.01h4.8" stroke="#c8c8c8" stroke-width="1.2" fill="none"/>
<path d="M389.23 355.23V366.46M386.83 355.23h4.8M386.83 366.46h4.8" stroke="#c8c8c8" stroke-width="1.2" fill="none"/>
<path d="M445.8 361.2V374.97M443.4 361.2h4.8M443.4 374.97h4.8" stroke="#c8c8c8" stroke-width="1.2" fill="none"/>
<polyline points="276.1,364.95 281.76,357.46 287.42,356.01 298.73,361.81 310.04,365.43 321.36,367.6 343.98,370.02 366.61,370.74 389.23,374.61 445.8,380.16" fill="none" stroke="#b4b4b4" stroke-width="1.4"/>
<circle cx="276.1" cy="364.95" r="2.4" fill="#ffffff" stroke="#b4b4b4" stroke-width="1.2"/>
<circle cx="281.76" cy="357.46" r="2.4" fill="#ffffff" stroke="#b4b4b4" stroke-width="1.2"/>
<circle cx="287.42" cy="356.01" r="2.4" fill="#ffffff" stroke="#b4b4b4" stroke-width="1.2"/>
<circle cx="298.73" cy="361.81" r="2.4" fill="#ffffff" stroke="#b4b4b4" stroke-width="1.2"/>
<circle cx="310.04" cy="365.43" r="2.4" fill="#ffffff" stroke="#b4b4b4" stroke-width="1.2"/>
<circle cx="321.36" cy="367.6" r="2.4" fill="#ffffff" stroke="#b4b4b4" stroke-width="1.2"/>
<circle cx="343.98" cy="370.02" r="2.4" fill="#ffffff" stroke="#b4b4b4" stroke-width="1.2"/>
<circle cx="366.61" cy="370.74" r="2.4" fill="#ffffff" stroke="#b4b4b4" stroke-width="1.2"/>
<circle cx="389.23" cy="374.61" r="2.4" fill="#ffffff" stroke="#b4b4b4" stroke-width="1.2"/>
<circle cx="445.8" cy="380.16" r="2.4" fill="#ffffff" stroke="#b4b4b4" stroke-width="1.2"/>
<polyline points="276.1,364.22 281.76,356.98 287.42,355.29 298.73,361.32 310.04,364.22 321.36,367.36 343.98,370.74 366.61,373.4 389.23,376.3 445.8,387.41" fill="none" stroke="#b8b8b8" stroke-width="1.4" stroke-dasharray="5.65 5.65"/>
<rect x="273.9" y="362.02" width="4.4" height="4.4" fill="#e0e0e0" stroke="#c4c4c4" stroke-width="1.2"/>
<rect x="279.56" y="354.78" width="4.4" height="4.4" fill="#e0e0e0" stroke="#c4c4c4" stroke-width="1.2"/>
<rect x="285.22" y="353.09" width="4.4" height="4.4" fill="#e0e0e0" stroke="#c4c4c4" stroke-width="1.2"/>
<rect x="296.53" y="359.12" width="4.4" height="4.4" fill="#e0e0e0" stroke="#c4c4c4" stroke-width="1.2"/>
<rect x="307.84" y="362.02" width="4.4" height="4.4" fill="#e0e0e0" stroke="#c4c4c4" stroke-width="1.2"/>
<rect x="319.16" y="365.16" width="4.4" height="4.4" fill="#e0e0e0" stroke="#c4c4c4" stroke-width="1.2"/>
<rect x="341.78" y="368.54" width="4.4" height="4.4" fill="#e0e0e0" stroke="#c4c4c4" stroke-width="1.2"/>
<rect x="364.41" y="371.2" width="4.4" height="4.4" fill="#e0e0e0" stroke="#c4c4c4" stroke-width="1.2"/>
<rect x="387.03" y="374.1" width="4.4" height="4.4" fill="#e0e0e0" stroke="#c4c4c4" stroke-width="1.2"/>
<rect x="443.6" y="385.21" width="4.4" height="4.4" fill="#e0e0e0" stroke="#c4c4c4" stroke-width="1.2"/>
<polyline points="276.1,384.75 281.76,321.96 287.42,323.41 298.73,336.21 310.04,348.28 321.36,352.15 343.98,364.22 366.61,369.78 389.23,369.78 445.8,371.47" fill="none" stroke="#262626" stroke-width="1.5"/>
<circle cx="276.1" cy="384.75" r="2.4" fill="#ffffff" stroke="#262626" stroke-width="1.2"/>
<circle cx="281.76" cy="321.96" r="2.4" fill="#ffffff" stroke="#262626" stroke-width="1.2"/>
<circle cx="287.42" cy="323.41" r="2.4" fill="#ffffff" stroke="#262626" stroke-width="1.2"/>
<circle cx="298.73" cy="336.21" r="2.4" fill="#ffffff" stroke="#262626" stroke-width="1.2"/>
<circle cx="310.04" cy="348.28" r="2.4" fill="#ffffff" stroke="#262626" stroke-width="1.2"/>
<circle cx="321.36" cy="352.15" r="2.4" fill="#ffffff" stroke="#262626" stroke-width="1.2"/>
<circle cx="343.98" cy="364.22" r="2.4" fill="#ffffff" stroke="#262626" stroke-width="1.2"/>
<circle cx="366.61" cy="369.78" r="2.4" fill="#ffffff" stroke="#262626" stroke-width="1.2"/>
<circle cx="389.23" cy="369.78" r="2.4" fill="#ffffff" stroke="#262626" stroke-width="1.2"/>
<circle cx="445.8" cy="371.47" r="2.4" fill="#ffffff" stroke="#262626" stroke-width="1.2"/>
<polyline points="276.1,384.27 281.76,320.99 287.42,321.24 298.73,331.14 310.04,338.62 321.36,346.35 343.98,352.87 366.61,357.94 389.23,360.84 445.8,368.09" fill="none" stroke="#262626" stroke-width="1.5" stroke-dasharray="5.65 5.65"/>
<rect x="273.9" y="382.07" width="4.4" height="4.4" fill="#a0a0a0" stroke="#262626" stroke-width="1.2"/>
<rect x="279.56" y="318.79" width="4.4" height="4.4" fill="#a0a0a0" stroke="#262626" stroke-width="1.2"/>
<rect x="285.22" y="319.04" width="4.4" height="4.4" fill="#a0a0a0" stroke="#262626" stroke-width="1.2"/>
<rect x="296.53" y="328.94" width="4.4" height="4.4" fill="#a0a0a0" stroke="#262626" stroke-width="1.2"/>
<rect x="307.84" y="336.42" width="4.4" height="4.4" fill="#a0a0a0" stroke="#262626" stroke-width="1.2"/>
<rect x="319.16" y="344.15" width="4.4" height="4.4" fill="#a0a0a0" stroke="#262626" stroke-width="1.2"/>
<rect x="341.78" y="350.67" width="4.4" height="4.4" fill="#a0a0a0" stroke="#262626" stroke-width="1.2"/>
<rect x="364.41" y="355.74" width="4.4" height="4.4" fill="#a0a0a0" stroke="#262626" stroke-width="1.2"/>
<rect x="387.03" y="358.64" width="4.4" height="4.4" fill="#a0a0a0" stroke="#262626" stroke-width="1.2"/>
<rect x="443.6" y="365.89" width="4.4" height="4.4" fill="#a0a0a0" stroke="#262626" stroke-width="1.2"/>
<line x1="363.6" y1="479.6" x2="388.3" y2="479.6" stroke="#262626" stroke-width="1.5" stroke-dasharray="5.65 5.65"/>
<rect x="373.8" y="477.4" width="4.4" height="4.4" fill="#a0a0a0" stroke="#262626" stroke-width="1.2"/>
<text transform="translate(396.7 482) scale(0.905 1)" fill="#3a3a3a" font-size="6.8">Surgery; Men</text>
<line x1="363.6" y1="486.6" x2="388.3" y2="486.6" stroke="#262626" stroke-width="1.5"/>
<circle cx="376" cy="486.6" r="2.4" fill="#ffffff" stroke="#262626" stroke-width="1.2"/>
<text transform="translate(396.7 489) scale(0.905 1)" fill="#3a3a3a" font-size="6.8">Surgery; Women</text>
<line x1="363.6" y1="493.6" x2="388.3" y2="493.6" stroke="#b8b8b8" stroke-width="1.4" stroke-dasharray="5.65 5.65"/>
<rect x="373.8" y="491.4" width="4.4" height="4.4" fill="#e0e0e0" stroke="#c4c4c4" stroke-width="1.2"/>
<text transform="translate(396.7 496) scale(0.905 1)" fill="#3a3a3a" font-size="6.8">Control; Men</text>
<line x1="363.6" y1="500.7" x2="388.3" y2="500.7" stroke="#b4b4b4" stroke-width="1.4"/>
<circle cx="376" cy="500.7" r="2.4" fill="#ffffff" stroke="#b4b4b4" stroke-width="1.2"/>
<text transform="translate(396.7 503.1) scale(0.905 1)" fill="#3a3a3a" font-size="6.8">Control; Women</text>
<line x1="504.7" y1="505.5" x2="685" y2="505.5" stroke="#eef0f0" stroke-width="1.5"/>
<line x1="504.7" y1="477.9" x2="685" y2="477.9" stroke="#eef0f0" stroke-width="1.5"/>
<line x1="504.7" y1="450.3" x2="685" y2="450.3" stroke="#eef0f0" stroke-width="1.5"/>
<line x1="504.7" y1="422.7" x2="685" y2="422.7" stroke="#eef0f0" stroke-width="1.5"/>
<line x1="504.7" y1="395.1" x2="685" y2="395.1" stroke="#eef0f0" stroke-width="1.5"/>
<line x1="504.7" y1="367.5" x2="685" y2="367.5" stroke="#eef0f0" stroke-width="1.5"/>
<line x1="504.7" y1="339.9" x2="685" y2="339.9" stroke="#eef0f0" stroke-width="1.5"/>
<line x1="504.7" y1="312.3" x2="685" y2="312.3" stroke="#eef0f0" stroke-width="1.5"/>
<line x1="511.12" y1="306" x2="511.12" y2="511.3" stroke="#eef0f0" stroke-width="1.5"/>
<line x1="522.28" y1="306" x2="522.28" y2="511.3" stroke="#eef0f0" stroke-width="1.5"/>
<line x1="533.45" y1="306" x2="533.45" y2="511.3" stroke="#eef0f0" stroke-width="1.5"/>
<line x1="544.61" y1="306" x2="544.61" y2="511.3" stroke="#eef0f0" stroke-width="1.5"/>
<line x1="555.78" y1="306" x2="555.78" y2="511.3" stroke="#eef0f0" stroke-width="1.5"/>
<line x1="578.1" y1="306" x2="578.1" y2="511.3" stroke="#eef0f0" stroke-width="1.5"/>
<line x1="600.43" y1="306" x2="600.43" y2="511.3" stroke="#eef0f0" stroke-width="1.5"/>
<line x1="622.76" y1="306" x2="622.76" y2="511.3" stroke="#eef0f0" stroke-width="1.5"/>
<line x1="678.58" y1="306" x2="678.58" y2="511.3" stroke="#eef0f0" stroke-width="1.5"/>
<line x1="504.7" y1="306" x2="504.7" y2="511.95" stroke="#c2c2c2" stroke-width="1.3"/>
<line x1="504.05" y1="511.3" x2="685" y2="511.3" stroke="#c2c2c2" stroke-width="1.3"/>
<line x1="500.4" y1="505.5" x2="504.7" y2="505.5" stroke="#c2c2c2" stroke-width="1.2"/>
<text transform="translate(498.2 508.7) scale(0.87 1)" text-anchor="end" fill="#8f8f8f" font-size="9.4">0.0</text>
<line x1="500.4" y1="477.9" x2="504.7" y2="477.9" stroke="#c2c2c2" stroke-width="1.2"/>
<text transform="translate(498.2 481.1) scale(0.87 1)" text-anchor="end" fill="#8f8f8f" font-size="9.4">0.5</text>
<line x1="500.4" y1="450.3" x2="504.7" y2="450.3" stroke="#c2c2c2" stroke-width="1.2"/>
<text transform="translate(498.2 453.5) scale(0.87 1)" text-anchor="end" fill="#8f8f8f" font-size="9.4">1.0</text>
<line x1="500.4" y1="422.7" x2="504.7" y2="422.7" stroke="#c2c2c2" stroke-width="1.2"/>
<text transform="translate(498.2 425.9) scale(0.87 1)" text-anchor="end" fill="#8f8f8f" font-size="9.4">1.5</text>
<line x1="500.4" y1="395.1" x2="504.7" y2="395.1" stroke="#c2c2c2" stroke-width="1.2"/>
<text transform="translate(498.2 398.3) scale(0.87 1)" text-anchor="end" fill="#8f8f8f" font-size="9.4">2.0</text>
<line x1="500.4" y1="367.5" x2="504.7" y2="367.5" stroke="#c2c2c2" stroke-width="1.2"/>
<text transform="translate(498.2 370.7) scale(0.87 1)" text-anchor="end" fill="#8f8f8f" font-size="9.4">2.5</text>
<line x1="500.4" y1="339.9" x2="504.7" y2="339.9" stroke="#c2c2c2" stroke-width="1.2"/>
<text transform="translate(498.2 343.1) scale(0.87 1)" text-anchor="end" fill="#8f8f8f" font-size="9.4">3.0</text>
<line x1="500.4" y1="312.3" x2="504.7" y2="312.3" stroke="#c2c2c2" stroke-width="1.2"/>
<text transform="translate(498.2 315.5) scale(0.87 1)" text-anchor="end" fill="#8f8f8f" font-size="9.4">3.5</text>
<line x1="511.12" y1="511.3" x2="511.12" y2="515.6" stroke="#c2c2c2" stroke-width="1.2"/>
<text transform="translate(511.12 521.7) scale(0.87 1)" text-anchor="middle" fill="#8f8f8f" font-size="9.4">0</text>
<line x1="522.28" y1="511.3" x2="522.28" y2="515.6" stroke="#c2c2c2" stroke-width="1.2"/>
<text transform="translate(522.28 521.7) scale(0.87 1)" text-anchor="middle" fill="#8f8f8f" font-size="9.4">1</text>
<line x1="533.45" y1="511.3" x2="533.45" y2="515.6" stroke="#c2c2c2" stroke-width="1.2"/>
<text transform="translate(533.45 521.7) scale(0.87 1)" text-anchor="middle" fill="#8f8f8f" font-size="9.4">2</text>
<line x1="544.61" y1="511.3" x2="544.61" y2="515.6" stroke="#c2c2c2" stroke-width="1.2"/>
<text transform="translate(544.61 521.7) scale(0.87 1)" text-anchor="middle" fill="#8f8f8f" font-size="9.4">3</text>
<line x1="555.78" y1="511.3" x2="555.78" y2="515.6" stroke="#c2c2c2" stroke-width="1.2"/>
<text transform="translate(555.78 521.7) scale(0.87 1)" text-anchor="middle" fill="#8f8f8f" font-size="9.4">4</text>
<line x1="578.1" y1="511.3" x2="578.1" y2="515.6" stroke="#c2c2c2" stroke-width="1.2"/>
<text transform="translate(578.1 521.7) scale(0.87 1)" text-anchor="middle" fill="#8f8f8f" font-size="9.4">6</text>
<line x1="600.43" y1="511.3" x2="600.43" y2="515.6" stroke="#c2c2c2" stroke-width="1.2"/>
<text transform="translate(600.43 521.7) scale(0.87 1)" text-anchor="middle" fill="#8f8f8f" font-size="9.4">8</text>
<line x1="622.76" y1="511.3" x2="622.76" y2="515.6" stroke="#c2c2c2" stroke-width="1.2"/>
<text transform="translate(622.76 521.7) scale(0.87 1)" text-anchor="middle" fill="#8f8f8f" font-size="9.4">10</text>
<line x1="678.58" y1="511.3" x2="678.58" y2="515.6" stroke="#c2c2c2" stroke-width="1.2"/>
<text transform="translate(678.58 521.7) scale(0.87 1)" text-anchor="middle" fill="#8f8f8f" font-size="9.4">15</text>
<text transform="translate(475 301.6)" fill="#5a5a5a" font-size="10.1">Overall mood</text>
<text transform="translate(594.85 531.1) scale(0.94 1)" text-anchor="middle" fill="#2e2e2e" font-size="8.6">Follow-up time, years</text>
<text transform="translate(481.5 408.65) rotate(-90) scale(0.94 1)" text-anchor="middle" fill="#2e2e2e" font-size="8.6">Overall mood, score</text>
<path d="M511.12 335.37V341.11M508.72 335.37h4.8M508.72 341.11h4.8" stroke="#c8c8c8" stroke-width="1.2" fill="none"/>
<path d="M516.7 335.48V339.9M514.3 335.48h4.8M514.3 339.9h4.8" stroke="#c8c8c8" stroke-width="1.2" fill="none"/>
<path d="M522.28 335.48V339.9M519.88 335.48h4.8M519.88 339.9h4.8" stroke="#c8c8c8" stroke-width="1.2" fill="none"/>
<path d="M533.45 337.14V341.56M531.05 337.14h4.8M531.05 341.56h4.8" stroke="#c8c8c8" stroke-width="1.2" fill="none"/>
<path d="M544.61 336.48V341.11M542.21 336.48h4.8M542.21 341.11h4.8" stroke="#c8c8c8" stroke-width="1.2" fill="none"/>
<path d="M555.78 336.37V341.22M553.38 336.37h4.8M553.38 341.22h4.8" stroke="#c8c8c8" stroke-width="1.2" fill="none"/>
<path d="M578.1 336.04V341.56M575.7 336.04h4.8M575.7 341.56h4.8" stroke="#c8c8c8" stroke-width="1.2" fill="none"/>
<path d="M600.43 335.7V341.89M598.03 335.7h4.8M598.03 341.89h4.8" stroke="#c8c8c8" stroke-width="1.2" fill="none"/>
<path d="M622.76 334.82V341.67M620.36 334.82h4.8M620.36 341.67h4.8" stroke="#c8c8c8" stroke-width="1.2" fill="none"/>
<path d="M678.58 333.5V341.89M676.18 333.5h4.8M676.18 341.89h4.8" stroke="#c8c8c8" stroke-width="1.2" fill="none"/>
<path d="M511.12 334.27V340.01M508.72 334.27h4.8M508.72 340.01h4.8" stroke="#c8c8c8" stroke-width="1.2" fill="none"/>
<path d="M516.7 332.72V337.14M514.3 332.72h4.8M514.3 337.14h4.8" stroke="#c8c8c8" stroke-width="1.2" fill="none"/>
<path d="M522.28 332.72V337.14M519.88 332.72h4.8M519.88 337.14h4.8" stroke="#c8c8c8" stroke-width="1.2" fill="none"/>
<path d="M533.45 335.48V339.9M531.05 335.48h4.8M531.05 339.9h4.8" stroke="#c8c8c8" stroke-width="1.2" fill="none"/>
<path d="M544.61 335.37V340.01M542.21 335.37h4.8M542.21 340.01h4.8" stroke="#c8c8c8" stroke-width="1.2" fill="none"/>
<path d="M555.78 335.26V340.12M553.38 335.26h4.8M553.38 340.12h4.8" stroke="#c8c8c8" stroke-width="1.2" fill="none"/>
<path d="M578.1 334.93V340.45M575.7 334.93h4.8M575.7 340.45h4.8" stroke="#c8c8c8" stroke-width="1.2" fill="none"/>
<path d="M600.43 334.05V340.23M598.03 334.05h4.8M598.03 340.23h4.8" stroke="#c8c8c8" stroke-width="1.2" fill="none"/>
<path d="M622.76 333.72V340.56M620.36 333.72h4.8M620.36 340.56h4.8" stroke="#c8c8c8" stroke-width="1.2" fill="none"/>
<path d="M678.58 332.39V340.78M676.18 332.39h4.8M676.18 340.78h4.8" stroke="#c8c8c8" stroke-width="1.2" fill="none"/>
<path d="M511.12 345.48V349.78M508.72 345.48h4.8M508.72 349.78h4.8" stroke="#c8c8c8" stroke-width="1.2" fill="none"/>
<path d="M516.7 325V328.31M514.3 325h4.8M514.3 328.31h4.8" stroke="#c8c8c8" stroke-width="1.2" fill="none"/>
<path d="M522.28 326.1V329.41M519.88 326.1h4.8M519.88 329.41h4.8" stroke="#c8c8c8" stroke-width="1.2" fill="none"/>
<path d="M533.45 330.52V333.83M531.05 330.52h4.8M531.05 333.83h4.8" stroke="#c8c8c8" stroke-width="1.2" fill="none"/>
<path d="M544.61 333.19V336.67M542.21 333.19h4.8M542.21 336.67h4.8" stroke="#c8c8c8" stroke-width="1.2" fill="none"/>
<path d="M555.78 333.66V337.31M553.38 333.66h4.8M553.38 337.31h4.8" stroke="#c8c8c8" stroke-width="1.2" fill="none"/>
<path d="M578.1 337.28V341.42M575.7 337.28h4.8M575.7 341.42h4.8" stroke="#c8c8c8" stroke-width="1.2" fill="none"/>
<path d="M600.43 335.93V340.56M598.03 335.93h4.8M598.03 340.56h4.8" stroke="#c8c8c8" stroke-width="1.2" fill="none"/>
<path d="M622.76 335.68V340.81M620.36 335.68h4.8M620.36 340.81h4.8" stroke="#c8c8c8" stroke-width="1.2" fill="none"/>
<path d="M678.58 334.55V340.84M676.18 334.55h4.8M676.18 340.84h4.8" stroke="#c8c8c8" stroke-width="1.2" fill="none"/>
<path d="M511.12 342.72V347.02M508.72 342.72h4.8M508.72 347.02h4.8" stroke="#c8c8c8" stroke-width="1.2" fill="none"/>
<path d="M516.7 323.89V327.2M514.3 323.89h4.8M514.3 327.2h4.8" stroke="#c8c8c8" stroke-width="1.2" fill="none"/>
<path d="M522.28 325V328.31M519.88 325h4.8M519.88 328.31h4.8" stroke="#c8c8c8" stroke-width="1.2" fill="none"/>
<path d="M533.45 328.31V331.62M531.05 328.31h4.8M531.05 331.62h4.8" stroke="#c8c8c8" stroke-width="1.2" fill="none"/>
<path d="M544.61 330.43V333.91M542.21 330.43h4.8M542.21 333.91h4.8" stroke="#c8c8c8" stroke-width="1.2" fill="none"/>
<path d="M555.78 330.9V334.55M553.38 330.9h4.8M553.38 334.55h4.8" stroke="#c8c8c8" stroke-width="1.2" fill="none"/>
<path d="M578.1 332.31V336.45M575.7 332.31h4.8M575.7 336.45h4.8" stroke="#c8c8c8" stroke-width="1.2" fill="none"/>
<path d="M600.43 330.96V335.59M598.03 330.96h4.8M598.03 335.59h4.8" stroke="#c8c8c8" stroke-width="1.2" fill="none"/>
<path d="M622.76 332.92V338.05M620.36 332.92h4.8M620.36 338.05h4.8" stroke="#c8c8c8" stroke-width="1.2" fill="none"/>
<path d="M678.58 331.23V337.53M676.18 331.23h4.8M676.18 337.53h4.8" stroke="#c8c8c8" stroke-width="1.2" fill="none"/>
<polyline points="511.12,338.24 516.7,337.69 522.28,337.69 533.45,339.35 544.61,338.8 555.78,338.8 578.1,338.8 600.43,338.8 622.76,338.24 678.58,337.69" fill="none" stroke="#b4b4b4" stroke-width="1.4"/>
<circle cx="511.12" cy="338.24" r="2.4" fill="#ffffff" stroke="#b4b4b4" stroke-width="1.2"/>
<circle cx="516.7" cy="337.69" r="2.4" fill="#ffffff" stroke="#b4b4b4" stroke-width="1.2"/>
<circle cx="522.28" cy="337.69" r="2.4" fill="#ffffff" stroke="#b4b4b4" stroke-width="1.2"/>
<circle cx="533.45" cy="339.35" r="2.4" fill="#ffffff" stroke="#b4b4b4" stroke-width="1.2"/>
<circle cx="544.61" cy="338.8" r="2.4" fill="#ffffff" stroke="#b4b4b4" stroke-width="1.2"/>
<circle cx="555.78" cy="338.8" r="2.4" fill="#ffffff" stroke="#b4b4b4" stroke-width="1.2"/>
<circle cx="578.1" cy="338.8" r="2.4" fill="#ffffff" stroke="#b4b4b4" stroke-width="1.2"/>
<circle cx="600.43" cy="338.8" r="2.4" fill="#ffffff" stroke="#b4b4b4" stroke-width="1.2"/>
<circle cx="622.76" cy="338.24" r="2.4" fill="#ffffff" stroke="#b4b4b4" stroke-width="1.2"/>
<circle cx="678.58" cy="337.69" r="2.4" fill="#ffffff" stroke="#b4b4b4" stroke-width="1.2"/>
<polyline points="511.12,337.14 516.7,334.93 522.28,334.93 533.45,337.69 544.61,337.69 555.78,337.69 578.1,337.69 600.43,337.14 622.76,337.14 678.58,336.59" fill="none" stroke="#b8b8b8" stroke-width="1.4" stroke-dasharray="5.65 5.65"/>
<rect x="508.92" y="334.94" width="4.4" height="4.4" fill="#e0e0e0" stroke="#c4c4c4" stroke-width="1.2"/>
<rect x="514.5" y="332.73" width="4.4" height="4.4" fill="#e0e0e0" stroke="#c4c4c4" stroke-width="1.2"/>
<rect x="520.08" y="332.73" width="4.4" height="4.4" fill="#e0e0e0" stroke="#c4c4c4" stroke-width="1.2"/>
<rect x="531.25" y="335.49" width="4.4" height="4.4" fill="#e0e0e0" stroke="#c4c4c4" stroke-width="1.2"/>
<rect x="542.41" y="335.49" width="4.4" height="4.4" fill="#e0e0e0" stroke="#c4c4c4" stroke-width="1.2"/>
<rect x="553.58" y="335.49" width="4.4" height="4.4" fill="#e0e0e0" stroke="#c4c4c4" stroke-width="1.2"/>
<rect x="575.9" y="335.49" width="4.4" height="4.4" fill="#e0e0e0" stroke="#c4c4c4" stroke-width="1.2"/>
<rect x="598.23" y="334.94" width="4.4" height="4.4" fill="#e0e0e0" stroke="#c4c4c4" stroke-width="1.2"/>
<rect x="620.56" y="334.94" width="4.4" height="4.4" fill="#e0e0e0" stroke="#c4c4c4" stroke-width="1.2"/>
<rect x="676.38" y="334.39" width="4.4" height="4.4" fill="#e0e0e0" stroke="#c4c4c4" stroke-width="1.2"/>
<polyline points="511.12,347.63 516.7,326.65 522.28,327.76 533.45,332.17 544.61,334.93 555.78,335.48 578.1,339.35 600.43,338.24 622.76,338.24 678.58,337.69" fill="none" stroke="#262626" stroke-width="1.5"/>
<circle cx="511.12" cy="347.63" r="2.4" fill="#ffffff" stroke="#262626" stroke-width="1.2"/>
<circle cx="516.7" cy="326.65" r="2.4" fill="#ffffff" stroke="#262626" stroke-width="1.2"/>
<circle cx="522.28" cy="327.76" r="2.4" fill="#ffffff" stroke="#262626" stroke-width="1.2"/>
<circle cx="533.45" cy="332.17" r="2.4" fill="#ffffff" stroke="#262626" stroke-width="1.2"/>
<circle cx="544.61" cy="334.93" r="2.4" fill="#ffffff" stroke="#262626" stroke-width="1.2"/>
<circle cx="555.78" cy="335.48" r="2.4" fill="#ffffff" stroke="#262626" stroke-width="1.2"/>
<circle cx="578.1" cy="339.35" r="2.4" fill="#ffffff" stroke="#262626" stroke-width="1.2"/>
<circle cx="600.43" cy="338.24" r="2.4" fill="#ffffff" stroke="#262626" stroke-width="1.2"/>
<circle cx="622.76" cy="338.24" r="2.4" fill="#ffffff" stroke="#262626" stroke-width="1.2"/>
<circle cx="678.58" cy="337.69" r="2.4" fill="#ffffff" stroke="#262626" stroke-width="1.2"/>
<polyline points="511.12,344.87 516.7,325.55 522.28,326.65 533.45,329.96 544.61,332.17 555.78,332.72 578.1,334.38 600.43,333.28 622.76,335.48 678.58,334.38" fill="none" stroke="#262626" stroke-width="1.5" stroke-dasharray="5.65 5.65"/>
<rect x="508.92" y="342.67" width="4.4" height="4.4" fill="#a0a0a0" stroke="#262626" stroke-width="1.2"/>
<rect x="514.5" y="323.35" width="4.4" height="4.4" fill="#a0a0a0" stroke="#262626" stroke-width="1.2"/>
<rect x="520.08" y="324.45" width="4.4" height="4.4" fill="#a0a0a0" stroke="#262626" stroke-width="1.2"/>
<rect x="531.25" y="327.76" width="4.4" height="4.4" fill="#a0a0a0" stroke="#262626" stroke-width="1.2"/>
<rect x="542.41" y="329.97" width="4.4" height="4.4" fill="#a0a0a0" stroke="#262626" stroke-width="1.2"/>
<rect x="553.58" y="330.52" width="4.4" height="4.4" fill="#a0a0a0" stroke="#262626" stroke-width="1.2"/>
<rect x="575.9" y="332.18" width="4.4" height="4.4" fill="#a0a0a0" stroke="#262626" stroke-width="1.2"/>
<rect x="598.23" y="331.08" width="4.4" height="4.4" fill="#a0a0a0" stroke="#262626" stroke-width="1.2"/>
<rect x="620.56" y="333.28" width="4.4" height="4.4" fill="#a0a0a0" stroke="#262626" stroke-width="1.2"/>
<rect x="676.38" y="332.18" width="4.4" height="4.4" fill="#a0a0a0" stroke="#262626" stroke-width="1.2"/>
<line x1="596.3" y1="479.6" x2="621" y2="479.6" stroke="#262626" stroke-width="1.5" stroke-dasharray="5.65 5.65"/>
<rect x="606.5" y="477.4" width="4.4" height="4.4" fill="#a0a0a0" stroke="#262626" stroke-width="1.2"/>
<text transform="translate(629.4 482) scale(0.905 1)" fill="#3a3a3a" font-size="6.8">Surgery; Men</text>
<line x1="596.3" y1="486.6" x2="621" y2="486.6" stroke="#262626" stroke-width="1.5"/>
<circle cx="608.7" cy="486.6" r="2.4" fill="#ffffff" stroke="#262626" stroke-width="1.2"/>
<text transform="translate(629.4 489) scale(0.905 1)" fill="#3a3a3a" font-size="6.8">Surgery; Women</text>
<line x1="596.3" y1="493.6" x2="621" y2="493.6" stroke="#b8b8b8" stroke-width="1.4" stroke-dasharray="5.65 5.65"/>
<rect x="606.5" y="491.4" width="4.4" height="4.4" fill="#e0e0e0" stroke="#c4c4c4" stroke-width="1.2"/>
<text transform="translate(629.4 496) scale(0.905 1)" fill="#3a3a3a" font-size="6.8">Control; Men</text>
<line x1="596.3" y1="500.7" x2="621" y2="500.7" stroke="#b4b4b4" stroke-width="1.4"/>
<circle cx="608.7" cy="500.7" r="2.4" fill="#ffffff" stroke="#b4b4b4" stroke-width="1.2"/>
<text transform="translate(629.4 503.1) scale(0.905 1)" fill="#3a3a3a" font-size="6.8">Control; Women</text>
<line x1="31.5" y1="810.45" x2="219.6" y2="810.45" stroke="#eef0f0" stroke-width="1.5"/>
<line x1="31.5" y1="778.21" x2="219.6" y2="778.21" stroke="#eef0f0" stroke-width="1.5"/>
<line x1="31.5" y1="745.97" x2="219.6" y2="745.97" stroke="#eef0f0" stroke-width="1.5"/>
<line x1="31.5" y1="713.73" x2="219.6" y2="713.73" stroke="#eef0f0" stroke-width="1.5"/>
<line x1="31.5" y1="681.48" x2="219.6" y2="681.48" stroke="#eef0f0" stroke-width="1.5"/>
<line x1="31.5" y1="649.24" x2="219.6" y2="649.24" stroke="#eef0f0" stroke-width="1.5"/>
<line x1="31.5" y1="617" x2="219.6" y2="617" stroke="#eef0f0" stroke-width="1.5"/>
<line x1="38.2" y1="610.7" x2="38.2" y2="816.25" stroke="#eef0f0" stroke-width="1.5"/>
<line x1="49.84" y1="610.7" x2="49.84" y2="816.25" stroke="#eef0f0" stroke-width="1.5"/>
<line x1="61.49" y1="610.7" x2="61.49" y2="816.25" stroke="#eef0f0" stroke-width="1.5"/>
<line x1="73.14" y1="610.7" x2="73.14" y2="816.25" stroke="#eef0f0" stroke-width="1.5"/>
<line x1="84.79" y1="610.7" x2="84.79" y2="816.25" stroke="#eef0f0" stroke-width="1.5"/>
<line x1="108.08" y1="610.7" x2="108.08" y2="816.25" stroke="#eef0f0" stroke-width="1.5"/>
<line x1="131.37" y1="610.7" x2="131.37" y2="816.25" stroke="#eef0f0" stroke-width="1.5"/>
<line x1="154.67" y1="610.7" x2="154.67" y2="816.25" stroke="#eef0f0" stroke-width="1.5"/>
<line x1="212.9" y1="610.7" x2="212.9" y2="816.25" stroke="#eef0f0" stroke-width="1.5"/>
<line x1="31.5" y1="610.7" x2="31.5" y2="816.9" stroke="#c2c2c2" stroke-width="1.3"/>
<line x1="30.85" y1="816.25" x2="219.6" y2="816.25" stroke="#c2c2c2" stroke-width="1.3"/>
<line x1="27.2" y1="810.45" x2="31.5" y2="810.45" stroke="#c2c2c2" stroke-width="1.2"/>
<text transform="translate(25 813.65) scale(0.87 1)" text-anchor="end" fill="#8f8f8f" font-size="9.4">0</text>
<line x1="27.2" y1="778.21" x2="31.5" y2="778.21" stroke="#c2c2c2" stroke-width="1.2"/>
<text transform="translate(25 781.41) scale(0.87 1)" text-anchor="end" fill="#8f8f8f" font-size="9.4">1</text>
<line x1="27.2" y1="745.97" x2="31.5" y2="745.97" stroke="#c2c2c2" stroke-width="1.2"/>
<text transform="translate(25 749.17) scale(0.87 1)" text-anchor="end" fill="#8f8f8f" font-size="9.4">2</text>
<line x1="27.2" y1="713.73" x2="31.5" y2="713.73" stroke="#c2c2c2" stroke-width="1.2"/>
<text transform="translate(25 716.93) scale(0.87 1)" text-anchor="end" fill="#8f8f8f" font-size="9.4">3</text>
<line x1="27.2" y1="681.48" x2="31.5" y2="681.48" stroke="#c2c2c2" stroke-width="1.2"/>
<text transform="translate(25 684.68) scale(0.87 1)" text-anchor="end" fill="#8f8f8f" font-size="9.4">4</text>
<line x1="27.2" y1="649.24" x2="31.5" y2="649.24" stroke="#c2c2c2" stroke-width="1.2"/>
<text transform="translate(25 652.44) scale(0.87 1)" text-anchor="end" fill="#8f8f8f" font-size="9.4">5</text>
<line x1="27.2" y1="617" x2="31.5" y2="617" stroke="#c2c2c2" stroke-width="1.2"/>
<text transform="translate(25 620.2) scale(0.87 1)" text-anchor="end" fill="#8f8f8f" font-size="9.4">6</text>
<line x1="38.2" y1="816.25" x2="38.2" y2="820.55" stroke="#c2c2c2" stroke-width="1.2"/>
<text transform="translate(38.2 827.25) scale(0.87 1)" text-anchor="middle" fill="#8f8f8f" font-size="9.4">0</text>
<line x1="49.84" y1="816.25" x2="49.84" y2="820.55" stroke="#c2c2c2" stroke-width="1.2"/>
<text transform="translate(49.84 827.25) scale(0.87 1)" text-anchor="middle" fill="#8f8f8f" font-size="9.4">1</text>
<line x1="61.49" y1="816.25" x2="61.49" y2="820.55" stroke="#c2c2c2" stroke-width="1.2"/>
<text transform="translate(61.49 827.25) scale(0.87 1)" text-anchor="middle" fill="#8f8f8f" font-size="9.4">2</text>
<line x1="73.14" y1="816.25" x2="73.14" y2="820.55" stroke="#c2c2c2" stroke-width="1.2"/>
<text transform="translate(73.14 827.25) scale(0.87 1)" text-anchor="middle" fill="#8f8f8f" font-size="9.4">3</text>
<line x1="84.79" y1="816.25" x2="84.79" y2="820.55" stroke="#c2c2c2" stroke-width="1.2"/>
<text transform="translate(84.79 827.25) scale(0.87 1)" text-anchor="middle" fill="#8f8f8f" font-size="9.4">4</text>
<line x1="108.08" y1="816.25" x2="108.08" y2="820.55" stroke="#c2c2c2" stroke-width="1.2"/>
<text transform="translate(108.08 827.25) scale(0.87 1)" text-anchor="middle" fill="#8f8f8f" font-size="9.4">6</text>
<line x1="131.37" y1="816.25" x2="131.37" y2="820.55" stroke="#c2c2c2" stroke-width="1.2"/>
<text transform="translate(131.37 827.25) scale(0.87 1)" text-anchor="middle" fill="#8f8f8f" font-size="9.4">8</text>
<line x1="154.67" y1="816.25" x2="154.67" y2="820.55" stroke="#c2c2c2" stroke-width="1.2"/>
<text transform="translate(154.67 827.25) scale(0.87 1)" text-anchor="middle" fill="#8f8f8f" font-size="9.4">10</text>
<line x1="212.9" y1="816.25" x2="212.9" y2="820.55" stroke="#c2c2c2" stroke-width="1.2"/>
<text transform="translate(212.9 827.25) scale(0.87 1)" text-anchor="middle" fill="#8f8f8f" font-size="9.4">15</text>
<text transform="translate(9.6 606.3)" fill="#5a5a5a" font-size="10.1">Depression</text>
<text transform="translate(125.55 836.05) scale(0.94 1)" text-anchor="middle" fill="#2e2e2e" font-size="8.6">Follow-up time, years</text>
<text transform="translate(16.1 713.48) rotate(-90) scale(0.94 1)" text-anchor="middle" fill="#2e2e2e" font-size="8.6">Depression, score</text>
<path d="M38.2 662.3V683.26M35.8 662.3h4.8M35.8 683.26h4.8" stroke="#c8c8c8" stroke-width="1.2" fill="none"/>
<path d="M44.02 673.75V689.87M41.62 673.75h4.8M41.62 689.87h4.8" stroke="#c8c8c8" stroke-width="1.2" fill="none"/>
<path d="M49.84 678.26V694.38M47.44 678.26h4.8M47.44 694.38h4.8" stroke="#c8c8c8" stroke-width="1.2" fill="none"/>
<path d="M61.49 676.65V692.77M59.09 676.65h4.8M59.09 692.77h4.8" stroke="#c8c8c8" stroke-width="1.2" fill="none"/>
<path d="M73.14 671.09V688.01M70.74 671.09h4.8M70.74 688.01h4.8" stroke="#c8c8c8" stroke-width="1.2" fill="none"/>
<path d="M84.79 672.94V690.67M82.39 672.94h4.8M82.39 690.67h4.8" stroke="#c8c8c8" stroke-width="1.2" fill="none"/>
<path d="M108.08 673.99V694.14M105.68 673.99h4.8M105.68 694.14h4.8" stroke="#c8c8c8" stroke-width="1.2" fill="none"/>
<path d="M131.37 672.78V695.35M128.97 672.78h4.8M128.97 695.35h4.8" stroke="#c8c8c8" stroke-width="1.2" fill="none"/>
<path d="M154.67 672.21V697.2M152.27 672.21h4.8M152.27 697.2h4.8" stroke="#c8c8c8" stroke-width="1.2" fill="none"/>
<path d="M212.9 671V701.63M210.5 671h4.8M210.5 701.63h4.8" stroke="#c8c8c8" stroke-width="1.2" fill="none"/>
<path d="M38.2 669.72V690.67M35.8 669.72h4.8M35.8 690.67h4.8" stroke="#c8c8c8" stroke-width="1.2" fill="none"/>
<path d="M44.02 681.16V697.28M41.62 681.16h4.8M41.62 697.28h4.8" stroke="#c8c8c8" stroke-width="1.2" fill="none"/>
<path d="M49.84 679.23V695.35M47.44 679.23h4.8M47.44 695.35h4.8" stroke="#c8c8c8" stroke-width="1.2" fill="none"/>
<path d="M61.49 681.48V697.6M59.09 681.48h4.8M59.09 697.6h4.8" stroke="#c8c8c8" stroke-width="1.2" fill="none"/>
<path d="M73.14 676.24V693.17M70.74 676.24h4.8M70.74 693.17h4.8" stroke="#c8c8c8" stroke-width="1.2" fill="none"/>
<path d="M84.79 678.42V696.15M82.39 678.42h4.8M82.39 696.15h4.8" stroke="#c8c8c8" stroke-width="1.2" fill="none"/>
<path d="M108.08 678.5V698.65M105.68 678.5h4.8M105.68 698.65h4.8" stroke="#c8c8c8" stroke-width="1.2" fill="none"/>
<path d="M131.37 676.32V698.89M128.97 676.32h4.8M128.97 698.89h4.8" stroke="#c8c8c8" stroke-width="1.2" fill="none"/>
<path d="M154.67 675.12V700.1M152.27 675.12h4.8M152.27 700.1h4.8" stroke="#c8c8c8" stroke-width="1.2" fill="none"/>
<path d="M212.9 668.43V699.06M210.5 668.43h4.8M210.5 699.06h4.8" stroke="#c8c8c8" stroke-width="1.2" fill="none"/>
<path d="M38.2 628.09V646.53M35.8 628.09h4.8M35.8 646.53h4.8" stroke="#c8c8c8" stroke-width="1.2" fill="none"/>
<path d="M44.02 722.11V736.29M41.62 722.11h4.8M41.62 736.29h4.8" stroke="#c8c8c8" stroke-width="1.2" fill="none"/>
<path d="M49.84 719.53V733.71M47.44 719.53h4.8M47.44 733.71h4.8" stroke="#c8c8c8" stroke-width="1.2" fill="none"/>
<path d="M61.49 707.6V721.79M59.09 707.6h4.8M59.09 721.79h4.8" stroke="#c8c8c8" stroke-width="1.2" fill="none"/>
<path d="M73.14 696.93V711.82M70.74 696.93h4.8M70.74 711.82h4.8" stroke="#c8c8c8" stroke-width="1.2" fill="none"/>
<path d="M84.79 687.54V703.15M82.39 687.54h4.8M82.39 703.15h4.8" stroke="#c8c8c8" stroke-width="1.2" fill="none"/>
<path d="M108.08 675.84V693.57M105.68 675.84h4.8M105.68 693.57h4.8" stroke="#c8c8c8" stroke-width="1.2" fill="none"/>
<path d="M131.37 673.16V693.03M128.97 673.16h4.8M128.97 693.03h4.8" stroke="#c8c8c8" stroke-width="1.2" fill="none"/>
<path d="M154.67 670.17V692.16M152.27 670.17h4.8M152.27 692.16h4.8" stroke="#c8c8c8" stroke-width="1.2" fill="none"/>
<path d="M212.9 660.27V687.22M210.5 660.27h4.8M210.5 687.22h4.8" stroke="#c8c8c8" stroke-width="1.2" fill="none"/>
<path d="M38.2 636.15V654.59M35.8 636.15h4.8M35.8 654.59h4.8" stroke="#c8c8c8" stroke-width="1.2" fill="none"/>
<path d="M44.02 720.82V735M41.62 720.82h4.8M41.62 735h4.8" stroke="#c8c8c8" stroke-width="1.2" fill="none"/>
<path d="M49.84 720.17V734.36M47.44 720.17h4.8M47.44 734.36h4.8" stroke="#c8c8c8" stroke-width="1.2" fill="none"/>
<path d="M61.49 710.82V725.01M59.09 710.82h4.8M59.09 725.01h4.8" stroke="#c8c8c8" stroke-width="1.2" fill="none"/>
<path d="M73.14 694.67V709.57M70.74 694.67h4.8M70.74 709.57h4.8" stroke="#c8c8c8" stroke-width="1.2" fill="none"/>
<path d="M84.79 692.38V707.99M82.39 692.38h4.8M82.39 707.99h4.8" stroke="#c8c8c8" stroke-width="1.2" fill="none"/>
<path d="M108.08 682.29V700.02M105.68 682.29h4.8M105.68 700.02h4.8" stroke="#c8c8c8" stroke-width="1.2" fill="none"/>
<path d="M131.37 679.61V699.47M128.97 679.61h4.8M128.97 699.47h4.8" stroke="#c8c8c8" stroke-width="1.2" fill="none"/>
<path d="M154.67 681.13V703.12M152.27 681.13h4.8M152.27 703.12h4.8" stroke="#c8c8c8" stroke-width="1.2" fill="none"/>
<path d="M212.9 668.01V694.96M210.5 668.01h4.8M210.5 694.96h4.8" stroke="#c8c8c8" stroke-width="1.2" fill="none"/>
<polyline points="38.2,672.78 44.02,681.81 49.84,686.32 61.49,684.71 73.14,679.55 84.79,681.81 108.08,684.06 131.37,684.06 154.67,684.71 212.9,686.32" fill="none" stroke="#b4b4b4" stroke-width="1.4"/>
<circle cx="38.2" cy="672.78" r="2.4" fill="#ffffff" stroke="#b4b4b4" stroke-width="1.2"/>
<circle cx="44.02" cy="681.81" r="2.4" fill="#ffffff" stroke="#b4b4b4" stroke-width="1.2"/>
<circle cx="49.84" cy="686.32" r="2.4" fill="#ffffff" stroke="#b4b4b4" stroke-width="1.2"/>
<circle cx="61.49" cy="684.71" r="2.4" fill="#ffffff" stroke="#b4b4b4" stroke-width="1.2"/>
<circle cx="73.14" cy="679.55" r="2.4" fill="#ffffff" stroke="#b4b4b4" stroke-width="1.2"/>
<circle cx="84.79" cy="681.81" r="2.4" fill="#ffffff" stroke="#b4b4b4" stroke-width="1.2"/>
<circle cx="108.08" cy="684.06" r="2.4" fill="#ffffff" stroke="#b4b4b4" stroke-width="1.2"/>
<circle cx="131.37" cy="684.06" r="2.4" fill="#ffffff" stroke="#b4b4b4" stroke-width="1.2"/>
<circle cx="154.67" cy="684.71" r="2.4" fill="#ffffff" stroke="#b4b4b4" stroke-width="1.2"/>
<circle cx="212.9" cy="686.32" r="2.4" fill="#ffffff" stroke="#b4b4b4" stroke-width="1.2"/>
<polyline points="38.2,680.19 44.02,689.22 49.84,687.29 61.49,689.54 73.14,684.71 84.79,687.29 108.08,688.58 131.37,687.61 154.67,687.61 212.9,683.74" fill="none" stroke="#b8b8b8" stroke-width="1.4" stroke-dasharray="5.65 5.65"/>
<rect x="36" y="677.99" width="4.4" height="4.4" fill="#e0e0e0" stroke="#c4c4c4" stroke-width="1.2"/>
<rect x="41.82" y="687.02" width="4.4" height="4.4" fill="#e0e0e0" stroke="#c4c4c4" stroke-width="1.2"/>
<rect x="47.64" y="685.09" width="4.4" height="4.4" fill="#e0e0e0" stroke="#c4c4c4" stroke-width="1.2"/>
<rect x="59.29" y="687.34" width="4.4" height="4.4" fill="#e0e0e0" stroke="#c4c4c4" stroke-width="1.2"/>
<rect x="70.94" y="682.51" width="4.4" height="4.4" fill="#e0e0e0" stroke="#c4c4c4" stroke-width="1.2"/>
<rect x="82.59" y="685.09" width="4.4" height="4.4" fill="#e0e0e0" stroke="#c4c4c4" stroke-width="1.2"/>
<rect x="105.88" y="686.38" width="4.4" height="4.4" fill="#e0e0e0" stroke="#c4c4c4" stroke-width="1.2"/>
<rect x="129.17" y="685.41" width="4.4" height="4.4" fill="#e0e0e0" stroke="#c4c4c4" stroke-width="1.2"/>
<rect x="152.47" y="685.41" width="4.4" height="4.4" fill="#e0e0e0" stroke="#c4c4c4" stroke-width="1.2"/>
<rect x="210.7" y="681.54" width="4.4" height="4.4" fill="#e0e0e0" stroke="#c4c4c4" stroke-width="1.2"/>
<polyline points="38.2,637.31 44.02,729.2 49.84,726.62 61.49,714.69 73.14,704.37 84.79,695.35 108.08,684.71 131.37,683.1 154.67,681.16 212.9,673.75" fill="none" stroke="#262626" stroke-width="1.5"/>
<circle cx="38.2" cy="637.31" r="2.4" fill="#ffffff" stroke="#262626" stroke-width="1.2"/>
<circle cx="44.02" cy="729.2" r="2.4" fill="#ffffff" stroke="#262626" stroke-width="1.2"/>
<circle cx="49.84" cy="726.62" r="2.4" fill="#ffffff" stroke="#262626" stroke-width="1.2"/>
<circle cx="61.49" cy="714.69" r="2.4" fill="#ffffff" stroke="#262626" stroke-width="1.2"/>
<circle cx="73.14" cy="704.37" r="2.4" fill="#ffffff" stroke="#262626" stroke-width="1.2"/>
<circle cx="84.79" cy="695.35" r="2.4" fill="#ffffff" stroke="#262626" stroke-width="1.2"/>
<circle cx="108.08" cy="684.71" r="2.4" fill="#ffffff" stroke="#262626" stroke-width="1.2"/>
<circle cx="131.37" cy="683.1" r="2.4" fill="#ffffff" stroke="#262626" stroke-width="1.2"/>
<circle cx="154.67" cy="681.16" r="2.4" fill="#ffffff" stroke="#262626" stroke-width="1.2"/>
<circle cx="212.9" cy="673.75" r="2.4" fill="#ffffff" stroke="#262626" stroke-width="1.2"/>
<polyline points="38.2,645.37 44.02,727.91 49.84,727.27 61.49,717.92 73.14,702.12 84.79,700.18 108.08,691.16 131.37,689.54 154.67,692.12 212.9,681.48" fill="none" stroke="#262626" stroke-width="1.5" stroke-dasharray="5.65 5.65"/>
<rect x="36" y="643.17" width="4.4" height="4.4" fill="#a0a0a0" stroke="#262626" stroke-width="1.2"/>
<rect x="41.82" y="725.71" width="4.4" height="4.4" fill="#a0a0a0" stroke="#262626" stroke-width="1.2"/>
<rect x="47.64" y="725.07" width="4.4" height="4.4" fill="#a0a0a0" stroke="#262626" stroke-width="1.2"/>
<rect x="59.29" y="715.72" width="4.4" height="4.4" fill="#a0a0a0" stroke="#262626" stroke-width="1.2"/>
<rect x="70.94" y="699.92" width="4.4" height="4.4" fill="#a0a0a0" stroke="#262626" stroke-width="1.2"/>
<rect x="82.59" y="697.98" width="4.4" height="4.4" fill="#a0a0a0" stroke="#262626" stroke-width="1.2"/>
<rect x="105.88" y="688.96" width="4.4" height="4.4" fill="#a0a0a0" stroke="#262626" stroke-width="1.2"/>
<rect x="129.17" y="687.34" width="4.4" height="4.4" fill="#a0a0a0" stroke="#262626" stroke-width="1.2"/>
<rect x="152.47" y="689.92" width="4.4" height="4.4" fill="#a0a0a0" stroke="#262626" stroke-width="1.2"/>
<rect x="210.7" y="679.28" width="4.4" height="4.4" fill="#a0a0a0" stroke="#262626" stroke-width="1.2"/>
<line x1="131.2" y1="784.3" x2="158.2" y2="784.3" stroke="#262626" stroke-width="1.5" stroke-dasharray="5.65 5.65"/>
<rect x="142.4" y="782.1" width="4.4" height="4.4" fill="#a0a0a0" stroke="#262626" stroke-width="1.2"/>
<text transform="translate(166.5 786.7) scale(0.905 1)" fill="#3a3a3a" font-size="6.8">Surgery; &#8805;47.8y</text>
<line x1="131.2" y1="791.3" x2="158.2" y2="791.3" stroke="#262626" stroke-width="1.5"/>
<circle cx="144.6" cy="791.3" r="2.4" fill="#ffffff" stroke="#262626" stroke-width="1.2"/>
<text transform="translate(166.5 793.7) scale(0.905 1)" fill="#3a3a3a" font-size="6.8">Surgery; &lt;47.8y</text>
<line x1="131.2" y1="798.3" x2="158.2" y2="798.3" stroke="#b8b8b8" stroke-width="1.4" stroke-dasharray="5.65 5.65"/>
<rect x="142.4" y="796.1" width="4.4" height="4.4" fill="#e0e0e0" stroke="#c4c4c4" stroke-width="1.2"/>
<text transform="translate(166.5 800.7) scale(0.905 1)" fill="#3a3a3a" font-size="6.8">Control; &#8805;47.8y</text>
<line x1="131.2" y1="805.4" x2="158.2" y2="805.4" stroke="#b4b4b4" stroke-width="1.4"/>
<circle cx="144.6" cy="805.4" r="2.4" fill="#ffffff" stroke="#b4b4b4" stroke-width="1.2"/>
<text transform="translate(166.5 807.8) scale(0.905 1)" fill="#3a3a3a" font-size="6.8">Control; &lt;47.8y</text>
<line x1="264.4" y1="810.45" x2="452.3" y2="810.45" stroke="#eef0f0" stroke-width="1.5"/>
<line x1="264.4" y1="782.81" x2="452.3" y2="782.81" stroke="#eef0f0" stroke-width="1.5"/>
<line x1="264.4" y1="755.18" x2="452.3" y2="755.18" stroke="#eef0f0" stroke-width="1.5"/>
<line x1="264.4" y1="727.54" x2="452.3" y2="727.54" stroke="#eef0f0" stroke-width="1.5"/>
<line x1="264.4" y1="699.91" x2="452.3" y2="699.91" stroke="#eef0f0" stroke-width="1.5"/>
<line x1="264.4" y1="672.27" x2="452.3" y2="672.27" stroke="#eef0f0" stroke-width="1.5"/>
<line x1="264.4" y1="644.64" x2="452.3" y2="644.64" stroke="#eef0f0" stroke-width="1.5"/>
<line x1="264.4" y1="617" x2="452.3" y2="617" stroke="#eef0f0" stroke-width="1.5"/>
<line x1="271.09" y1="610.7" x2="271.09" y2="816.25" stroke="#eef0f0" stroke-width="1.5"/>
<line x1="282.72" y1="610.7" x2="282.72" y2="816.25" stroke="#eef0f0" stroke-width="1.5"/>
<line x1="294.36" y1="610.7" x2="294.36" y2="816.25" stroke="#eef0f0" stroke-width="1.5"/>
<line x1="305.99" y1="610.7" x2="305.99" y2="816.25" stroke="#eef0f0" stroke-width="1.5"/>
<line x1="317.63" y1="610.7" x2="317.63" y2="816.25" stroke="#eef0f0" stroke-width="1.5"/>
<line x1="340.9" y1="610.7" x2="340.9" y2="816.25" stroke="#eef0f0" stroke-width="1.5"/>
<line x1="364.17" y1="610.7" x2="364.17" y2="816.25" stroke="#eef0f0" stroke-width="1.5"/>
<line x1="387.44" y1="610.7" x2="387.44" y2="816.25" stroke="#eef0f0" stroke-width="1.5"/>
<line x1="445.61" y1="610.7" x2="445.61" y2="816.25" stroke="#eef0f0" stroke-width="1.5"/>
<line x1="264.4" y1="610.7" x2="264.4" y2="816.9" stroke="#c2c2c2" stroke-width="1.3"/>
<line x1="263.75" y1="816.25" x2="452.3" y2="816.25" stroke="#c2c2c2" stroke-width="1.3"/>
<line x1="260.1" y1="810.45" x2="264.4" y2="810.45" stroke="#c2c2c2" stroke-width="1.2"/>
<text transform="translate(257.9 813.65) scale(0.87 1)" text-anchor="end" fill="#8f8f8f" font-size="9.4">0</text>
<line x1="260.1" y1="782.81" x2="264.4" y2="782.81" stroke="#c2c2c2" stroke-width="1.2"/>
<text transform="translate(257.9 786.01) scale(0.87 1)" text-anchor="end" fill="#8f8f8f" font-size="9.4">1</text>
<line x1="260.1" y1="755.18" x2="264.4" y2="755.18" stroke="#c2c2c2" stroke-width="1.2"/>
<text transform="translate(257.9 758.38) scale(0.87 1)" text-anchor="end" fill="#8f8f8f" font-size="9.4">2</text>
<line x1="260.1" y1="727.54" x2="264.4" y2="727.54" stroke="#c2c2c2" stroke-width="1.2"/>
<text transform="translate(257.9 730.74) scale(0.87 1)" text-anchor="end" fill="#8f8f8f" font-size="9.4">3</text>
<line x1="260.1" y1="699.91" x2="264.4" y2="699.91" stroke="#c2c2c2" stroke-width="1.2"/>
<text transform="translate(257.9 703.11) scale(0.87 1)" text-anchor="end" fill="#8f8f8f" font-size="9.4">4</text>
<line x1="260.1" y1="672.27" x2="264.4" y2="672.27" stroke="#c2c2c2" stroke-width="1.2"/>
<text transform="translate(257.9 675.47) scale(0.87 1)" text-anchor="end" fill="#8f8f8f" font-size="9.4">5</text>
<line x1="260.1" y1="644.64" x2="264.4" y2="644.64" stroke="#c2c2c2" stroke-width="1.2"/>
<text transform="translate(257.9 647.84) scale(0.87 1)" text-anchor="end" fill="#8f8f8f" font-size="9.4">6</text>
<line x1="260.1" y1="617" x2="264.4" y2="617" stroke="#c2c2c2" stroke-width="1.2"/>
<text transform="translate(257.9 620.2) scale(0.87 1)" text-anchor="end" fill="#8f8f8f" font-size="9.4">7</text>
<line x1="271.09" y1="816.25" x2="271.09" y2="820.55" stroke="#c2c2c2" stroke-width="1.2"/>
<text transform="translate(271.09 827.25) scale(0.87 1)" text-anchor="middle" fill="#8f8f8f" font-size="9.4">0</text>
<line x1="282.72" y1="816.25" x2="282.72" y2="820.55" stroke="#c2c2c2" stroke-width="1.2"/>
<text transform="translate(282.72 827.25) scale(0.87 1)" text-anchor="middle" fill="#8f8f8f" font-size="9.4">1</text>
<line x1="294.36" y1="816.25" x2="294.36" y2="820.55" stroke="#c2c2c2" stroke-width="1.2"/>
<text transform="translate(294.36 827.25) scale(0.87 1)" text-anchor="middle" fill="#8f8f8f" font-size="9.4">2</text>
<line x1="305.99" y1="816.25" x2="305.99" y2="820.55" stroke="#c2c2c2" stroke-width="1.2"/>
<text transform="translate(305.99 827.25) scale(0.87 1)" text-anchor="middle" fill="#8f8f8f" font-size="9.4">3</text>
<line x1="317.63" y1="816.25" x2="317.63" y2="820.55" stroke="#c2c2c2" stroke-width="1.2"/>
<text transform="translate(317.63 827.25) scale(0.87 1)" text-anchor="middle" fill="#8f8f8f" font-size="9.4">4</text>
<line x1="340.9" y1="816.25" x2="340.9" y2="820.55" stroke="#c2c2c2" stroke-width="1.2"/>
<text transform="translate(340.9 827.25) scale(0.87 1)" text-anchor="middle" fill="#8f8f8f" font-size="9.4">6</text>
<line x1="364.17" y1="816.25" x2="364.17" y2="820.55" stroke="#c2c2c2" stroke-width="1.2"/>
<text transform="translate(364.17 827.25) scale(0.87 1)" text-anchor="middle" fill="#8f8f8f" font-size="9.4">8</text>
<line x1="387.44" y1="816.25" x2="387.44" y2="820.55" stroke="#c2c2c2" stroke-width="1.2"/>
<text transform="translate(387.44 827.25) scale(0.87 1)" text-anchor="middle" fill="#8f8f8f" font-size="9.4">10</text>
<line x1="445.61" y1="816.25" x2="445.61" y2="820.55" stroke="#c2c2c2" stroke-width="1.2"/>
<text transform="translate(445.61 827.25) scale(0.87 1)" text-anchor="middle" fill="#8f8f8f" font-size="9.4">15</text>
<text transform="translate(241.9 606.3)" fill="#5a5a5a" font-size="10.1">Anxiety</text>
<text transform="translate(358.35 836.05) scale(0.94 1)" text-anchor="middle" fill="#2e2e2e" font-size="8.6">Follow-up time, years</text>
<text transform="translate(248.8 713.48) rotate(-90) scale(0.94 1)" text-anchor="middle" fill="#2e2e2e" font-size="8.6">Anxiety, score</text>
<path d="M271.09 639.11V660.66M268.69 639.11h4.8M268.69 660.66h4.8" stroke="#c8c8c8" stroke-width="1.2" fill="none"/>
<path d="M276.91 653.76V670.34M274.51 653.76h4.8M274.51 670.34h4.8" stroke="#c8c8c8" stroke-width="1.2" fill="none"/>
<path d="M282.72 657.9V674.48M280.32 657.9h4.8M280.32 674.48h4.8" stroke="#c8c8c8" stroke-width="1.2" fill="none"/>
<path d="M294.36 655.69V672.27M291.96 655.69h4.8M291.96 672.27h4.8" stroke="#c8c8c8" stroke-width="1.2" fill="none"/>
<path d="M305.99 654.45V671.86M303.59 654.45h4.8M303.59 671.86h4.8" stroke="#c8c8c8" stroke-width="1.2" fill="none"/>
<path d="M317.63 658.45V676.69M315.23 658.45h4.8M315.23 676.69h4.8" stroke="#c8c8c8" stroke-width="1.2" fill="none"/>
<path d="M340.9 658.32V679.04M338.5 658.32h4.8M338.5 679.04h4.8" stroke="#c8c8c8" stroke-width="1.2" fill="none"/>
<path d="M364.17 662.6V685.81M361.77 662.6h4.8M361.77 685.81h4.8" stroke="#c8c8c8" stroke-width="1.2" fill="none"/>
<path d="M387.44 669.65V695.35M385.04 669.65h4.8M385.04 695.35h4.8" stroke="#c8c8c8" stroke-width="1.2" fill="none"/>
<path d="M445.61 672.82V704.33M443.21 672.82h4.8M443.21 704.33h4.8" stroke="#c8c8c8" stroke-width="1.2" fill="none"/>
<path d="M271.09 659.01V680.56M268.69 659.01h4.8M268.69 680.56h4.8" stroke="#c8c8c8" stroke-width="1.2" fill="none"/>
<path d="M276.91 664.81V681.39M274.51 664.81h4.8M274.51 681.39h4.8" stroke="#c8c8c8" stroke-width="1.2" fill="none"/>
<path d="M282.72 670.06V686.64M280.32 670.06h4.8M280.32 686.64h4.8" stroke="#c8c8c8" stroke-width="1.2" fill="none"/>
<path d="M294.36 674.48V691.06M291.96 674.48h4.8M291.96 691.06h4.8" stroke="#c8c8c8" stroke-width="1.2" fill="none"/>
<path d="M305.99 676V693.41M303.59 676h4.8M303.59 693.41h4.8" stroke="#c8c8c8" stroke-width="1.2" fill="none"/>
<path d="M317.63 678.35V696.59M315.23 678.35h4.8M315.23 696.59h4.8" stroke="#c8c8c8" stroke-width="1.2" fill="none"/>
<path d="M340.9 679.59V700.32M338.5 679.59h4.8M338.5 700.32h4.8" stroke="#c8c8c8" stroke-width="1.2" fill="none"/>
<path d="M364.17 681.67V704.88M361.77 681.67h4.8M361.77 704.88h4.8" stroke="#c8c8c8" stroke-width="1.2" fill="none"/>
<path d="M387.44 689.27V714.97M385.04 689.27h4.8M385.04 714.97h4.8" stroke="#c8c8c8" stroke-width="1.2" fill="none"/>
<path d="M445.61 685.81V717.32M443.21 685.81h4.8M443.21 717.32h4.8" stroke="#c8c8c8" stroke-width="1.2" fill="none"/>
<path d="M271.09 626.37V645.77M268.69 626.37h4.8M268.69 645.77h4.8" stroke="#c8c8c8" stroke-width="1.2" fill="none"/>
<path d="M276.91 694.66V709.58M274.51 694.66h4.8M274.51 709.58h4.8" stroke="#c8c8c8" stroke-width="1.2" fill="none"/>
<path d="M282.72 684.71V699.63M280.32 684.71h4.8M280.32 699.63h4.8" stroke="#c8c8c8" stroke-width="1.2" fill="none"/>
<path d="M294.36 676.14V691.06M291.96 676.14h4.8M291.96 691.06h4.8" stroke="#c8c8c8" stroke-width="1.2" fill="none"/>
<path d="M305.99 667.75V683.42M303.59 667.75h4.8M303.59 683.42h4.8" stroke="#c8c8c8" stroke-width="1.2" fill="none"/>
<path d="M317.63 659.64V676.06M315.23 659.64h4.8M315.23 676.06h4.8" stroke="#c8c8c8" stroke-width="1.2" fill="none"/>
<path d="M340.9 652.44V671.1M338.5 652.44h4.8M338.5 671.1h4.8" stroke="#c8c8c8" stroke-width="1.2" fill="none"/>
<path d="M364.17 654.09V674.98M361.77 654.09h4.8M361.77 674.98h4.8" stroke="#c8c8c8" stroke-width="1.2" fill="none"/>
<path d="M387.44 657.39V680.52M385.04 657.39h4.8M385.04 680.52h4.8" stroke="#c8c8c8" stroke-width="1.2" fill="none"/>
<path d="M445.61 661.41V689.76M443.21 661.41h4.8M443.21 689.76h4.8" stroke="#c8c8c8" stroke-width="1.2" fill="none"/>
<path d="M271.09 646.82V666.22M268.69 646.82h4.8M268.69 666.22h4.8" stroke="#c8c8c8" stroke-width="1.2" fill="none"/>
<path d="M276.91 701.01V715.94M274.51 701.01h4.8M274.51 715.94h4.8" stroke="#c8c8c8" stroke-width="1.2" fill="none"/>
<path d="M282.72 699.35V714.28M280.32 699.35h4.8M280.32 714.28h4.8" stroke="#c8c8c8" stroke-width="1.2" fill="none"/>
<path d="M294.36 684.98V699.91M291.96 684.98h4.8M291.96 699.91h4.8" stroke="#c8c8c8" stroke-width="1.2" fill="none"/>
<path d="M305.99 676.32V691.99M303.59 676.32h4.8M303.59 691.99h4.8" stroke="#c8c8c8" stroke-width="1.2" fill="none"/>
<path d="M317.63 678.99V695.4M315.23 678.99h4.8M315.23 695.4h4.8" stroke="#c8c8c8" stroke-width="1.2" fill="none"/>
<path d="M340.9 669.58V688.23M338.5 669.58h4.8M338.5 688.23h4.8" stroke="#c8c8c8" stroke-width="1.2" fill="none"/>
<path d="M364.17 675.64V696.54M361.77 675.64h4.8M361.77 696.54h4.8" stroke="#c8c8c8" stroke-width="1.2" fill="none"/>
<path d="M387.44 680.88V704.01M385.04 680.88h4.8M385.04 704.01h4.8" stroke="#c8c8c8" stroke-width="1.2" fill="none"/>
<path d="M445.61 684.07V712.43M443.21 684.07h4.8M443.21 712.43h4.8" stroke="#c8c8c8" stroke-width="1.2" fill="none"/>
<polyline points="271.09,649.89 276.91,662.05 282.72,666.19 294.36,663.98 305.99,663.15 317.63,667.57 340.9,668.68 364.17,674.21 387.44,682.5 445.61,688.58" fill="none" stroke="#b4b4b4" stroke-width="1.4"/>
<circle cx="271.09" cy="649.89" r="2.4" fill="#ffffff" stroke="#b4b4b4" stroke-width="1.2"/>
<circle cx="276.91" cy="662.05" r="2.4" fill="#ffffff" stroke="#b4b4b4" stroke-width="1.2"/>
<circle cx="282.72" cy="666.19" r="2.4" fill="#ffffff" stroke="#b4b4b4" stroke-width="1.2"/>
<circle cx="294.36" cy="663.98" r="2.4" fill="#ffffff" stroke="#b4b4b4" stroke-width="1.2"/>
<circle cx="305.99" cy="663.15" r="2.4" fill="#ffffff" stroke="#b4b4b4" stroke-width="1.2"/>
<circle cx="317.63" cy="667.57" r="2.4" fill="#ffffff" stroke="#b4b4b4" stroke-width="1.2"/>
<circle cx="340.9" cy="668.68" r="2.4" fill="#ffffff" stroke="#b4b4b4" stroke-width="1.2"/>
<circle cx="364.17" cy="674.21" r="2.4" fill="#ffffff" stroke="#b4b4b4" stroke-width="1.2"/>
<circle cx="387.44" cy="682.5" r="2.4" fill="#ffffff" stroke="#b4b4b4" stroke-width="1.2"/>
<circle cx="445.61" cy="688.58" r="2.4" fill="#ffffff" stroke="#b4b4b4" stroke-width="1.2"/>
<polyline points="271.09,669.78 276.91,673.1 282.72,678.35 294.36,682.77 305.99,684.71 317.63,687.47 340.9,689.96 364.17,693.27 387.44,702.12 445.61,701.57" fill="none" stroke="#b8b8b8" stroke-width="1.4" stroke-dasharray="5.65 5.65"/>
<rect x="268.89" y="667.58" width="4.4" height="4.4" fill="#e0e0e0" stroke="#c4c4c4" stroke-width="1.2"/>
<rect x="274.71" y="670.9" width="4.4" height="4.4" fill="#e0e0e0" stroke="#c4c4c4" stroke-width="1.2"/>
<rect x="280.52" y="676.15" width="4.4" height="4.4" fill="#e0e0e0" stroke="#c4c4c4" stroke-width="1.2"/>
<rect x="292.16" y="680.57" width="4.4" height="4.4" fill="#e0e0e0" stroke="#c4c4c4" stroke-width="1.2"/>
<rect x="303.79" y="682.51" width="4.4" height="4.4" fill="#e0e0e0" stroke="#c4c4c4" stroke-width="1.2"/>
<rect x="315.43" y="685.27" width="4.4" height="4.4" fill="#e0e0e0" stroke="#c4c4c4" stroke-width="1.2"/>
<rect x="338.7" y="687.76" width="4.4" height="4.4" fill="#e0e0e0" stroke="#c4c4c4" stroke-width="1.2"/>
<rect x="361.97" y="691.07" width="4.4" height="4.4" fill="#e0e0e0" stroke="#c4c4c4" stroke-width="1.2"/>
<rect x="385.24" y="699.92" width="4.4" height="4.4" fill="#e0e0e0" stroke="#c4c4c4" stroke-width="1.2"/>
<rect x="443.41" y="699.37" width="4.4" height="4.4" fill="#e0e0e0" stroke="#c4c4c4" stroke-width="1.2"/>
<polyline points="271.09,636.07 276.91,702.12 282.72,692.17 294.36,683.6 305.99,675.59 317.63,667.85 340.9,661.77 364.17,664.53 387.44,668.96 445.61,675.59" fill="none" stroke="#262626" stroke-width="1.5"/>
<circle cx="271.09" cy="636.07" r="2.4" fill="#ffffff" stroke="#262626" stroke-width="1.2"/>
<circle cx="276.91" cy="702.12" r="2.4" fill="#ffffff" stroke="#262626" stroke-width="1.2"/>
<circle cx="282.72" cy="692.17" r="2.4" fill="#ffffff" stroke="#262626" stroke-width="1.2"/>
<circle cx="294.36" cy="683.6" r="2.4" fill="#ffffff" stroke="#262626" stroke-width="1.2"/>
<circle cx="305.99" cy="675.59" r="2.4" fill="#ffffff" stroke="#262626" stroke-width="1.2"/>
<circle cx="317.63" cy="667.85" r="2.4" fill="#ffffff" stroke="#262626" stroke-width="1.2"/>
<circle cx="340.9" cy="661.77" r="2.4" fill="#ffffff" stroke="#262626" stroke-width="1.2"/>
<circle cx="364.17" cy="664.53" r="2.4" fill="#ffffff" stroke="#262626" stroke-width="1.2"/>
<circle cx="387.44" cy="668.96" r="2.4" fill="#ffffff" stroke="#262626" stroke-width="1.2"/>
<circle cx="445.61" cy="675.59" r="2.4" fill="#ffffff" stroke="#262626" stroke-width="1.2"/>
<polyline points="271.09,656.52 276.91,708.47 282.72,706.82 294.36,692.45 305.99,684.15 317.63,687.19 340.9,678.9 364.17,686.09 387.44,692.45 445.61,698.25" fill="none" stroke="#262626" stroke-width="1.5" stroke-dasharray="5.65 5.65"/>
<rect x="268.89" y="654.32" width="4.4" height="4.4" fill="#a0a0a0" stroke="#262626" stroke-width="1.2"/>
<rect x="274.71" y="706.27" width="4.4" height="4.4" fill="#a0a0a0" stroke="#262626" stroke-width="1.2"/>
<rect x="280.52" y="704.62" width="4.4" height="4.4" fill="#a0a0a0" stroke="#262626" stroke-width="1.2"/>
<rect x="292.16" y="690.25" width="4.4" height="4.4" fill="#a0a0a0" stroke="#262626" stroke-width="1.2"/>
<rect x="303.79" y="681.95" width="4.4" height="4.4" fill="#a0a0a0" stroke="#262626" stroke-width="1.2"/>
<rect x="315.43" y="684.99" width="4.4" height="4.4" fill="#a0a0a0" stroke="#262626" stroke-width="1.2"/>
<rect x="338.7" y="676.7" width="4.4" height="4.4" fill="#a0a0a0" stroke="#262626" stroke-width="1.2"/>
<rect x="361.97" y="683.89" width="4.4" height="4.4" fill="#a0a0a0" stroke="#262626" stroke-width="1.2"/>
<rect x="385.24" y="690.25" width="4.4" height="4.4" fill="#a0a0a0" stroke="#262626" stroke-width="1.2"/>
<rect x="443.41" y="696.05" width="4.4" height="4.4" fill="#a0a0a0" stroke="#262626" stroke-width="1.2"/>
<line x1="363.9" y1="784.3" x2="390.9" y2="784.3" stroke="#262626" stroke-width="1.5" stroke-dasharray="5.65 5.65"/>
<rect x="375.1" y="782.1" width="4.4" height="4.4" fill="#a0a0a0" stroke="#262626" stroke-width="1.2"/>
<text transform="translate(399.2 786.7) scale(0.905 1)" fill="#3a3a3a" font-size="6.8">Surgery; &#8805;47.8y</text>
<line x1="363.9" y1="791.3" x2="390.9" y2="791.3" stroke="#262626" stroke-width="1.5"/>
<circle cx="377.3" cy="791.3" r="2.4" fill="#ffffff" stroke="#262626" stroke-width="1.2"/>
<text transform="translate(399.2 793.7) scale(0.905 1)" fill="#3a3a3a" font-size="6.8">Surgery; &lt;47.8y</text>
<line x1="363.9" y1="798.3" x2="390.9" y2="798.3" stroke="#b8b8b8" stroke-width="1.4" stroke-dasharray="5.65 5.65"/>
<rect x="375.1" y="796.1" width="4.4" height="4.4" fill="#e0e0e0" stroke="#c4c4c4" stroke-width="1.2"/>
<text transform="translate(399.2 800.7) scale(0.905 1)" fill="#3a3a3a" font-size="6.8">Control; &#8805;47.8y</text>
<line x1="363.9" y1="805.4" x2="390.9" y2="805.4" stroke="#b4b4b4" stroke-width="1.4"/>
<circle cx="377.3" cy="805.4" r="2.4" fill="#ffffff" stroke="#b4b4b4" stroke-width="1.2"/>
<text transform="translate(399.2 807.8) scale(0.905 1)" fill="#3a3a3a" font-size="6.8">Control; &lt;47.8y</text>
<line x1="502.5" y1="810.45" x2="685" y2="810.45" stroke="#eef0f0" stroke-width="1.5"/>
<line x1="502.5" y1="782.81" x2="685" y2="782.81" stroke="#eef0f0" stroke-width="1.5"/>
<line x1="502.5" y1="755.18" x2="685" y2="755.18" stroke="#eef0f0" stroke-width="1.5"/>
<line x1="502.5" y1="727.54" x2="685" y2="727.54" stroke="#eef0f0" stroke-width="1.5"/>
<line x1="502.5" y1="699.91" x2="685" y2="699.91" stroke="#eef0f0" stroke-width="1.5"/>
<line x1="502.5" y1="672.27" x2="685" y2="672.27" stroke="#eef0f0" stroke-width="1.5"/>
<line x1="502.5" y1="644.64" x2="685" y2="644.64" stroke="#eef0f0" stroke-width="1.5"/>
<line x1="502.5" y1="617" x2="685" y2="617" stroke="#eef0f0" stroke-width="1.5"/>
<line x1="509" y1="610.7" x2="509" y2="816.25" stroke="#eef0f0" stroke-width="1.5"/>
<line x1="520.3" y1="610.7" x2="520.3" y2="816.25" stroke="#eef0f0" stroke-width="1.5"/>
<line x1="531.6" y1="610.7" x2="531.6" y2="816.25" stroke="#eef0f0" stroke-width="1.5"/>
<line x1="542.9" y1="610.7" x2="542.9" y2="816.25" stroke="#eef0f0" stroke-width="1.5"/>
<line x1="554.2" y1="610.7" x2="554.2" y2="816.25" stroke="#eef0f0" stroke-width="1.5"/>
<line x1="576.8" y1="610.7" x2="576.8" y2="816.25" stroke="#eef0f0" stroke-width="1.5"/>
<line x1="599.4" y1="610.7" x2="599.4" y2="816.25" stroke="#eef0f0" stroke-width="1.5"/>
<line x1="622" y1="610.7" x2="622" y2="816.25" stroke="#eef0f0" stroke-width="1.5"/>
<line x1="678.5" y1="610.7" x2="678.5" y2="816.25" stroke="#eef0f0" stroke-width="1.5"/>
<line x1="502.5" y1="610.7" x2="502.5" y2="816.9" stroke="#c2c2c2" stroke-width="1.3"/>
<line x1="501.85" y1="816.25" x2="685" y2="816.25" stroke="#c2c2c2" stroke-width="1.3"/>
<line x1="498.2" y1="810.45" x2="502.5" y2="810.45" stroke="#c2c2c2" stroke-width="1.2"/>
<text transform="translate(496 813.65) scale(0.87 1)" text-anchor="end" fill="#8f8f8f" font-size="9.4">0</text>
<line x1="498.2" y1="782.81" x2="502.5" y2="782.81" stroke="#c2c2c2" stroke-width="1.2"/>
<text transform="translate(496 786.01) scale(0.87 1)" text-anchor="end" fill="#8f8f8f" font-size="9.4">10</text>
<line x1="498.2" y1="755.18" x2="502.5" y2="755.18" stroke="#c2c2c2" stroke-width="1.2"/>
<text transform="translate(496 758.38) scale(0.87 1)" text-anchor="end" fill="#8f8f8f" font-size="9.4">20</text>
<line x1="498.2" y1="727.54" x2="502.5" y2="727.54" stroke="#c2c2c2" stroke-width="1.2"/>
<text transform="translate(496 730.74) scale(0.87 1)" text-anchor="end" fill="#8f8f8f" font-size="9.4">30</text>
<line x1="498.2" y1="699.91" x2="502.5" y2="699.91" stroke="#c2c2c2" stroke-width="1.2"/>
<text transform="translate(496 703.11) scale(0.87 1)" text-anchor="end" fill="#8f8f8f" font-size="9.4">40</text>
<line x1="498.2" y1="672.27" x2="502.5" y2="672.27" stroke="#c2c2c2" stroke-width="1.2"/>
<text transform="translate(496 675.47) scale(0.87 1)" text-anchor="end" fill="#8f8f8f" font-size="9.4">50</text>
<line x1="498.2" y1="644.64" x2="502.5" y2="644.64" stroke="#c2c2c2" stroke-width="1.2"/>
<text transform="translate(496 647.84) scale(0.87 1)" text-anchor="end" fill="#8f8f8f" font-size="9.4">60</text>
<line x1="498.2" y1="617" x2="502.5" y2="617" stroke="#c2c2c2" stroke-width="1.2"/>
<text transform="translate(496 620.2) scale(0.87 1)" text-anchor="end" fill="#8f8f8f" font-size="9.4">70</text>
<line x1="509" y1="816.25" x2="509" y2="820.55" stroke="#c2c2c2" stroke-width="1.2"/>
<text transform="translate(509 827.25) scale(0.87 1)" text-anchor="middle" fill="#8f8f8f" font-size="9.4">0</text>
<line x1="520.3" y1="816.25" x2="520.3" y2="820.55" stroke="#c2c2c2" stroke-width="1.2"/>
<text transform="translate(520.3 827.25) scale(0.87 1)" text-anchor="middle" fill="#8f8f8f" font-size="9.4">1</text>
<line x1="531.6" y1="816.25" x2="531.6" y2="820.55" stroke="#c2c2c2" stroke-width="1.2"/>
<text transform="translate(531.6 827.25) scale(0.87 1)" text-anchor="middle" fill="#8f8f8f" font-size="9.4">2</text>
<line x1="542.9" y1="816.25" x2="542.9" y2="820.55" stroke="#c2c2c2" stroke-width="1.2"/>
<text transform="translate(542.9 827.25) scale(0.87 1)" text-anchor="middle" fill="#8f8f8f" font-size="9.4">3</text>
<line x1="554.2" y1="816.25" x2="554.2" y2="820.55" stroke="#c2c2c2" stroke-width="1.2"/>
<text transform="translate(554.2 827.25) scale(0.87 1)" text-anchor="middle" fill="#8f8f8f" font-size="9.4">4</text>
<line x1="576.8" y1="816.25" x2="576.8" y2="820.55" stroke="#c2c2c2" stroke-width="1.2"/>
<text transform="translate(576.8 827.25) scale(0.87 1)" text-anchor="middle" fill="#8f8f8f" font-size="9.4">6</text>
<line x1="599.4" y1="816.25" x2="599.4" y2="820.55" stroke="#c2c2c2" stroke-width="1.2"/>
<text transform="translate(599.4 827.25) scale(0.87 1)" text-anchor="middle" fill="#8f8f8f" font-size="9.4">8</text>
<line x1="622" y1="816.25" x2="622" y2="820.55" stroke="#c2c2c2" stroke-width="1.2"/>
<text transform="translate(622 827.25) scale(0.87 1)" text-anchor="middle" fill="#8f8f8f" font-size="9.4">10</text>
<line x1="678.5" y1="816.25" x2="678.5" y2="820.55" stroke="#c2c2c2" stroke-width="1.2"/>
<text transform="translate(678.5 827.25) scale(0.87 1)" text-anchor="middle" fill="#8f8f8f" font-size="9.4">15</text>
<text transform="translate(475 606.3)" fill="#5a5a5a" font-size="10.1">Obesity-related problems</text>
<text transform="translate(593.75 836.05) scale(0.94 1)" text-anchor="middle" fill="#2e2e2e" font-size="8.6">Follow-up time, years</text>
<text transform="translate(481.5 713.48) rotate(-90) scale(0.94 1)" text-anchor="middle" fill="#2e2e2e" font-size="8.6">Obesity-related problems, score</text>
<path d="M509 686.38V694.64M506.6 686.38h4.8M506.6 694.64h4.8" stroke="#c8c8c8" stroke-width="1.2" fill="none"/>
<path d="M514.65 700.6V706.95M512.25 700.6h4.8M512.25 706.95h4.8" stroke="#c8c8c8" stroke-width="1.2" fill="none"/>
<path d="M520.3 704.47V710.82M517.9 704.47h4.8M517.9 710.82h4.8" stroke="#c8c8c8" stroke-width="1.2" fill="none"/>
<path d="M531.6 704.47V710.82M529.2 704.47h4.8M529.2 710.82h4.8" stroke="#c8c8c8" stroke-width="1.2" fill="none"/>
<path d="M542.9 704.31V710.98M540.5 704.31h4.8M540.5 710.98h4.8" stroke="#c8c8c8" stroke-width="1.2" fill="none"/>
<path d="M554.2 703.32V710.31M551.8 703.32h4.8M551.8 710.31h4.8" stroke="#c8c8c8" stroke-width="1.2" fill="none"/>
<path d="M576.8 706.44V714.38M574.4 706.44h4.8M574.4 714.38h4.8" stroke="#c8c8c8" stroke-width="1.2" fill="none"/>
<path d="M599.4 707.89V716.79M597 707.89h4.8M597 716.79h4.8" stroke="#c8c8c8" stroke-width="1.2" fill="none"/>
<path d="M622 710.73V720.59M619.6 710.73h4.8M619.6 720.59h4.8" stroke="#c8c8c8" stroke-width="1.2" fill="none"/>
<path d="M678.5 710.45V722.53M676.1 710.45h4.8M676.1 722.53h4.8" stroke="#c8c8c8" stroke-width="1.2" fill="none"/>
<path d="M509 696.6V704.87M506.6 696.6h4.8M506.6 704.87h4.8" stroke="#c8c8c8" stroke-width="1.2" fill="none"/>
<path d="M514.65 706.13V712.48M512.25 706.13h4.8M512.25 712.48h4.8" stroke="#c8c8c8" stroke-width="1.2" fill="none"/>
<path d="M520.3 711.38V717.73M517.9 711.38h4.8M517.9 717.73h4.8" stroke="#c8c8c8" stroke-width="1.2" fill="none"/>
<path d="M531.6 710.27V716.63M529.2 710.27h4.8M529.2 716.63h4.8" stroke="#c8c8c8" stroke-width="1.2" fill="none"/>
<path d="M542.9 714.53V721.21M540.5 714.53h4.8M540.5 721.21h4.8" stroke="#c8c8c8" stroke-width="1.2" fill="none"/>
<path d="M554.2 714.93V721.92M551.8 714.93h4.8M551.8 721.92h4.8" stroke="#c8c8c8" stroke-width="1.2" fill="none"/>
<path d="M576.8 716.66V724.61M574.4 716.66h4.8M574.4 724.61h4.8" stroke="#c8c8c8" stroke-width="1.2" fill="none"/>
<path d="M599.4 719.5V728.4M597 719.5h4.8M597 728.4h4.8" stroke="#c8c8c8" stroke-width="1.2" fill="none"/>
<path d="M622 721.24V731.09M619.6 721.24h4.8M619.6 731.09h4.8" stroke="#c8c8c8" stroke-width="1.2" fill="none"/>
<path d="M678.5 716.25V728.33M676.1 716.25h4.8M676.1 728.33h4.8" stroke="#c8c8c8" stroke-width="1.2" fill="none"/>
<path d="M509 638.42V649.2M506.6 638.42h4.8M506.6 649.2h4.8" stroke="#c8c8c8" stroke-width="1.2" fill="none"/>
<path d="M514.65 727.82V736.11M512.25 727.82h4.8M512.25 736.11h4.8" stroke="#c8c8c8" stroke-width="1.2" fill="none"/>
<path d="M520.3 744.12V752.42M517.9 744.12h4.8M517.9 752.42h4.8" stroke="#c8c8c8" stroke-width="1.2" fill="none"/>
<path d="M531.6 738.87V747.16M529.2 738.87h4.8M529.2 747.16h4.8" stroke="#c8c8c8" stroke-width="1.2" fill="none"/>
<path d="M542.9 737.84V746.54M540.5 737.84h4.8M540.5 746.54h4.8" stroke="#c8c8c8" stroke-width="1.2" fill="none"/>
<path d="M554.2 733.76V742.88M551.8 733.76h4.8M551.8 742.88h4.8" stroke="#c8c8c8" stroke-width="1.2" fill="none"/>
<path d="M576.8 728.16V738.53M574.4 728.16h4.8M574.4 738.53h4.8" stroke="#c8c8c8" stroke-width="1.2" fill="none"/>
<path d="M599.4 726.71V738.32M597 726.71h4.8M597 738.32h4.8" stroke="#c8c8c8" stroke-width="1.2" fill="none"/>
<path d="M622 722.22V735.07M619.6 722.22h4.8M619.6 735.07h4.8" stroke="#c8c8c8" stroke-width="1.2" fill="none"/>
<path d="M678.5 717.73V733.48M676.1 717.73h4.8M676.1 733.48h4.8" stroke="#c8c8c8" stroke-width="1.2" fill="none"/>
<path d="M509 646.71V657.49M506.6 646.71h4.8M506.6 657.49h4.8" stroke="#c8c8c8" stroke-width="1.2" fill="none"/>
<path d="M514.65 732.24V740.53M512.25 732.24h4.8M512.25 740.53h4.8" stroke="#c8c8c8" stroke-width="1.2" fill="none"/>
<path d="M520.3 744.95V753.24M517.9 744.95h4.8M517.9 753.24h4.8" stroke="#c8c8c8" stroke-width="1.2" fill="none"/>
<path d="M531.6 739.43V747.72M529.2 739.43h4.8M529.2 747.72h4.8" stroke="#c8c8c8" stroke-width="1.2" fill="none"/>
<path d="M542.9 737.01V745.71M540.5 737.01h4.8M540.5 745.71h4.8" stroke="#c8c8c8" stroke-width="1.2" fill="none"/>
<path d="M554.2 735.7V744.82M551.8 735.7h4.8M551.8 744.82h4.8" stroke="#c8c8c8" stroke-width="1.2" fill="none"/>
<path d="M576.8 725.68V736.04M574.4 725.68h4.8M574.4 736.04h4.8" stroke="#c8c8c8" stroke-width="1.2" fill="none"/>
<path d="M599.4 727.27V738.87M597 727.27h4.8M597 738.87h4.8" stroke="#c8c8c8" stroke-width="1.2" fill="none"/>
<path d="M622 721.95V734.8M619.6 721.95h4.8M619.6 734.8h4.8" stroke="#c8c8c8" stroke-width="1.2" fill="none"/>
<path d="M678.5 722.98V738.74M676.1 722.98h4.8M676.1 738.74h4.8" stroke="#c8c8c8" stroke-width="1.2" fill="none"/>
<polyline points="509,690.51 514.65,703.78 520.3,707.65 531.6,707.65 542.9,707.65 554.2,706.82 576.8,710.41 599.4,712.34 622,715.66 678.5,716.49" fill="none" stroke="#b4b4b4" stroke-width="1.4"/>
<circle cx="509" cy="690.51" r="2.4" fill="#ffffff" stroke="#b4b4b4" stroke-width="1.2"/>
<circle cx="514.65" cy="703.78" r="2.4" fill="#ffffff" stroke="#b4b4b4" stroke-width="1.2"/>
<circle cx="520.3" cy="707.65" r="2.4" fill="#ffffff" stroke="#b4b4b4" stroke-width="1.2"/>
<circle cx="531.6" cy="707.65" r="2.4" fill="#ffffff" stroke="#b4b4b4" stroke-width="1.2"/>
<circle cx="542.9" cy="707.65" r="2.4" fill="#ffffff" stroke="#b4b4b4" stroke-width="1.2"/>
<circle cx="554.2" cy="706.82" r="2.4" fill="#ffffff" stroke="#b4b4b4" stroke-width="1.2"/>
<circle cx="576.8" cy="710.41" r="2.4" fill="#ffffff" stroke="#b4b4b4" stroke-width="1.2"/>
<circle cx="599.4" cy="712.34" r="2.4" fill="#ffffff" stroke="#b4b4b4" stroke-width="1.2"/>
<circle cx="622" cy="715.66" r="2.4" fill="#ffffff" stroke="#b4b4b4" stroke-width="1.2"/>
<circle cx="678.5" cy="716.49" r="2.4" fill="#ffffff" stroke="#b4b4b4" stroke-width="1.2"/>
<polyline points="509,700.74 514.65,709.3 520.3,714.55 531.6,713.45 542.9,717.87 554.2,718.42 576.8,720.63 599.4,723.95 622,726.16 678.5,722.29" fill="none" stroke="#b8b8b8" stroke-width="1.4" stroke-dasharray="5.65 5.65"/>
<rect x="506.8" y="698.54" width="4.4" height="4.4" fill="#e0e0e0" stroke="#c4c4c4" stroke-width="1.2"/>
<rect x="512.45" y="707.1" width="4.4" height="4.4" fill="#e0e0e0" stroke="#c4c4c4" stroke-width="1.2"/>
<rect x="518.1" y="712.35" width="4.4" height="4.4" fill="#e0e0e0" stroke="#c4c4c4" stroke-width="1.2"/>
<rect x="529.4" y="711.25" width="4.4" height="4.4" fill="#e0e0e0" stroke="#c4c4c4" stroke-width="1.2"/>
<rect x="540.7" y="715.67" width="4.4" height="4.4" fill="#e0e0e0" stroke="#c4c4c4" stroke-width="1.2"/>
<rect x="552" y="716.22" width="4.4" height="4.4" fill="#e0e0e0" stroke="#c4c4c4" stroke-width="1.2"/>
<rect x="574.6" y="718.43" width="4.4" height="4.4" fill="#e0e0e0" stroke="#c4c4c4" stroke-width="1.2"/>
<rect x="597.2" y="721.75" width="4.4" height="4.4" fill="#e0e0e0" stroke="#c4c4c4" stroke-width="1.2"/>
<rect x="619.8" y="723.96" width="4.4" height="4.4" fill="#e0e0e0" stroke="#c4c4c4" stroke-width="1.2"/>
<rect x="676.3" y="720.09" width="4.4" height="4.4" fill="#e0e0e0" stroke="#c4c4c4" stroke-width="1.2"/>
<polyline points="509,643.81 514.65,731.96 520.3,748.27 531.6,743.02 542.9,742.19 554.2,738.32 576.8,733.35 599.4,732.52 622,728.65 678.5,725.61" fill="none" stroke="#262626" stroke-width="1.5"/>
<circle cx="509" cy="643.81" r="2.4" fill="#ffffff" stroke="#262626" stroke-width="1.2"/>
<circle cx="514.65" cy="731.96" r="2.4" fill="#ffffff" stroke="#262626" stroke-width="1.2"/>
<circle cx="520.3" cy="748.27" r="2.4" fill="#ffffff" stroke="#262626" stroke-width="1.2"/>
<circle cx="531.6" cy="743.02" r="2.4" fill="#ffffff" stroke="#262626" stroke-width="1.2"/>
<circle cx="542.9" cy="742.19" r="2.4" fill="#ffffff" stroke="#262626" stroke-width="1.2"/>
<circle cx="554.2" cy="738.32" r="2.4" fill="#ffffff" stroke="#262626" stroke-width="1.2"/>
<circle cx="576.8" cy="733.35" r="2.4" fill="#ffffff" stroke="#262626" stroke-width="1.2"/>
<circle cx="599.4" cy="732.52" r="2.4" fill="#ffffff" stroke="#262626" stroke-width="1.2"/>
<circle cx="622" cy="728.65" r="2.4" fill="#ffffff" stroke="#262626" stroke-width="1.2"/>
<circle cx="678.5" cy="725.61" r="2.4" fill="#ffffff" stroke="#262626" stroke-width="1.2"/>
<polyline points="509,652.1 514.65,736.39 520.3,749.1 531.6,743.57 542.9,741.36 554.2,740.26 576.8,730.86 599.4,733.07 622,728.37 678.5,730.86" fill="none" stroke="#262626" stroke-width="1.5" stroke-dasharray="5.65 5.65"/>
<rect x="506.8" y="649.9" width="4.4" height="4.4" fill="#a0a0a0" stroke="#262626" stroke-width="1.2"/>
<rect x="512.45" y="734.19" width="4.4" height="4.4" fill="#a0a0a0" stroke="#262626" stroke-width="1.2"/>
<rect x="518.1" y="746.9" width="4.4" height="4.4" fill="#a0a0a0" stroke="#262626" stroke-width="1.2"/>
<rect x="529.4" y="741.37" width="4.4" height="4.4" fill="#a0a0a0" stroke="#262626" stroke-width="1.2"/>
<rect x="540.7" y="739.16" width="4.4" height="4.4" fill="#a0a0a0" stroke="#262626" stroke-width="1.2"/>
<rect x="552" y="738.06" width="4.4" height="4.4" fill="#a0a0a0" stroke="#262626" stroke-width="1.2"/>
<rect x="574.6" y="728.66" width="4.4" height="4.4" fill="#a0a0a0" stroke="#262626" stroke-width="1.2"/>
<rect x="597.2" y="730.87" width="4.4" height="4.4" fill="#a0a0a0" stroke="#262626" stroke-width="1.2"/>
<rect x="619.8" y="726.17" width="4.4" height="4.4" fill="#a0a0a0" stroke="#262626" stroke-width="1.2"/>
<rect x="676.3" y="728.66" width="4.4" height="4.4" fill="#a0a0a0" stroke="#262626" stroke-width="1.2"/>
<line x1="596.6" y1="784.3" x2="623.6" y2="784.3" stroke="#262626" stroke-width="1.5" stroke-dasharray="5.65 5.65"/>
<rect x="607.8" y="782.1" width="4.4" height="4.4" fill="#a0a0a0" stroke="#262626" stroke-width="1.2"/>
<text transform="translate(631.9 786.7) scale(0.905 1)" fill="#3a3a3a" font-size="6.8">Surgery; &#8805;47.8y</text>
<line x1="596.6" y1="791.3" x2="623.6" y2="791.3" stroke="#262626" stroke-width="1.5"/>
<circle cx="610" cy="791.3" r="2.4" fill="#ffffff" stroke="#262626" stroke-width="1.2"/>
<text transform="translate(631.9 793.7) scale(0.905 1)" fill="#3a3a3a" font-size="6.8">Surgery; &lt;47.8y</text>
<line x1="596.6" y1="798.3" x2="623.6" y2="798.3" stroke="#b8b8b8" stroke-width="1.4" stroke-dasharray="5.65 5.65"/>
<rect x="607.8" y="796.1" width="4.4" height="4.4" fill="#e0e0e0" stroke="#c4c4c4" stroke-width="1.2"/>
<text transform="translate(631.9 800.7) scale(0.905 1)" fill="#3a3a3a" font-size="6.8">Control; &#8805;47.8y</text>
<line x1="596.6" y1="805.4" x2="623.6" y2="805.4" stroke="#b4b4b4" stroke-width="1.4"/>
<circle cx="610" cy="805.4" r="2.4" fill="#ffffff" stroke="#b4b4b4" stroke-width="1.2"/>
<text transform="translate(631.9 807.8) scale(0.905 1)" fill="#3a3a3a" font-size="6.8">Control; &lt;47.8y</text>
<line x1="36.6" y1="1074.3" x2="219.6" y2="1074.3" stroke="#eef0f0" stroke-width="1.5"/>
<line x1="36.6" y1="1050.11" x2="219.6" y2="1050.11" stroke="#eef0f0" stroke-width="1.5"/>
<line x1="36.6" y1="1025.92" x2="219.6" y2="1025.92" stroke="#eef0f0" stroke-width="1.5"/>
<line x1="36.6" y1="1001.74" x2="219.6" y2="1001.74" stroke="#eef0f0" stroke-width="1.5"/>
<line x1="36.6" y1="977.55" x2="219.6" y2="977.55" stroke="#eef0f0" stroke-width="1.5"/>
<line x1="36.6" y1="953.36" x2="219.6" y2="953.36" stroke="#eef0f0" stroke-width="1.5"/>
<line x1="36.6" y1="929.17" x2="219.6" y2="929.17" stroke="#eef0f0" stroke-width="1.5"/>
<line x1="36.6" y1="904.99" x2="219.6" y2="904.99" stroke="#eef0f0" stroke-width="1.5"/>
<line x1="36.6" y1="880.8" x2="219.6" y2="880.8" stroke="#eef0f0" stroke-width="1.5"/>
<line x1="43.12" y1="874.5" x2="43.12" y2="1080.1" stroke="#eef0f0" stroke-width="1.5"/>
<line x1="54.45" y1="874.5" x2="54.45" y2="1080.1" stroke="#eef0f0" stroke-width="1.5"/>
<line x1="65.78" y1="874.5" x2="65.78" y2="1080.1" stroke="#eef0f0" stroke-width="1.5"/>
<line x1="77.11" y1="874.5" x2="77.11" y2="1080.1" stroke="#eef0f0" stroke-width="1.5"/>
<line x1="88.44" y1="874.5" x2="88.44" y2="1080.1" stroke="#eef0f0" stroke-width="1.5"/>
<line x1="111.1" y1="874.5" x2="111.1" y2="1080.1" stroke="#eef0f0" stroke-width="1.5"/>
<line x1="133.77" y1="874.5" x2="133.77" y2="1080.1" stroke="#eef0f0" stroke-width="1.5"/>
<line x1="156.43" y1="874.5" x2="156.43" y2="1080.1" stroke="#eef0f0" stroke-width="1.5"/>
<line x1="213.08" y1="874.5" x2="213.08" y2="1080.1" stroke="#eef0f0" stroke-width="1.5"/>
<line x1="36.6" y1="874.5" x2="36.6" y2="1080.75" stroke="#c2c2c2" stroke-width="1.3"/>
<line x1="35.95" y1="1080.1" x2="219.6" y2="1080.1" stroke="#c2c2c2" stroke-width="1.3"/>
<line x1="32.3" y1="1074.3" x2="36.6" y2="1074.3" stroke="#c2c2c2" stroke-width="1.2"/>
<text transform="translate(30.1 1077.5) scale(0.87 1)" text-anchor="end" fill="#8f8f8f" font-size="9.4">0</text>
<line x1="32.3" y1="1050.11" x2="36.6" y2="1050.11" stroke="#c2c2c2" stroke-width="1.2"/>
<text transform="translate(30.1 1053.31) scale(0.87 1)" text-anchor="end" fill="#8f8f8f" font-size="9.4">2</text>
<line x1="32.3" y1="1025.92" x2="36.6" y2="1025.92" stroke="#c2c2c2" stroke-width="1.2"/>
<text transform="translate(30.1 1029.12) scale(0.87 1)" text-anchor="end" fill="#8f8f8f" font-size="9.4">4</text>
<line x1="32.3" y1="1001.74" x2="36.6" y2="1001.74" stroke="#c2c2c2" stroke-width="1.2"/>
<text transform="translate(30.1 1004.94) scale(0.87 1)" text-anchor="end" fill="#8f8f8f" font-size="9.4">6</text>
<line x1="32.3" y1="977.55" x2="36.6" y2="977.55" stroke="#c2c2c2" stroke-width="1.2"/>
<text transform="translate(30.1 980.75) scale(0.87 1)" text-anchor="end" fill="#8f8f8f" font-size="9.4">8</text>
<line x1="32.3" y1="953.36" x2="36.6" y2="953.36" stroke="#c2c2c2" stroke-width="1.2"/>
<text transform="translate(30.1 956.56) scale(0.87 1)" text-anchor="end" fill="#8f8f8f" font-size="9.4">10</text>
<line x1="32.3" y1="929.17" x2="36.6" y2="929.17" stroke="#c2c2c2" stroke-width="1.2"/>
<text transform="translate(30.1 932.38) scale(0.87 1)" text-anchor="end" fill="#8f8f8f" font-size="9.4">12</text>
<line x1="32.3" y1="904.99" x2="36.6" y2="904.99" stroke="#c2c2c2" stroke-width="1.2"/>
<text transform="translate(30.1 908.19) scale(0.87 1)" text-anchor="end" fill="#8f8f8f" font-size="9.4">14</text>
<line x1="32.3" y1="880.8" x2="36.6" y2="880.8" stroke="#c2c2c2" stroke-width="1.2"/>
<text transform="translate(30.1 884) scale(0.87 1)" text-anchor="end" fill="#8f8f8f" font-size="9.4">16</text>
<line x1="43.12" y1="1080.1" x2="43.12" y2="1084.4" stroke="#c2c2c2" stroke-width="1.2"/>
<text transform="translate(43.12 1090.9) scale(0.87 1)" text-anchor="middle" fill="#8f8f8f" font-size="9.4">0</text>
<line x1="54.45" y1="1080.1" x2="54.45" y2="1084.4" stroke="#c2c2c2" stroke-width="1.2"/>
<text transform="translate(54.45 1090.9) scale(0.87 1)" text-anchor="middle" fill="#8f8f8f" font-size="9.4">1</text>
<line x1="65.78" y1="1080.1" x2="65.78" y2="1084.4" stroke="#c2c2c2" stroke-width="1.2"/>
<text transform="translate(65.78 1090.9) scale(0.87 1)" text-anchor="middle" fill="#8f8f8f" font-size="9.4">2</text>
<line x1="77.11" y1="1080.1" x2="77.11" y2="1084.4" stroke="#c2c2c2" stroke-width="1.2"/>
<text transform="translate(77.11 1090.9) scale(0.87 1)" text-anchor="middle" fill="#8f8f8f" font-size="9.4">3</text>
<line x1="88.44" y1="1080.1" x2="88.44" y2="1084.4" stroke="#c2c2c2" stroke-width="1.2"/>
<text transform="translate(88.44 1090.9) scale(0.87 1)" text-anchor="middle" fill="#8f8f8f" font-size="9.4">4</text>
<line x1="111.1" y1="1080.1" x2="111.1" y2="1084.4" stroke="#c2c2c2" stroke-width="1.2"/>
<text transform="translate(111.1 1090.9) scale(0.87 1)" text-anchor="middle" fill="#8f8f8f" font-size="9.4">6</text>
<line x1="133.77" y1="1080.1" x2="133.77" y2="1084.4" stroke="#c2c2c2" stroke-width="1.2"/>
<text transform="translate(133.77 1090.9) scale(0.87 1)" text-anchor="middle" fill="#8f8f8f" font-size="9.4">8</text>
<line x1="156.43" y1="1080.1" x2="156.43" y2="1084.4" stroke="#c2c2c2" stroke-width="1.2"/>
<text transform="translate(156.43 1090.9) scale(0.87 1)" text-anchor="middle" fill="#8f8f8f" font-size="9.4">10</text>
<line x1="213.08" y1="1080.1" x2="213.08" y2="1084.4" stroke="#c2c2c2" stroke-width="1.2"/>
<text transform="translate(213.08 1090.9) scale(0.87 1)" text-anchor="middle" fill="#8f8f8f" font-size="9.4">15</text>
<text transform="translate(9.6 870.1)" fill="#5a5a5a" font-size="10.1">Social interaction limitations</text>
<text transform="translate(128.1 1099.9) scale(0.94 1)" text-anchor="middle" fill="#2e2e2e" font-size="8.6">Follow-up time, years</text>
<text transform="translate(16.1 977.3) rotate(-90) scale(0.94 1)" text-anchor="middle" fill="#2e2e2e" font-size="8.6">Social interaction limitations, score</text>
<path d="M43.12 947.74V971.32M40.72 947.74h4.8M40.72 971.32h4.8" stroke="#c8c8c8" stroke-width="1.2" fill="none"/>
<path d="M48.78 963.88V982.02M46.38 963.88h4.8M46.38 982.02h4.8" stroke="#c8c8c8" stroke-width="1.2" fill="none"/>
<path d="M54.45 965.82V983.96M52.05 965.82h4.8M52.05 983.96h4.8" stroke="#c8c8c8" stroke-width="1.2" fill="none"/>
<path d="M65.78 955.66V973.8M63.38 955.66h4.8M63.38 973.8h4.8" stroke="#c8c8c8" stroke-width="1.2" fill="none"/>
<path d="M77.11 957.63V976.67M74.71 957.63h4.8M74.71 976.67h4.8" stroke="#c8c8c8" stroke-width="1.2" fill="none"/>
<path d="M88.44 964.07V984.02M86.04 964.07h4.8M86.04 984.02h4.8" stroke="#c8c8c8" stroke-width="1.2" fill="none"/>
<path d="M111.1 961.01V983.69M108.7 961.01h4.8M108.7 983.69h4.8" stroke="#c8c8c8" stroke-width="1.2" fill="none"/>
<path d="M133.77 960.62V986.02M131.37 960.62h4.8M131.37 986.02h4.8" stroke="#c8c8c8" stroke-width="1.2" fill="none"/>
<path d="M156.43 957.44V985.56M154.03 957.44h4.8M154.03 985.56h4.8" stroke="#c8c8c8" stroke-width="1.2" fill="none"/>
<path d="M213.08 952.82V987.29M210.68 952.82h4.8M210.68 987.29h4.8" stroke="#c8c8c8" stroke-width="1.2" fill="none"/>
<path d="M43.12 954.87V978.46M40.72 954.87h4.8M40.72 978.46h4.8" stroke="#c8c8c8" stroke-width="1.2" fill="none"/>
<path d="M48.78 967.27V985.41M46.38 967.27h4.8M46.38 985.41h4.8" stroke="#c8c8c8" stroke-width="1.2" fill="none"/>
<path d="M54.45 969.08V987.22M52.05 969.08h4.8M52.05 987.22h4.8" stroke="#c8c8c8" stroke-width="1.2" fill="none"/>
<path d="M65.78 962.92V981.06M63.38 962.92h4.8M63.38 981.06h4.8" stroke="#c8c8c8" stroke-width="1.2" fill="none"/>
<path d="M77.11 960.29V979.33M74.71 960.29h4.8M74.71 979.33h4.8" stroke="#c8c8c8" stroke-width="1.2" fill="none"/>
<path d="M88.44 964.07V984.02M86.04 964.07h4.8M86.04 984.02h4.8" stroke="#c8c8c8" stroke-width="1.2" fill="none"/>
<path d="M111.1 961.62V984.29M108.7 961.62h4.8M108.7 984.29h4.8" stroke="#c8c8c8" stroke-width="1.2" fill="none"/>
<path d="M133.77 961.22V986.62M131.37 961.22h4.8M131.37 986.62h4.8" stroke="#c8c8c8" stroke-width="1.2" fill="none"/>
<path d="M156.43 958.05V986.17M154.03 958.05h4.8M154.03 986.17h4.8" stroke="#c8c8c8" stroke-width="1.2" fill="none"/>
<path d="M213.08 947.01V981.48M210.68 947.01h4.8M210.68 981.48h4.8" stroke="#c8c8c8" stroke-width="1.2" fill="none"/>
<path d="M43.12 889.33V906.62M40.72 889.33h4.8M40.72 906.62h4.8" stroke="#c8c8c8" stroke-width="1.2" fill="none"/>
<path d="M48.78 1000.77V1014.07M46.38 1000.77h4.8M46.38 1014.07h4.8" stroke="#c8c8c8" stroke-width="1.2" fill="none"/>
<path d="M54.45 1002.95V1016.25M52.05 1002.95h4.8M52.05 1016.25h4.8" stroke="#c8c8c8" stroke-width="1.2" fill="none"/>
<path d="M65.78 994.6V1007.91M63.38 994.6h4.8M63.38 1007.91h4.8" stroke="#c8c8c8" stroke-width="1.2" fill="none"/>
<path d="M77.11 994.51V1008.48M74.71 994.51h4.8M74.71 1008.48h4.8" stroke="#c8c8c8" stroke-width="1.2" fill="none"/>
<path d="M88.44 984.38V999.02M86.04 984.38h4.8M86.04 999.02h4.8" stroke="#c8c8c8" stroke-width="1.2" fill="none"/>
<path d="M111.1 974.56V991.19M108.7 974.56h4.8M108.7 991.19h4.8" stroke="#c8c8c8" stroke-width="1.2" fill="none"/>
<path d="M133.77 969.21V987.83M131.37 969.21h4.8M131.37 987.83h4.8" stroke="#c8c8c8" stroke-width="1.2" fill="none"/>
<path d="M156.43 963.13V983.75M154.03 963.13h4.8M154.03 983.75h4.8" stroke="#c8c8c8" stroke-width="1.2" fill="none"/>
<path d="M213.08 950.04V975.31M210.68 950.04h4.8M210.68 975.31h4.8" stroke="#c8c8c8" stroke-width="1.2" fill="none"/>
<path d="M43.12 904.81V922.1M40.72 904.81h4.8M40.72 922.1h4.8" stroke="#c8c8c8" stroke-width="1.2" fill="none"/>
<path d="M48.78 993.88V1007.18M46.38 993.88h4.8M46.38 1007.18h4.8" stroke="#c8c8c8" stroke-width="1.2" fill="none"/>
<path d="M54.45 997.14V1010.44M52.05 997.14h4.8M52.05 1010.44h4.8" stroke="#c8c8c8" stroke-width="1.2" fill="none"/>
<path d="M65.78 987.35V1000.65M63.38 987.35h4.8M63.38 1000.65h4.8" stroke="#c8c8c8" stroke-width="1.2" fill="none"/>
<path d="M77.11 973.83V987.8M74.71 973.83h4.8M74.71 987.8h4.8" stroke="#c8c8c8" stroke-width="1.2" fill="none"/>
<path d="M88.44 975.92V990.55M86.04 975.92h4.8M86.04 990.55h4.8" stroke="#c8c8c8" stroke-width="1.2" fill="none"/>
<path d="M111.1 965.73V982.36M108.7 965.73h4.8M108.7 982.36h4.8" stroke="#c8c8c8" stroke-width="1.2" fill="none"/>
<path d="M133.77 963.64V982.27M131.37 963.64h4.8M131.37 982.27h4.8" stroke="#c8c8c8" stroke-width="1.2" fill="none"/>
<path d="M156.43 960.23V980.85M154.03 960.23h4.8M154.03 980.85h4.8" stroke="#c8c8c8" stroke-width="1.2" fill="none"/>
<path d="M213.08 948.34V973.62M210.68 948.34h4.8M210.68 973.62h4.8" stroke="#c8c8c8" stroke-width="1.2" fill="none"/>
<polyline points="43.12,959.53 48.78,972.95 54.45,974.89 65.78,964.73 77.11,967.15 88.44,974.04 111.1,972.35 133.77,973.32 156.43,971.5 213.08,970.05" fill="none" stroke="#b4b4b4" stroke-width="1.4"/>
<circle cx="43.12" cy="959.53" r="2.4" fill="#ffffff" stroke="#b4b4b4" stroke-width="1.2"/>
<circle cx="48.78" cy="972.95" r="2.4" fill="#ffffff" stroke="#b4b4b4" stroke-width="1.2"/>
<circle cx="54.45" cy="974.89" r="2.4" fill="#ffffff" stroke="#b4b4b4" stroke-width="1.2"/>
<circle cx="65.78" cy="964.73" r="2.4" fill="#ffffff" stroke="#b4b4b4" stroke-width="1.2"/>
<circle cx="77.11" cy="967.15" r="2.4" fill="#ffffff" stroke="#b4b4b4" stroke-width="1.2"/>
<circle cx="88.44" cy="974.04" r="2.4" fill="#ffffff" stroke="#b4b4b4" stroke-width="1.2"/>
<circle cx="111.1" cy="972.35" r="2.4" fill="#ffffff" stroke="#b4b4b4" stroke-width="1.2"/>
<circle cx="133.77" cy="973.32" r="2.4" fill="#ffffff" stroke="#b4b4b4" stroke-width="1.2"/>
<circle cx="156.43" cy="971.5" r="2.4" fill="#ffffff" stroke="#b4b4b4" stroke-width="1.2"/>
<circle cx="213.08" cy="970.05" r="2.4" fill="#ffffff" stroke="#b4b4b4" stroke-width="1.2"/>
<polyline points="43.12,966.67 48.78,976.34 54.45,978.15 65.78,971.99 77.11,969.81 88.44,974.04 111.1,972.95 133.77,973.92 156.43,972.11 213.08,964.25" fill="none" stroke="#b8b8b8" stroke-width="1.4" stroke-dasharray="5.65 5.65"/>
<rect x="40.92" y="964.47" width="4.4" height="4.4" fill="#e0e0e0" stroke="#c4c4c4" stroke-width="1.2"/>
<rect x="46.58" y="974.14" width="4.4" height="4.4" fill="#e0e0e0" stroke="#c4c4c4" stroke-width="1.2"/>
<rect x="52.25" y="975.95" width="4.4" height="4.4" fill="#e0e0e0" stroke="#c4c4c4" stroke-width="1.2"/>
<rect x="63.58" y="969.79" width="4.4" height="4.4" fill="#e0e0e0" stroke="#c4c4c4" stroke-width="1.2"/>
<rect x="74.91" y="967.61" width="4.4" height="4.4" fill="#e0e0e0" stroke="#c4c4c4" stroke-width="1.2"/>
<rect x="86.24" y="971.84" width="4.4" height="4.4" fill="#e0e0e0" stroke="#c4c4c4" stroke-width="1.2"/>
<rect x="108.9" y="970.75" width="4.4" height="4.4" fill="#e0e0e0" stroke="#c4c4c4" stroke-width="1.2"/>
<rect x="131.57" y="971.72" width="4.4" height="4.4" fill="#e0e0e0" stroke="#c4c4c4" stroke-width="1.2"/>
<rect x="154.23" y="969.91" width="4.4" height="4.4" fill="#e0e0e0" stroke="#c4c4c4" stroke-width="1.2"/>
<rect x="210.88" y="962.05" width="4.4" height="4.4" fill="#e0e0e0" stroke="#c4c4c4" stroke-width="1.2"/>
<polyline points="43.12,897.97 48.78,1007.42 54.45,1009.6 65.78,1001.25 77.11,1001.5 88.44,991.7 111.1,982.87 133.77,978.52 156.43,973.44 213.08,962.67" fill="none" stroke="#262626" stroke-width="1.5"/>
<circle cx="43.12" cy="897.97" r="2.4" fill="#ffffff" stroke="#262626" stroke-width="1.2"/>
<circle cx="48.78" cy="1007.42" r="2.4" fill="#ffffff" stroke="#262626" stroke-width="1.2"/>
<circle cx="54.45" cy="1009.6" r="2.4" fill="#ffffff" stroke="#262626" stroke-width="1.2"/>
<circle cx="65.78" cy="1001.25" r="2.4" fill="#ffffff" stroke="#262626" stroke-width="1.2"/>
<circle cx="77.11" cy="1001.5" r="2.4" fill="#ffffff" stroke="#262626" stroke-width="1.2"/>
<circle cx="88.44" cy="991.7" r="2.4" fill="#ffffff" stroke="#262626" stroke-width="1.2"/>
<circle cx="111.1" cy="982.87" r="2.4" fill="#ffffff" stroke="#262626" stroke-width="1.2"/>
<circle cx="133.77" cy="978.52" r="2.4" fill="#ffffff" stroke="#262626" stroke-width="1.2"/>
<circle cx="156.43" cy="973.44" r="2.4" fill="#ffffff" stroke="#262626" stroke-width="1.2"/>
<circle cx="213.08" cy="962.67" r="2.4" fill="#ffffff" stroke="#262626" stroke-width="1.2"/>
<polyline points="43.12,913.45 48.78,1000.53 54.45,1003.79 65.78,994 77.11,980.82 88.44,983.23 111.1,974.04 133.77,972.95 156.43,970.54 213.08,960.98" fill="none" stroke="#262626" stroke-width="1.5" stroke-dasharray="5.65 5.65"/>
<rect x="40.92" y="911.25" width="4.4" height="4.4" fill="#a0a0a0" stroke="#262626" stroke-width="1.2"/>
<rect x="46.58" y="998.33" width="4.4" height="4.4" fill="#a0a0a0" stroke="#262626" stroke-width="1.2"/>
<rect x="52.25" y="1001.59" width="4.4" height="4.4" fill="#a0a0a0" stroke="#262626" stroke-width="1.2"/>
<rect x="63.58" y="991.8" width="4.4" height="4.4" fill="#a0a0a0" stroke="#262626" stroke-width="1.2"/>
<rect x="74.91" y="978.62" width="4.4" height="4.4" fill="#a0a0a0" stroke="#262626" stroke-width="1.2"/>
<rect x="86.24" y="981.03" width="4.4" height="4.4" fill="#a0a0a0" stroke="#262626" stroke-width="1.2"/>
<rect x="108.9" y="971.84" width="4.4" height="4.4" fill="#a0a0a0" stroke="#262626" stroke-width="1.2"/>
<rect x="131.57" y="970.75" width="4.4" height="4.4" fill="#a0a0a0" stroke="#262626" stroke-width="1.2"/>
<rect x="154.23" y="968.34" width="4.4" height="4.4" fill="#a0a0a0" stroke="#262626" stroke-width="1.2"/>
<rect x="210.88" y="958.78" width="4.4" height="4.4" fill="#a0a0a0" stroke="#262626" stroke-width="1.2"/>
<line x1="131.2" y1="1048.1" x2="158.2" y2="1048.1" stroke="#262626" stroke-width="1.5" stroke-dasharray="5.65 5.65"/>
<rect x="142.4" y="1045.9" width="4.4" height="4.4" fill="#a0a0a0" stroke="#262626" stroke-width="1.2"/>
<text transform="translate(166.5 1050.5) scale(0.905 1)" fill="#3a3a3a" font-size="6.8">Surgery; &#8805;47.8y</text>
<line x1="131.2" y1="1055.1" x2="158.2" y2="1055.1" stroke="#262626" stroke-width="1.5"/>
<circle cx="144.6" cy="1055.1" r="2.4" fill="#ffffff" stroke="#262626" stroke-width="1.2"/>
<text transform="translate(166.5 1057.5) scale(0.905 1)" fill="#3a3a3a" font-size="6.8">Surgery; &lt;47.8y</text>
<line x1="131.2" y1="1062.1" x2="158.2" y2="1062.1" stroke="#b8b8b8" stroke-width="1.4" stroke-dasharray="5.65 5.65"/>
<rect x="142.4" y="1059.9" width="4.4" height="4.4" fill="#e0e0e0" stroke="#c4c4c4" stroke-width="1.2"/>
<text transform="translate(166.5 1064.5) scale(0.905 1)" fill="#3a3a3a" font-size="6.8">Control; &#8805;47.8y</text>
<line x1="131.2" y1="1069.2" x2="158.2" y2="1069.2" stroke="#b4b4b4" stroke-width="1.4"/>
<circle cx="144.6" cy="1069.2" r="2.4" fill="#ffffff" stroke="#b4b4b4" stroke-width="1.2"/>
<text transform="translate(166.5 1071.6) scale(0.905 1)" fill="#3a3a3a" font-size="6.8">Control; &lt;47.8y</text>
<line x1="269.6" y1="1074.3" x2="452.3" y2="1074.3" stroke="#eef0f0" stroke-width="1.5"/>
<line x1="269.6" y1="1050.11" x2="452.3" y2="1050.11" stroke="#eef0f0" stroke-width="1.5"/>
<line x1="269.6" y1="1025.92" x2="452.3" y2="1025.92" stroke="#eef0f0" stroke-width="1.5"/>
<line x1="269.6" y1="1001.74" x2="452.3" y2="1001.74" stroke="#eef0f0" stroke-width="1.5"/>
<line x1="269.6" y1="977.55" x2="452.3" y2="977.55" stroke="#eef0f0" stroke-width="1.5"/>
<line x1="269.6" y1="953.36" x2="452.3" y2="953.36" stroke="#eef0f0" stroke-width="1.5"/>
<line x1="269.6" y1="929.17" x2="452.3" y2="929.17" stroke="#eef0f0" stroke-width="1.5"/>
<line x1="269.6" y1="904.99" x2="452.3" y2="904.99" stroke="#eef0f0" stroke-width="1.5"/>
<line x1="269.6" y1="880.8" x2="452.3" y2="880.8" stroke="#eef0f0" stroke-width="1.5"/>
<line x1="276.1" y1="874.5" x2="276.1" y2="1080.1" stroke="#eef0f0" stroke-width="1.5"/>
<line x1="287.42" y1="874.5" x2="287.42" y2="1080.1" stroke="#eef0f0" stroke-width="1.5"/>
<line x1="298.73" y1="874.5" x2="298.73" y2="1080.1" stroke="#eef0f0" stroke-width="1.5"/>
<line x1="310.04" y1="874.5" x2="310.04" y2="1080.1" stroke="#eef0f0" stroke-width="1.5"/>
<line x1="321.36" y1="874.5" x2="321.36" y2="1080.1" stroke="#eef0f0" stroke-width="1.5"/>
<line x1="343.98" y1="874.5" x2="343.98" y2="1080.1" stroke="#eef0f0" stroke-width="1.5"/>
<line x1="366.61" y1="874.5" x2="366.61" y2="1080.1" stroke="#eef0f0" stroke-width="1.5"/>
<line x1="389.23" y1="874.5" x2="389.23" y2="1080.1" stroke="#eef0f0" stroke-width="1.5"/>
<line x1="445.8" y1="874.5" x2="445.8" y2="1080.1" stroke="#eef0f0" stroke-width="1.5"/>
<line x1="269.6" y1="874.5" x2="269.6" y2="1080.75" stroke="#c2c2c2" stroke-width="1.3"/>
<line x1="268.95" y1="1080.1" x2="452.3" y2="1080.1" stroke="#c2c2c2" stroke-width="1.3"/>
<line x1="265.3" y1="1074.3" x2="269.6" y2="1074.3" stroke="#c2c2c2" stroke-width="1.2"/>
<text transform="translate(263.1 1077.5) scale(0.87 1)" text-anchor="end" fill="#8f8f8f" font-size="9.4">0</text>
<line x1="265.3" y1="1050.11" x2="269.6" y2="1050.11" stroke="#c2c2c2" stroke-width="1.2"/>
<text transform="translate(263.1 1053.31) scale(0.87 1)" text-anchor="end" fill="#8f8f8f" font-size="9.4">10</text>
<line x1="265.3" y1="1025.92" x2="269.6" y2="1025.92" stroke="#c2c2c2" stroke-width="1.2"/>
<text transform="translate(263.1 1029.12) scale(0.87 1)" text-anchor="end" fill="#8f8f8f" font-size="9.4">20</text>
<line x1="265.3" y1="1001.74" x2="269.6" y2="1001.74" stroke="#c2c2c2" stroke-width="1.2"/>
<text transform="translate(263.1 1004.94) scale(0.87 1)" text-anchor="end" fill="#8f8f8f" font-size="9.4">30</text>
<line x1="265.3" y1="977.55" x2="269.6" y2="977.55" stroke="#c2c2c2" stroke-width="1.2"/>
<text transform="translate(263.1 980.75) scale(0.87 1)" text-anchor="end" fill="#8f8f8f" font-size="9.4">40</text>
<line x1="265.3" y1="953.36" x2="269.6" y2="953.36" stroke="#c2c2c2" stroke-width="1.2"/>
<text transform="translate(263.1 956.56) scale(0.87 1)" text-anchor="end" fill="#8f8f8f" font-size="9.4">50</text>
<line x1="265.3" y1="929.17" x2="269.6" y2="929.17" stroke="#c2c2c2" stroke-width="1.2"/>
<text transform="translate(263.1 932.38) scale(0.87 1)" text-anchor="end" fill="#8f8f8f" font-size="9.4">60</text>
<line x1="265.3" y1="904.99" x2="269.6" y2="904.99" stroke="#c2c2c2" stroke-width="1.2"/>
<text transform="translate(263.1 908.19) scale(0.87 1)" text-anchor="end" fill="#8f8f8f" font-size="9.4">70</text>
<line x1="265.3" y1="880.8" x2="269.6" y2="880.8" stroke="#c2c2c2" stroke-width="1.2"/>
<text transform="translate(263.1 884) scale(0.87 1)" text-anchor="end" fill="#8f8f8f" font-size="9.4">80</text>
<line x1="276.1" y1="1080.1" x2="276.1" y2="1084.4" stroke="#c2c2c2" stroke-width="1.2"/>
<text transform="translate(276.1 1090.9) scale(0.87 1)" text-anchor="middle" fill="#8f8f8f" font-size="9.4">0</text>
<line x1="287.42" y1="1080.1" x2="287.42" y2="1084.4" stroke="#c2c2c2" stroke-width="1.2"/>
<text transform="translate(287.42 1090.9) scale(0.87 1)" text-anchor="middle" fill="#8f8f8f" font-size="9.4">1</text>
<line x1="298.73" y1="1080.1" x2="298.73" y2="1084.4" stroke="#c2c2c2" stroke-width="1.2"/>
<text transform="translate(298.73 1090.9) scale(0.87 1)" text-anchor="middle" fill="#8f8f8f" font-size="9.4">2</text>
<line x1="310.04" y1="1080.1" x2="310.04" y2="1084.4" stroke="#c2c2c2" stroke-width="1.2"/>
<text transform="translate(310.04 1090.9) scale(0.87 1)" text-anchor="middle" fill="#8f8f8f" font-size="9.4">3</text>
<line x1="321.36" y1="1080.1" x2="321.36" y2="1084.4" stroke="#c2c2c2" stroke-width="1.2"/>
<text transform="translate(321.36 1090.9) scale(0.87 1)" text-anchor="middle" fill="#8f8f8f" font-size="9.4">4</text>
<line x1="343.98" y1="1080.1" x2="343.98" y2="1084.4" stroke="#c2c2c2" stroke-width="1.2"/>
<text transform="translate(343.98 1090.9) scale(0.87 1)" text-anchor="middle" fill="#8f8f8f" font-size="9.4">6</text>
<line x1="366.61" y1="1080.1" x2="366.61" y2="1084.4" stroke="#c2c2c2" stroke-width="1.2"/>
<text transform="translate(366.61 1090.9) scale(0.87 1)" text-anchor="middle" fill="#8f8f8f" font-size="9.4">8</text>
<line x1="389.23" y1="1080.1" x2="389.23" y2="1084.4" stroke="#c2c2c2" stroke-width="1.2"/>
<text transform="translate(389.23 1090.9) scale(0.87 1)" text-anchor="middle" fill="#8f8f8f" font-size="9.4">10</text>
<line x1="445.8" y1="1080.1" x2="445.8" y2="1084.4" stroke="#c2c2c2" stroke-width="1.2"/>
<text transform="translate(445.8 1090.9) scale(0.87 1)" text-anchor="middle" fill="#8f8f8f" font-size="9.4">15</text>
<text transform="translate(241.9 870.1)" fill="#5a5a5a" font-size="10.1">Perceived health</text>
<text transform="translate(360.95 1099.9) scale(0.94 1)" text-anchor="middle" fill="#2e2e2e" font-size="8.6">Follow-up time, years</text>
<text transform="translate(248.8 977.3) rotate(-90) scale(0.94 1)" text-anchor="middle" fill="#2e2e2e" font-size="8.6">Perceived health, score</text>
<path d="M276.1 926.1V938.05M273.7 926.1h4.8M273.7 938.05h4.8" stroke="#c8c8c8" stroke-width="1.2" fill="none"/>
<path d="M281.76 920.23V929.42M279.36 920.23h4.8M279.36 929.42h4.8" stroke="#c8c8c8" stroke-width="1.2" fill="none"/>
<path d="M287.42 919.5V928.69M285.02 919.5h4.8M285.02 928.69h4.8" stroke="#c8c8c8" stroke-width="1.2" fill="none"/>
<path d="M298.73 924.58V933.77M296.33 924.58h4.8M296.33 933.77h4.8" stroke="#c8c8c8" stroke-width="1.2" fill="none"/>
<path d="M310.04 925.08V934.73M307.64 925.08h4.8M307.64 934.73h4.8" stroke="#c8c8c8" stroke-width="1.2" fill="none"/>
<path d="M321.36 929.92V940.04M318.96 929.92h4.8M318.96 940.04h4.8" stroke="#c8c8c8" stroke-width="1.2" fill="none"/>
<path d="M343.98 931.65V943.14M341.58 931.65h4.8M341.58 943.14h4.8" stroke="#c8c8c8" stroke-width="1.2" fill="none"/>
<path d="M366.61 934.11V946.98M364.21 934.11h4.8M364.21 946.98h4.8" stroke="#c8c8c8" stroke-width="1.2" fill="none"/>
<path d="M389.23 939.47V953.71M386.83 939.47h4.8M386.83 953.71h4.8" stroke="#c8c8c8" stroke-width="1.2" fill="none"/>
<path d="M445.8 946.81V964.27M443.4 946.81h4.8M443.4 964.27h4.8" stroke="#c8c8c8" stroke-width="1.2" fill="none"/>
<path d="M276.1 931.42V943.37M273.7 931.42h4.8M273.7 943.37h4.8" stroke="#c8c8c8" stroke-width="1.2" fill="none"/>
<path d="M281.76 922.4V931.59M279.36 922.4h4.8M279.36 931.59h4.8" stroke="#c8c8c8" stroke-width="1.2" fill="none"/>
<path d="M287.42 921.68V930.87M285.02 921.68h4.8M285.02 930.87h4.8" stroke="#c8c8c8" stroke-width="1.2" fill="none"/>
<path d="M298.73 926.76V935.95M296.33 926.76h4.8M296.33 935.95h4.8" stroke="#c8c8c8" stroke-width="1.2" fill="none"/>
<path d="M310.04 927.98V937.63M307.64 927.98h4.8M307.64 937.63h4.8" stroke="#c8c8c8" stroke-width="1.2" fill="none"/>
<path d="M321.36 931.86V941.97M318.96 931.86h4.8M318.96 941.97h4.8" stroke="#c8c8c8" stroke-width="1.2" fill="none"/>
<path d="M343.98 932.62V944.11M341.58 932.62h4.8M341.58 944.11h4.8" stroke="#c8c8c8" stroke-width="1.2" fill="none"/>
<path d="M366.61 934.11V946.98M364.21 934.11h4.8M364.21 946.98h4.8" stroke="#c8c8c8" stroke-width="1.2" fill="none"/>
<path d="M389.23 934.87V949.12M386.83 934.87h4.8M386.83 949.12h4.8" stroke="#c8c8c8" stroke-width="1.2" fill="none"/>
<path d="M445.8 940.28V957.74M443.4 940.28h4.8M443.4 957.74h4.8" stroke="#c8c8c8" stroke-width="1.2" fill="none"/>
<path d="M276.1 946.23V955.66M273.7 946.23h4.8M273.7 955.66h4.8" stroke="#c8c8c8" stroke-width="1.2" fill="none"/>
<path d="M281.76 884.67V891.93M279.36 884.67h4.8M279.36 891.93h4.8" stroke="#c8c8c8" stroke-width="1.2" fill="none"/>
<path d="M287.42 886.85V894.1M285.02 886.85h4.8M285.02 894.1h4.8" stroke="#c8c8c8" stroke-width="1.2" fill="none"/>
<path d="M298.73 897.49V904.75M296.33 897.49h4.8M296.33 904.75h4.8" stroke="#c8c8c8" stroke-width="1.2" fill="none"/>
<path d="M310.04 906.26V913.88M307.64 906.26h4.8M307.64 913.88h4.8" stroke="#c8c8c8" stroke-width="1.2" fill="none"/>
<path d="M321.36 915.03V923.01M318.96 915.03h4.8M318.96 923.01h4.8" stroke="#c8c8c8" stroke-width="1.2" fill="none"/>
<path d="M343.98 923.67V932.74M341.58 923.67h4.8M341.58 932.74h4.8" stroke="#c8c8c8" stroke-width="1.2" fill="none"/>
<path d="M366.61 929.66V939.82M364.21 929.66h4.8M364.21 939.82h4.8" stroke="#c8c8c8" stroke-width="1.2" fill="none"/>
<path d="M389.23 932.74V943.99M386.83 932.74h4.8M386.83 943.99h4.8" stroke="#c8c8c8" stroke-width="1.2" fill="none"/>
<path d="M445.8 934.38V948.16M443.4 934.38h4.8M443.4 948.16h4.8" stroke="#c8c8c8" stroke-width="1.2" fill="none"/>
<path d="M276.1 950.82V960.26M273.7 950.82h4.8M273.7 960.26h4.8" stroke="#c8c8c8" stroke-width="1.2" fill="none"/>
<path d="M281.76 886.12V893.38M279.36 886.12h4.8M279.36 893.38h4.8" stroke="#c8c8c8" stroke-width="1.2" fill="none"/>
<path d="M287.42 888.54V895.8M285.02 888.54h4.8M285.02 895.8h4.8" stroke="#c8c8c8" stroke-width="1.2" fill="none"/>
<path d="M298.73 901.84V909.1M296.33 901.84h4.8M296.33 909.1h4.8" stroke="#c8c8c8" stroke-width="1.2" fill="none"/>
<path d="M310.04 914.72V922.34M307.64 914.72h4.8M307.64 922.34h4.8" stroke="#c8c8c8" stroke-width="1.2" fill="none"/>
<path d="M321.36 915.99V923.97M318.96 915.99h4.8M318.96 923.97h4.8" stroke="#c8c8c8" stroke-width="1.2" fill="none"/>
<path d="M343.98 926.82V935.89M341.58 926.82h4.8M341.58 935.89h4.8" stroke="#c8c8c8" stroke-width="1.2" fill="none"/>
<path d="M366.61 929.9V940.06M364.21 929.9h4.8M364.21 940.06h4.8" stroke="#c8c8c8" stroke-width="1.2" fill="none"/>
<path d="M389.23 927.66V938.91M386.83 927.66h4.8M386.83 938.91h4.8" stroke="#c8c8c8" stroke-width="1.2" fill="none"/>
<path d="M445.8 930.99V944.78M443.4 930.99h4.8M443.4 944.78h4.8" stroke="#c8c8c8" stroke-width="1.2" fill="none"/>
<polyline points="276.1,932.08 281.76,924.82 287.42,924.1 298.73,929.17 310.04,929.9 321.36,934.98 343.98,937.4 366.61,940.54 389.23,946.59 445.8,955.54" fill="none" stroke="#b4b4b4" stroke-width="1.4"/>
<circle cx="276.1" cy="932.08" r="2.4" fill="#ffffff" stroke="#b4b4b4" stroke-width="1.2"/>
<circle cx="281.76" cy="924.82" r="2.4" fill="#ffffff" stroke="#b4b4b4" stroke-width="1.2"/>
<circle cx="287.42" cy="924.1" r="2.4" fill="#ffffff" stroke="#b4b4b4" stroke-width="1.2"/>
<circle cx="298.73" cy="929.17" r="2.4" fill="#ffffff" stroke="#b4b4b4" stroke-width="1.2"/>
<circle cx="310.04" cy="929.9" r="2.4" fill="#ffffff" stroke="#b4b4b4" stroke-width="1.2"/>
<circle cx="321.36" cy="934.98" r="2.4" fill="#ffffff" stroke="#b4b4b4" stroke-width="1.2"/>
<circle cx="343.98" cy="937.4" r="2.4" fill="#ffffff" stroke="#b4b4b4" stroke-width="1.2"/>
<circle cx="366.61" cy="940.54" r="2.4" fill="#ffffff" stroke="#b4b4b4" stroke-width="1.2"/>
<circle cx="389.23" cy="946.59" r="2.4" fill="#ffffff" stroke="#b4b4b4" stroke-width="1.2"/>
<circle cx="445.8" cy="955.54" r="2.4" fill="#ffffff" stroke="#b4b4b4" stroke-width="1.2"/>
<polyline points="276.1,937.4 281.76,927 287.42,926.27 298.73,931.35 310.04,932.8 321.36,936.91 343.98,938.37 366.61,940.54 389.23,941.99 445.8,949.01" fill="none" stroke="#b8b8b8" stroke-width="1.4" stroke-dasharray="5.65 5.65"/>
<rect x="273.9" y="935.2" width="4.4" height="4.4" fill="#e0e0e0" stroke="#c4c4c4" stroke-width="1.2"/>
<rect x="279.56" y="924.8" width="4.4" height="4.4" fill="#e0e0e0" stroke="#c4c4c4" stroke-width="1.2"/>
<rect x="285.22" y="924.07" width="4.4" height="4.4" fill="#e0e0e0" stroke="#c4c4c4" stroke-width="1.2"/>
<rect x="296.53" y="929.15" width="4.4" height="4.4" fill="#e0e0e0" stroke="#c4c4c4" stroke-width="1.2"/>
<rect x="307.84" y="930.6" width="4.4" height="4.4" fill="#e0e0e0" stroke="#c4c4c4" stroke-width="1.2"/>
<rect x="319.16" y="934.71" width="4.4" height="4.4" fill="#e0e0e0" stroke="#c4c4c4" stroke-width="1.2"/>
<rect x="341.78" y="936.17" width="4.4" height="4.4" fill="#e0e0e0" stroke="#c4c4c4" stroke-width="1.2"/>
<rect x="364.41" y="938.34" width="4.4" height="4.4" fill="#e0e0e0" stroke="#c4c4c4" stroke-width="1.2"/>
<rect x="387.03" y="939.79" width="4.4" height="4.4" fill="#e0e0e0" stroke="#c4c4c4" stroke-width="1.2"/>
<rect x="443.6" y="946.81" width="4.4" height="4.4" fill="#e0e0e0" stroke="#c4c4c4" stroke-width="1.2"/>
<polyline points="276.1,950.94 281.76,888.3 287.42,890.47 298.73,901.12 310.04,910.07 321.36,919.02 343.98,928.21 366.61,934.74 389.23,938.37 445.8,941.27" fill="none" stroke="#262626" stroke-width="1.5"/>
<circle cx="276.1" cy="950.94" r="2.4" fill="#ffffff" stroke="#262626" stroke-width="1.2"/>
<circle cx="281.76" cy="888.3" r="2.4" fill="#ffffff" stroke="#262626" stroke-width="1.2"/>
<circle cx="287.42" cy="890.47" r="2.4" fill="#ffffff" stroke="#262626" stroke-width="1.2"/>
<circle cx="298.73" cy="901.12" r="2.4" fill="#ffffff" stroke="#262626" stroke-width="1.2"/>
<circle cx="310.04" cy="910.07" r="2.4" fill="#ffffff" stroke="#262626" stroke-width="1.2"/>
<circle cx="321.36" cy="919.02" r="2.4" fill="#ffffff" stroke="#262626" stroke-width="1.2"/>
<circle cx="343.98" cy="928.21" r="2.4" fill="#ffffff" stroke="#262626" stroke-width="1.2"/>
<circle cx="366.61" cy="934.74" r="2.4" fill="#ffffff" stroke="#262626" stroke-width="1.2"/>
<circle cx="389.23" cy="938.37" r="2.4" fill="#ffffff" stroke="#262626" stroke-width="1.2"/>
<circle cx="445.8" cy="941.27" r="2.4" fill="#ffffff" stroke="#262626" stroke-width="1.2"/>
<polyline points="276.1,955.54 281.76,889.75 287.42,892.17 298.73,905.47 310.04,918.53 321.36,919.98 343.98,931.35 366.61,934.98 389.23,933.29 445.8,937.88" fill="none" stroke="#262626" stroke-width="1.5" stroke-dasharray="5.65 5.65"/>
<rect x="273.9" y="953.34" width="4.4" height="4.4" fill="#a0a0a0" stroke="#262626" stroke-width="1.2"/>
<rect x="279.56" y="887.55" width="4.4" height="4.4" fill="#a0a0a0" stroke="#262626" stroke-width="1.2"/>
<rect x="285.22" y="889.97" width="4.4" height="4.4" fill="#a0a0a0" stroke="#262626" stroke-width="1.2"/>
<rect x="296.53" y="903.27" width="4.4" height="4.4" fill="#a0a0a0" stroke="#262626" stroke-width="1.2"/>
<rect x="307.84" y="916.33" width="4.4" height="4.4" fill="#a0a0a0" stroke="#262626" stroke-width="1.2"/>
<rect x="319.16" y="917.78" width="4.4" height="4.4" fill="#a0a0a0" stroke="#262626" stroke-width="1.2"/>
<rect x="341.78" y="929.15" width="4.4" height="4.4" fill="#a0a0a0" stroke="#262626" stroke-width="1.2"/>
<rect x="364.41" y="932.78" width="4.4" height="4.4" fill="#a0a0a0" stroke="#262626" stroke-width="1.2"/>
<rect x="387.03" y="931.09" width="4.4" height="4.4" fill="#a0a0a0" stroke="#262626" stroke-width="1.2"/>
<rect x="443.6" y="935.68" width="4.4" height="4.4" fill="#a0a0a0" stroke="#262626" stroke-width="1.2"/>
<line x1="363.9" y1="1048.1" x2="390.9" y2="1048.1" stroke="#262626" stroke-width="1.5" stroke-dasharray="5.65 5.65"/>
<rect x="375.1" y="1045.9" width="4.4" height="4.4" fill="#a0a0a0" stroke="#262626" stroke-width="1.2"/>
<text transform="translate(399.2 1050.5) scale(0.905 1)" fill="#3a3a3a" font-size="6.8">Surgery; &#8805;47.8y</text>
<line x1="363.9" y1="1055.1" x2="390.9" y2="1055.1" stroke="#262626" stroke-width="1.5"/>
<circle cx="377.3" cy="1055.1" r="2.4" fill="#ffffff" stroke="#262626" stroke-width="1.2"/>
<text transform="translate(399.2 1057.5) scale(0.905 1)" fill="#3a3a3a" font-size="6.8">Surgery; &lt;47.8y</text>
<line x1="363.9" y1="1062.1" x2="390.9" y2="1062.1" stroke="#b8b8b8" stroke-width="1.4" stroke-dasharray="5.65 5.65"/>
<rect x="375.1" y="1059.9" width="4.4" height="4.4" fill="#e0e0e0" stroke="#c4c4c4" stroke-width="1.2"/>
<text transform="translate(399.2 1064.5) scale(0.905 1)" fill="#3a3a3a" font-size="6.8">Control; &#8805;47.8y</text>
<line x1="363.9" y1="1069.2" x2="390.9" y2="1069.2" stroke="#b4b4b4" stroke-width="1.4"/>
<circle cx="377.3" cy="1069.2" r="2.4" fill="#ffffff" stroke="#b4b4b4" stroke-width="1.2"/>
<text transform="translate(399.2 1071.6) scale(0.905 1)" fill="#3a3a3a" font-size="6.8">Control; &lt;47.8y</text>
<line x1="504.7" y1="1074.3" x2="685" y2="1074.3" stroke="#eef0f0" stroke-width="1.5"/>
<line x1="504.7" y1="1046.66" x2="685" y2="1046.66" stroke="#eef0f0" stroke-width="1.5"/>
<line x1="504.7" y1="1019.01" x2="685" y2="1019.01" stroke="#eef0f0" stroke-width="1.5"/>
<line x1="504.7" y1="991.37" x2="685" y2="991.37" stroke="#eef0f0" stroke-width="1.5"/>
<line x1="504.7" y1="963.73" x2="685" y2="963.73" stroke="#eef0f0" stroke-width="1.5"/>
<line x1="504.7" y1="936.09" x2="685" y2="936.09" stroke="#eef0f0" stroke-width="1.5"/>
<line x1="504.7" y1="908.44" x2="685" y2="908.44" stroke="#eef0f0" stroke-width="1.5"/>
<line x1="504.7" y1="880.8" x2="685" y2="880.8" stroke="#eef0f0" stroke-width="1.5"/>
<line x1="511.12" y1="874.5" x2="511.12" y2="1080.1" stroke="#eef0f0" stroke-width="1.5"/>
<line x1="522.28" y1="874.5" x2="522.28" y2="1080.1" stroke="#eef0f0" stroke-width="1.5"/>
<line x1="533.45" y1="874.5" x2="533.45" y2="1080.1" stroke="#eef0f0" stroke-width="1.5"/>
<line x1="544.61" y1="874.5" x2="544.61" y2="1080.1" stroke="#eef0f0" stroke-width="1.5"/>
<line x1="555.78" y1="874.5" x2="555.78" y2="1080.1" stroke="#eef0f0" stroke-width="1.5"/>
<line x1="578.1" y1="874.5" x2="578.1" y2="1080.1" stroke="#eef0f0" stroke-width="1.5"/>
<line x1="600.43" y1="874.5" x2="600.43" y2="1080.1" stroke="#eef0f0" stroke-width="1.5"/>
<line x1="622.76" y1="874.5" x2="622.76" y2="1080.1" stroke="#eef0f0" stroke-width="1.5"/>
<line x1="678.58" y1="874.5" x2="678.58" y2="1080.1" stroke="#eef0f0" stroke-width="1.5"/>
<line x1="504.7" y1="874.5" x2="504.7" y2="1080.75" stroke="#c2c2c2" stroke-width="1.3"/>
<line x1="504.05" y1="1080.1" x2="685" y2="1080.1" stroke="#c2c2c2" stroke-width="1.3"/>
<line x1="500.4" y1="1074.3" x2="504.7" y2="1074.3" stroke="#c2c2c2" stroke-width="1.2"/>
<text transform="translate(498.2 1077.5) scale(0.87 1)" text-anchor="end" fill="#8f8f8f" font-size="9.4">0.0</text>
<line x1="500.4" y1="1046.66" x2="504.7" y2="1046.66" stroke="#c2c2c2" stroke-width="1.2"/>
<text transform="translate(498.2 1049.86) scale(0.87 1)" text-anchor="end" fill="#8f8f8f" font-size="9.4">0.5</text>
<line x1="500.4" y1="1019.01" x2="504.7" y2="1019.01" stroke="#c2c2c2" stroke-width="1.2"/>
<text transform="translate(498.2 1022.21) scale(0.87 1)" text-anchor="end" fill="#8f8f8f" font-size="9.4">1.0</text>
<line x1="500.4" y1="991.37" x2="504.7" y2="991.37" stroke="#c2c2c2" stroke-width="1.2"/>
<text transform="translate(498.2 994.57) scale(0.87 1)" text-anchor="end" fill="#8f8f8f" font-size="9.4">1.5</text>
<line x1="500.4" y1="963.73" x2="504.7" y2="963.73" stroke="#c2c2c2" stroke-width="1.2"/>
<text transform="translate(498.2 966.93) scale(0.87 1)" text-anchor="end" fill="#8f8f8f" font-size="9.4">2.0</text>
<line x1="500.4" y1="936.09" x2="504.7" y2="936.09" stroke="#c2c2c2" stroke-width="1.2"/>
<text transform="translate(498.2 939.29) scale(0.87 1)" text-anchor="end" fill="#8f8f8f" font-size="9.4">2.5</text>
<line x1="500.4" y1="908.44" x2="504.7" y2="908.44" stroke="#c2c2c2" stroke-width="1.2"/>
<text transform="translate(498.2 911.64) scale(0.87 1)" text-anchor="end" fill="#8f8f8f" font-size="9.4">3.0</text>
<line x1="500.4" y1="880.8" x2="504.7" y2="880.8" stroke="#c2c2c2" stroke-width="1.2"/>
<text transform="translate(498.2 884) scale(0.87 1)" text-anchor="end" fill="#8f8f8f" font-size="9.4">3.5</text>
<line x1="511.12" y1="1080.1" x2="511.12" y2="1084.4" stroke="#c2c2c2" stroke-width="1.2"/>
<text transform="translate(511.12 1090.9) scale(0.87 1)" text-anchor="middle" fill="#8f8f8f" font-size="9.4">0</text>
<line x1="522.28" y1="1080.1" x2="522.28" y2="1084.4" stroke="#c2c2c2" stroke-width="1.2"/>
<text transform="translate(522.28 1090.9) scale(0.87 1)" text-anchor="middle" fill="#8f8f8f" font-size="9.4">1</text>
<line x1="533.45" y1="1080.1" x2="533.45" y2="1084.4" stroke="#c2c2c2" stroke-width="1.2"/>
<text transform="translate(533.45 1090.9) scale(0.87 1)" text-anchor="middle" fill="#8f8f8f" font-size="9.4">2</text>
<line x1="544.61" y1="1080.1" x2="544.61" y2="1084.4" stroke="#c2c2c2" stroke-width="1.2"/>
<text transform="translate(544.61 1090.9) scale(0.87 1)" text-anchor="middle" fill="#8f8f8f" font-size="9.4">3</text>
<line x1="555.78" y1="1080.1" x2="555.78" y2="1084.4" stroke="#c2c2c2" stroke-width="1.2"/>
<text transform="translate(555.78 1090.9) scale(0.87 1)" text-anchor="middle" fill="#8f8f8f" font-size="9.4">4</text>
<line x1="578.1" y1="1080.1" x2="578.1" y2="1084.4" stroke="#c2c2c2" stroke-width="1.2"/>
<text transform="translate(578.1 1090.9) scale(0.87 1)" text-anchor="middle" fill="#8f8f8f" font-size="9.4">6</text>
<line x1="600.43" y1="1080.1" x2="600.43" y2="1084.4" stroke="#c2c2c2" stroke-width="1.2"/>
<text transform="translate(600.43 1090.9) scale(0.87 1)" text-anchor="middle" fill="#8f8f8f" font-size="9.4">8</text>
<line x1="622.76" y1="1080.1" x2="622.76" y2="1084.4" stroke="#c2c2c2" stroke-width="1.2"/>
<text transform="translate(622.76 1090.9) scale(0.87 1)" text-anchor="middle" fill="#8f8f8f" font-size="9.4">10</text>
<line x1="678.58" y1="1080.1" x2="678.58" y2="1084.4" stroke="#c2c2c2" stroke-width="1.2"/>
<text transform="translate(678.58 1090.9) scale(0.87 1)" text-anchor="middle" fill="#8f8f8f" font-size="9.4">15</text>
<text transform="translate(475 870.1)" fill="#5a5a5a" font-size="10.1">Overall mood</text>
<text transform="translate(594.85 1099.9) scale(0.94 1)" text-anchor="middle" fill="#2e2e2e" font-size="8.6">Follow-up time, years</text>
<text transform="translate(481.5 977.3) rotate(-90) scale(0.94 1)" text-anchor="middle" fill="#2e2e2e" font-size="8.6">Overall mood, score</text>
<path d="M511.12 904.46V910.21M508.72 904.46h4.8M508.72 910.21h4.8" stroke="#c8c8c8" stroke-width="1.2" fill="none"/>
<path d="M516.7 905.13V909.55M514.3 905.13h4.8M514.3 909.55h4.8" stroke="#c8c8c8" stroke-width="1.2" fill="none"/>
<path d="M522.28 905.13V909.55M519.88 905.13h4.8M519.88 909.55h4.8" stroke="#c8c8c8" stroke-width="1.2" fill="none"/>
<path d="M533.45 906.23V910.65M531.05 906.23h4.8M531.05 910.65h4.8" stroke="#c8c8c8" stroke-width="1.2" fill="none"/>
<path d="M544.61 906.12V910.76M542.21 906.12h4.8M542.21 910.76h4.8" stroke="#c8c8c8" stroke-width="1.2" fill="none"/>
<path d="M555.78 906.56V911.43M553.38 906.56h4.8M553.38 911.43h4.8" stroke="#c8c8c8" stroke-width="1.2" fill="none"/>
<path d="M578.1 905.68V911.21M575.7 905.68h4.8M575.7 911.21h4.8" stroke="#c8c8c8" stroke-width="1.2" fill="none"/>
<path d="M600.43 904.79V910.99M598.03 904.79h4.8M598.03 910.99h4.8" stroke="#c8c8c8" stroke-width="1.2" fill="none"/>
<path d="M622.76 904.46V911.32M620.36 904.46h4.8M620.36 911.32h4.8" stroke="#c8c8c8" stroke-width="1.2" fill="none"/>
<path d="M678.58 903.14V911.54M676.18 903.14h4.8M676.18 911.54h4.8" stroke="#c8c8c8" stroke-width="1.2" fill="none"/>
<path d="M511.12 903.36V909.11M508.72 903.36h4.8M508.72 909.11h4.8" stroke="#c8c8c8" stroke-width="1.2" fill="none"/>
<path d="M516.7 902.36V906.78M514.3 902.36h4.8M514.3 906.78h4.8" stroke="#c8c8c8" stroke-width="1.2" fill="none"/>
<path d="M522.28 902.36V906.78M519.88 902.36h4.8M519.88 906.78h4.8" stroke="#c8c8c8" stroke-width="1.2" fill="none"/>
<path d="M533.45 904.02V908.44M531.05 904.02h4.8M531.05 908.44h4.8" stroke="#c8c8c8" stroke-width="1.2" fill="none"/>
<path d="M544.61 904.46V909.11M542.21 904.46h4.8M542.21 909.11h4.8" stroke="#c8c8c8" stroke-width="1.2" fill="none"/>
<path d="M555.78 904.35V909.22M553.38 904.35h4.8M553.38 909.22h4.8" stroke="#c8c8c8" stroke-width="1.2" fill="none"/>
<path d="M578.1 903.47V909M575.7 903.47h4.8M575.7 909h4.8" stroke="#c8c8c8" stroke-width="1.2" fill="none"/>
<path d="M600.43 902.03V908.22M598.03 902.03h4.8M598.03 908.22h4.8" stroke="#c8c8c8" stroke-width="1.2" fill="none"/>
<path d="M622.76 900.04V906.89M620.36 900.04h4.8M620.36 906.89h4.8" stroke="#c8c8c8" stroke-width="1.2" fill="none"/>
<path d="M678.58 898.71V907.12M676.18 898.71h4.8M676.18 907.12h4.8" stroke="#c8c8c8" stroke-width="1.2" fill="none"/>
<path d="M511.12 915.13V919.44M508.72 915.13h4.8M508.72 919.44h4.8" stroke="#c8c8c8" stroke-width="1.2" fill="none"/>
<path d="M516.7 892.96V896.28M514.3 892.96h4.8M514.3 896.28h4.8" stroke="#c8c8c8" stroke-width="1.2" fill="none"/>
<path d="M522.28 894.62V897.94M519.88 894.62h4.8M519.88 897.94h4.8" stroke="#c8c8c8" stroke-width="1.2" fill="none"/>
<path d="M533.45 900.15V903.47M531.05 900.15h4.8M531.05 903.47h4.8" stroke="#c8c8c8" stroke-width="1.2" fill="none"/>
<path d="M544.61 901.17V904.66M542.21 901.17h4.8M542.21 904.66h4.8" stroke="#c8c8c8" stroke-width="1.2" fill="none"/>
<path d="M555.78 903.3V906.95M553.38 903.3h4.8M553.38 906.95h4.8" stroke="#c8c8c8" stroke-width="1.2" fill="none"/>
<path d="M578.1 906.92V911.07M575.7 906.92h4.8M575.7 911.07h4.8" stroke="#c8c8c8" stroke-width="1.2" fill="none"/>
<path d="M600.43 906.67V911.32M598.03 906.67h4.8M598.03 911.32h4.8" stroke="#c8c8c8" stroke-width="1.2" fill="none"/>
<path d="M622.76 906.98V912.12M620.36 906.98h4.8M620.36 912.12h4.8" stroke="#c8c8c8" stroke-width="1.2" fill="none"/>
<path d="M678.58 905.29V911.59M676.18 905.29h4.8M676.18 911.59h4.8" stroke="#c8c8c8" stroke-width="1.2" fill="none"/>
<path d="M511.12 911.26V915.57M508.72 911.26h4.8M508.72 915.57h4.8" stroke="#c8c8c8" stroke-width="1.2" fill="none"/>
<path d="M516.7 890.75V894.07M514.3 890.75h4.8M514.3 894.07h4.8" stroke="#c8c8c8" stroke-width="1.2" fill="none"/>
<path d="M522.28 892.41V895.73M519.88 892.41h4.8M519.88 895.73h4.8" stroke="#c8c8c8" stroke-width="1.2" fill="none"/>
<path d="M533.45 897.39V900.7M531.05 897.39h4.8M531.05 900.7h4.8" stroke="#c8c8c8" stroke-width="1.2" fill="none"/>
<path d="M544.61 899.51V903M542.21 899.51h4.8M542.21 903h4.8" stroke="#c8c8c8" stroke-width="1.2" fill="none"/>
<path d="M555.78 899.43V903.08M553.38 899.43h4.8M553.38 903.08h4.8" stroke="#c8c8c8" stroke-width="1.2" fill="none"/>
<path d="M578.1 901.39V905.54M575.7 901.39h4.8M575.7 905.54h4.8" stroke="#c8c8c8" stroke-width="1.2" fill="none"/>
<path d="M600.43 899.49V904.13M598.03 899.49h4.8M598.03 904.13h4.8" stroke="#c8c8c8" stroke-width="1.2" fill="none"/>
<path d="M622.76 899.79V904.93M620.36 899.79h4.8M620.36 904.93h4.8" stroke="#c8c8c8" stroke-width="1.2" fill="none"/>
<path d="M678.58 898.66V904.96M676.18 898.66h4.8M676.18 904.96h4.8" stroke="#c8c8c8" stroke-width="1.2" fill="none"/>
<polyline points="511.12,907.34 516.7,907.34 522.28,907.34 533.45,908.44 544.61,908.44 555.78,909 578.1,908.44 600.43,907.89 622.76,907.89 678.58,907.34" fill="none" stroke="#b4b4b4" stroke-width="1.4"/>
<circle cx="511.12" cy="907.34" r="2.4" fill="#ffffff" stroke="#b4b4b4" stroke-width="1.2"/>
<circle cx="516.7" cy="907.34" r="2.4" fill="#ffffff" stroke="#b4b4b4" stroke-width="1.2"/>
<circle cx="522.28" cy="907.34" r="2.4" fill="#ffffff" stroke="#b4b4b4" stroke-width="1.2"/>
<circle cx="533.45" cy="908.44" r="2.4" fill="#ffffff" stroke="#b4b4b4" stroke-width="1.2"/>
<circle cx="544.61" cy="908.44" r="2.4" fill="#ffffff" stroke="#b4b4b4" stroke-width="1.2"/>
<circle cx="555.78" cy="909" r="2.4" fill="#ffffff" stroke="#b4b4b4" stroke-width="1.2"/>
<circle cx="578.1" cy="908.44" r="2.4" fill="#ffffff" stroke="#b4b4b4" stroke-width="1.2"/>
<circle cx="600.43" cy="907.89" r="2.4" fill="#ffffff" stroke="#b4b4b4" stroke-width="1.2"/>
<circle cx="622.76" cy="907.89" r="2.4" fill="#ffffff" stroke="#b4b4b4" stroke-width="1.2"/>
<circle cx="678.58" cy="907.34" r="2.4" fill="#ffffff" stroke="#b4b4b4" stroke-width="1.2"/>
<polyline points="511.12,906.23 516.7,904.57 522.28,904.57 533.45,906.23 544.61,906.78 555.78,906.78 578.1,906.23 600.43,905.13 622.76,903.47 678.58,902.91" fill="none" stroke="#b8b8b8" stroke-width="1.4" stroke-dasharray="5.65 5.65"/>
<rect x="508.92" y="904.03" width="4.4" height="4.4" fill="#e0e0e0" stroke="#c4c4c4" stroke-width="1.2"/>
<rect x="514.5" y="902.37" width="4.4" height="4.4" fill="#e0e0e0" stroke="#c4c4c4" stroke-width="1.2"/>
<rect x="520.08" y="902.37" width="4.4" height="4.4" fill="#e0e0e0" stroke="#c4c4c4" stroke-width="1.2"/>
<rect x="531.25" y="904.03" width="4.4" height="4.4" fill="#e0e0e0" stroke="#c4c4c4" stroke-width="1.2"/>
<rect x="542.41" y="904.58" width="4.4" height="4.4" fill="#e0e0e0" stroke="#c4c4c4" stroke-width="1.2"/>
<rect x="553.58" y="904.58" width="4.4" height="4.4" fill="#e0e0e0" stroke="#c4c4c4" stroke-width="1.2"/>
<rect x="575.9" y="904.03" width="4.4" height="4.4" fill="#e0e0e0" stroke="#c4c4c4" stroke-width="1.2"/>
<rect x="598.23" y="902.93" width="4.4" height="4.4" fill="#e0e0e0" stroke="#c4c4c4" stroke-width="1.2"/>
<rect x="620.56" y="901.27" width="4.4" height="4.4" fill="#e0e0e0" stroke="#c4c4c4" stroke-width="1.2"/>
<rect x="676.38" y="900.71" width="4.4" height="4.4" fill="#e0e0e0" stroke="#c4c4c4" stroke-width="1.2"/>
<polyline points="511.12,917.29 516.7,894.62 522.28,896.28 533.45,901.81 544.61,902.91 555.78,905.13 578.1,909 600.43,909 622.76,909.55 678.58,908.44" fill="none" stroke="#262626" stroke-width="1.5"/>
<circle cx="511.12" cy="917.29" r="2.4" fill="#ffffff" stroke="#262626" stroke-width="1.2"/>
<circle cx="516.7" cy="894.62" r="2.4" fill="#ffffff" stroke="#262626" stroke-width="1.2"/>
<circle cx="522.28" cy="896.28" r="2.4" fill="#ffffff" stroke="#262626" stroke-width="1.2"/>
<circle cx="533.45" cy="901.81" r="2.4" fill="#ffffff" stroke="#262626" stroke-width="1.2"/>
<circle cx="544.61" cy="902.91" r="2.4" fill="#ffffff" stroke="#262626" stroke-width="1.2"/>
<circle cx="555.78" cy="905.13" r="2.4" fill="#ffffff" stroke="#262626" stroke-width="1.2"/>
<circle cx="578.1" cy="909" r="2.4" fill="#ffffff" stroke="#262626" stroke-width="1.2"/>
<circle cx="600.43" cy="909" r="2.4" fill="#ffffff" stroke="#262626" stroke-width="1.2"/>
<circle cx="622.76" cy="909.55" r="2.4" fill="#ffffff" stroke="#262626" stroke-width="1.2"/>
<circle cx="678.58" cy="908.44" r="2.4" fill="#ffffff" stroke="#262626" stroke-width="1.2"/>
<polyline points="511.12,913.42 516.7,892.41 522.28,894.07 533.45,899.04 544.61,901.26 555.78,901.26 578.1,903.47 600.43,901.81 622.76,902.36 678.58,901.81" fill="none" stroke="#262626" stroke-width="1.5" stroke-dasharray="5.65 5.65"/>
<rect x="508.92" y="911.22" width="4.4" height="4.4" fill="#a0a0a0" stroke="#262626" stroke-width="1.2"/>
<rect x="514.5" y="890.21" width="4.4" height="4.4" fill="#a0a0a0" stroke="#262626" stroke-width="1.2"/>
<rect x="520.08" y="891.87" width="4.4" height="4.4" fill="#a0a0a0" stroke="#262626" stroke-width="1.2"/>
<rect x="531.25" y="896.84" width="4.4" height="4.4" fill="#a0a0a0" stroke="#262626" stroke-width="1.2"/>
<rect x="542.41" y="899.06" width="4.4" height="4.4" fill="#a0a0a0" stroke="#262626" stroke-width="1.2"/>
<rect x="553.58" y="899.06" width="4.4" height="4.4" fill="#a0a0a0" stroke="#262626" stroke-width="1.2"/>
<rect x="575.9" y="901.27" width="4.4" height="4.4" fill="#a0a0a0" stroke="#262626" stroke-width="1.2"/>
<rect x="598.23" y="899.61" width="4.4" height="4.4" fill="#a0a0a0" stroke="#262626" stroke-width="1.2"/>
<rect x="620.56" y="900.16" width="4.4" height="4.4" fill="#a0a0a0" stroke="#262626" stroke-width="1.2"/>
<rect x="676.38" y="899.61" width="4.4" height="4.4" fill="#a0a0a0" stroke="#262626" stroke-width="1.2"/>
<line x1="596.6" y1="1048.1" x2="623.6" y2="1048.1" stroke="#262626" stroke-width="1.5" stroke-dasharray="5.65 5.65"/>
<rect x="607.8" y="1045.9" width="4.4" height="4.4" fill="#a0a0a0" stroke="#262626" stroke-width="1.2"/>
<text transform="translate(631.9 1050.5) scale(0.905 1)" fill="#3a3a3a" font-size="6.8">Surgery; &#8805;47.8y</text>
<line x1="596.6" y1="1055.1" x2="623.6" y2="1055.1" stroke="#262626" stroke-width="1.5"/>
<circle cx="610" cy="1055.1" r="2.4" fill="#ffffff" stroke="#262626" stroke-width="1.2"/>
<text transform="translate(631.9 1057.5) scale(0.905 1)" fill="#3a3a3a" font-size="6.8">Surgery; &lt;47.8y</text>
<line x1="596.6" y1="1062.1" x2="623.6" y2="1062.1" stroke="#b8b8b8" stroke-width="1.4" stroke-dasharray="5.65 5.65"/>
<rect x="607.8" y="1059.9" width="4.4" height="4.4" fill="#e0e0e0" stroke="#c4c4c4" stroke-width="1.2"/>
<text transform="translate(631.9 1064.5) scale(0.905 1)" fill="#3a3a3a" font-size="6.8">Control; &#8805;47.8y</text>
<line x1="596.6" y1="1069.2" x2="623.6" y2="1069.2" stroke="#b4b4b4" stroke-width="1.4"/>
<circle cx="610" cy="1069.2" r="2.4" fill="#ffffff" stroke="#b4b4b4" stroke-width="1.2"/>
<text transform="translate(631.9 1071.6) scale(0.905 1)" fill="#3a3a3a" font-size="6.8">Control; &lt;47.8y</text>
</svg>
</body></html>
